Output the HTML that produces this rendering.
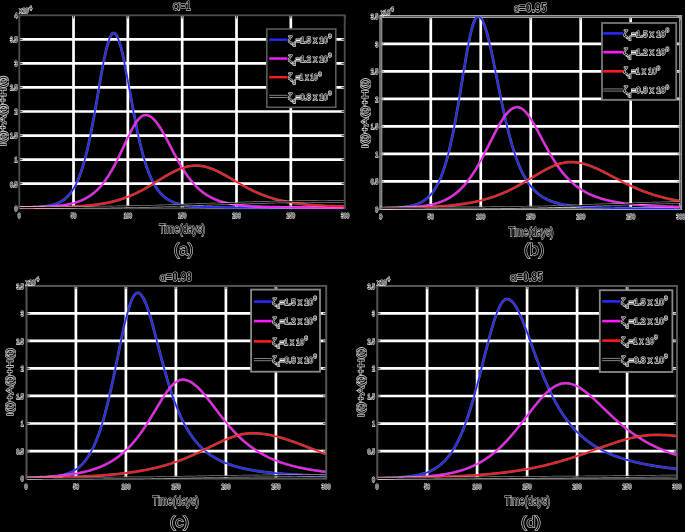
<!DOCTYPE html><html><head><meta charset="utf-8"><style>html,body{margin:0;padding:0;background:#000;overflow:hidden}svg{display:block;will-change:transform}.t{font-family:"Liberation Sans",sans-serif;fill:#000;stroke:#cfcfcf;stroke-width:1.25px;paint-order:stroke fill;}.b{font-weight:bold}.s{stroke:#f2f2f2;stroke-width:1.25px;}</style></head><body>
<svg width="685" height="532" viewBox="0 0 685 532">
<rect width="685" height="532" fill="#000"/>
<clipPath id="clipa"><rect x="19.900000000000002" y="15.3" width="324.2" height="194.3"/></clipPath>
<path d="M73.53,15.30V208.30M127.85,15.30V208.30M182.17,15.30V208.30M236.50,15.30V208.30M290.82,15.30V208.30M19.30,183.65H344.70M19.30,159.60H344.70M19.30,135.55H344.70M19.30,111.50H344.70M19.30,87.45H344.70M19.30,63.40H344.70M19.30,39.35H344.70" stroke="#fff" stroke-width="2.7" fill="none"/>
<rect x="19.3" y="15.3" width="325.4" height="193.0" fill="none" stroke="#4d4d4d" stroke-width="1.8"/>
<path d="M19.20,208.30v-3.2M19.20,15.30v3.2M73.53,208.30v-3.2M73.53,15.30v3.2M127.85,208.30v-3.2M127.85,15.30v3.2M182.17,208.30v-3.2M182.17,15.30v3.2M236.50,208.30v-3.2M236.50,15.30v3.2M290.82,208.30v-3.2M290.82,15.30v3.2M345.15,208.30v-3.2M345.15,15.30v3.2M19.30,207.70h3.2M344.70,207.70h-3.2M19.30,183.65h3.2M344.70,183.65h-3.2M19.30,159.60h3.2M344.70,159.60h-3.2M19.30,135.55h3.2M344.70,135.55h-3.2M19.30,111.50h3.2M344.70,111.50h-3.2M19.30,87.45h3.2M344.70,87.45h-3.2M19.30,63.40h3.2M344.70,63.40h-3.2M19.30,39.35h3.2M344.70,39.35h-3.2M19.30,15.30h3.2M344.70,15.30h-3.2" stroke="#4d4d4d" stroke-width="1.2" fill="none"/>
<g clip-path="url(#clipa)" fill="none" stroke-linejoin="round">
<path d="M19.3,207.6 L20.2,207.5 L21.2,207.5 L22.1,207.5 L23.0,207.5 L24.0,207.5 L24.9,207.5 L25.8,207.4 L26.8,207.4 L27.7,207.4 L28.6,207.4 L29.5,207.4 L30.5,207.3 L31.4,207.3 L32.3,207.3 L33.3,207.2 L34.2,207.2 L35.1,207.1 L36.1,207.1 L37.0,207.0 L37.9,207.0 L38.9,206.9 L39.8,206.8 L40.7,206.8 L41.6,206.7 L42.6,206.6 L43.5,206.5 L44.4,206.4 L45.4,206.3 L46.3,206.1 L47.2,206.0 L48.2,205.8 L49.1,205.7 L50.0,205.5 L51.0,205.3 L51.9,205.1 L52.8,204.8 L53.8,204.5 L54.7,204.3 L55.6,203.9 L56.5,203.6 L57.5,203.2 L58.4,202.8 L59.3,202.4 L60.3,201.9 L61.2,201.4 L62.1,200.8 L63.1,200.2 L64.0,199.6 L64.9,198.9 L65.8,198.1 L66.8,197.2 L67.7,196.3 L68.7,195.3 L69.6,194.3 L70.5,193.1 L71.4,191.9 L72.4,190.5 L73.3,189.1 L74.2,187.5 L75.2,185.8 L76.1,184.0 L77.0,182.0 L78.0,179.9 L78.9,177.7 L79.8,175.3 L80.8,172.7 L81.7,170.0 L82.6,167.1 L83.5,164.0 L84.5,160.7 L85.4,157.3 L86.3,153.6 L87.3,149.8 L88.2,145.7 L89.1,141.5 L90.1,137.1 L91.0,132.5 L91.9,127.7 L92.8,122.8 L93.8,117.7 L94.7,112.5 L95.7,107.2 L96.6,101.8 L97.5,96.4 L98.4,90.9 L99.4,85.5 L100.3,80.1 L101.2,74.8 L102.2,69.6 L103.1,64.6 L104.0,59.9 L105.0,55.3 L105.9,51.1 L106.8,47.3 L107.8,43.8 L108.7,40.8 L109.6,38.2 L110.5,36.1 L111.5,34.5 L112.4,33.5 L113.3,33.0 L114.3,33.0 L115.2,33.6 L116.1,34.7 L117.1,36.2 L118.0,38.2 L118.9,40.7 L119.8,43.6 L120.8,46.8 L121.7,50.5 L122.7,54.4 L123.6,58.6 L124.5,63.1 L125.4,67.8 L126.4,72.7 L127.3,77.7 L128.2,82.8 L129.2,87.9 L130.1,93.0 L131.0,98.2 L132.0,103.3 L132.9,108.4 L133.8,113.4 L134.8,118.2 L135.7,123.0 L136.6,127.6 L137.5,132.1 L138.5,136.4 L139.4,140.5 L140.3,144.5 L141.3,148.3 L142.2,151.9 L143.1,155.4 L144.1,158.7 L145.0,161.8 L145.9,164.7 L146.8,167.5 L147.8,170.1 L148.7,172.6 L149.7,174.9 L150.6,177.1 L151.5,179.2 L152.4,181.1 L153.4,182.9 L154.3,184.6 L155.2,186.1 L156.2,187.6 L157.1,188.9 L158.0,190.2 L159.0,191.4 L159.9,192.5 L160.8,193.6 L161.8,194.5 L162.7,195.4 L163.6,196.3 L164.5,197.0 L165.5,197.8 L166.4,198.4 L167.3,199.1 L168.3,199.6 L169.2,200.2 L170.1,200.7 L171.1,201.1 L172.0,201.6 L172.9,202.0 L173.8,202.3 L174.8,202.7 L175.7,203.0 L176.7,203.3 L177.6,203.6 L178.5,203.9 L179.4,204.1 L180.4,204.3 L181.3,204.6 L182.2,204.8 L183.2,204.9 L184.1,205.1 L185.0,205.3 L186.0,205.4 L186.9,205.6 L187.8,205.7 L188.8,205.8 L189.7,205.9 L190.6,206.0 L191.5,206.1 L192.5,206.2 L193.4,206.3 L194.3,206.4 L195.3,206.5 L196.2,206.5 L197.1,206.6 L198.1,206.7 L199.0,206.7 L199.9,206.8 L200.8,206.8 L201.8,206.9 L202.7,206.9 L203.7,207.0 L204.6,207.0 L205.5,207.0 L206.4,207.1 L207.4,207.1 L208.3,207.1 L209.2,207.2 L210.2,207.2 L211.1,207.2 L212.0,207.2 L213.0,207.3 L213.9,207.3 L214.8,207.3 L215.8,207.3 L216.7,207.3 L217.6,207.4 L218.5,207.4 L219.5,207.4 L220.4,207.4 L221.3,207.4 L222.3,207.4 L223.2,207.4 L224.1,207.5 L225.1,207.5 L226.0,207.5 L226.9,207.5 L227.8,207.5 L228.8,207.5 L229.7,207.5 L230.7,207.5 L231.6,207.5 L232.5,207.5 L233.4,207.6 L234.4,207.6 L235.3,207.6 L236.2,207.6 L237.2,207.6 L238.1,207.6 L239.0,207.6 L240.0,207.6 L240.9,207.6 L241.8,207.6 L242.8,207.6 L243.7,207.6 L244.6,207.6 L245.5,207.6 L246.5,207.6 L247.4,207.6 L248.3,207.6 L249.3,207.6 L250.2,207.6 L251.1,207.6 L252.1,207.6 L253.0,207.6 L253.9,207.6 L254.8,207.6 L255.8,207.6 L256.7,207.6 L257.6,207.6 L258.6,207.6 L259.5,207.6 L260.4,207.6 L261.4,207.7 L262.3,207.7 L263.2,207.7 L264.2,207.7 L265.1,207.7 L266.0,207.7 L267.0,207.7 L267.9,207.7 L268.8,207.7 L269.8,207.7 L270.7,207.7 L271.6,207.7 L272.5,207.7 L273.5,207.7 L274.4,207.7 L275.3,207.7 L276.3,207.7 L277.2,207.7 L278.1,207.7 L279.1,207.7 L280.0,207.7 L280.9,207.7 L281.9,207.7 L282.8,207.7 L283.7,207.7 L284.6,207.7 L285.6,207.7 L286.5,207.7 L287.4,207.7 L288.4,207.7 L289.3,207.7 L290.2,207.7 L291.2,207.7 L292.1,207.7 L293.0,207.7 L294.0,207.7 L294.9,207.7 L295.8,207.7 L296.8,207.7 L297.7,207.7 L298.6,207.7 L299.5,207.7 L300.5,207.7 L301.4,207.7 L302.3,207.7 L303.3,207.7 L304.2,207.7 L305.1,207.7 L306.1,207.7 L307.0,207.7 L307.9,207.7 L308.9,207.7 L309.8,207.7 L310.7,207.7 L311.6,207.7 L312.6,207.7 L313.5,207.7 L314.4,207.7 L315.4,207.7 L316.3,207.7 L317.2,207.7 L318.2,207.7 L319.1,207.7 L320.0,207.7 L321.0,207.7 L321.9,207.7 L322.8,207.7 L323.8,207.7 L324.7,207.7 L325.6,207.7 L326.5,207.7 L327.5,207.7 L328.4,207.7 L329.3,207.7 L330.3,207.7 L331.2,207.7 L332.1,207.7 L333.1,207.7 L334.0,207.7 L334.9,207.7 L335.9,207.7 L336.8,207.7 L337.7,207.7 L338.6,207.7 L339.6,207.7 L340.5,207.7 L341.4,207.7 L342.4,207.7 L343.3,207.7 L344.2,207.7" stroke="rgba(255,255,255,0.4)" stroke-width="2.7"/>
<path d="M19.3,207.6 L20.2,207.5 L21.2,207.5 L22.1,207.5 L23.0,207.5 L24.0,207.5 L24.9,207.5 L25.8,207.4 L26.8,207.4 L27.7,207.4 L28.6,207.4 L29.5,207.4 L30.5,207.3 L31.4,207.3 L32.3,207.3 L33.3,207.2 L34.2,207.2 L35.1,207.1 L36.1,207.1 L37.0,207.0 L37.9,207.0 L38.9,206.9 L39.8,206.8 L40.7,206.8 L41.6,206.7 L42.6,206.6 L43.5,206.5 L44.4,206.4 L45.4,206.3 L46.3,206.1 L47.2,206.0 L48.2,205.8 L49.1,205.7 L50.0,205.5 L51.0,205.3 L51.9,205.1 L52.8,204.8 L53.8,204.5 L54.7,204.3 L55.6,203.9 L56.5,203.6 L57.5,203.2 L58.4,202.8 L59.3,202.4 L60.3,201.9 L61.2,201.4 L62.1,200.8 L63.1,200.2 L64.0,199.6 L64.9,198.9 L65.8,198.1 L66.8,197.2 L67.7,196.3 L68.7,195.3 L69.6,194.3 L70.5,193.1 L71.4,191.9 L72.4,190.5 L73.3,189.1 L74.2,187.5 L75.2,185.8 L76.1,184.0 L77.0,182.0 L78.0,179.9 L78.9,177.7 L79.8,175.3 L80.8,172.7 L81.7,170.0 L82.6,167.1 L83.5,164.0 L84.5,160.7 L85.4,157.3 L86.3,153.6 L87.3,149.8 L88.2,145.7 L89.1,141.5 L90.1,137.1 L91.0,132.5 L91.9,127.7 L92.8,122.8 L93.8,117.7 L94.7,112.5 L95.7,107.2 L96.6,101.8 L97.5,96.4 L98.4,90.9 L99.4,85.5 L100.3,80.1 L101.2,74.8 L102.2,69.6 L103.1,64.6 L104.0,59.9 L105.0,55.3 L105.9,51.1 L106.8,47.3 L107.8,43.8 L108.7,40.8 L109.6,38.2 L110.5,36.1 L111.5,34.5 L112.4,33.5 L113.3,33.0 L114.3,33.0 L115.2,33.6 L116.1,34.7 L117.1,36.2 L118.0,38.2 L118.9,40.7 L119.8,43.6 L120.8,46.8 L121.7,50.5 L122.7,54.4 L123.6,58.6 L124.5,63.1 L125.4,67.8 L126.4,72.7 L127.3,77.7 L128.2,82.8 L129.2,87.9 L130.1,93.0 L131.0,98.2 L132.0,103.3 L132.9,108.4 L133.8,113.4 L134.8,118.2 L135.7,123.0 L136.6,127.6 L137.5,132.1 L138.5,136.4 L139.4,140.5 L140.3,144.5 L141.3,148.3 L142.2,151.9 L143.1,155.4 L144.1,158.7 L145.0,161.8 L145.9,164.7 L146.8,167.5 L147.8,170.1 L148.7,172.6 L149.7,174.9 L150.6,177.1 L151.5,179.2 L152.4,181.1 L153.4,182.9 L154.3,184.6 L155.2,186.1 L156.2,187.6 L157.1,188.9 L158.0,190.2 L159.0,191.4 L159.9,192.5 L160.8,193.6 L161.8,194.5 L162.7,195.4 L163.6,196.3 L164.5,197.0 L165.5,197.8 L166.4,198.4 L167.3,199.1 L168.3,199.6 L169.2,200.2 L170.1,200.7 L171.1,201.1 L172.0,201.6 L172.9,202.0 L173.8,202.3 L174.8,202.7 L175.7,203.0 L176.7,203.3 L177.6,203.6 L178.5,203.9 L179.4,204.1 L180.4,204.3 L181.3,204.6 L182.2,204.8 L183.2,204.9 L184.1,205.1 L185.0,205.3 L186.0,205.4 L186.9,205.6 L187.8,205.7 L188.8,205.8 L189.7,205.9 L190.6,206.0 L191.5,206.1 L192.5,206.2 L193.4,206.3 L194.3,206.4 L195.3,206.5 L196.2,206.5 L197.1,206.6 L198.1,206.7 L199.0,206.7 L199.9,206.8 L200.8,206.8 L201.8,206.9 L202.7,206.9 L203.7,207.0 L204.6,207.0 L205.5,207.0 L206.4,207.1 L207.4,207.1 L208.3,207.1 L209.2,207.2 L210.2,207.2 L211.1,207.2 L212.0,207.2 L213.0,207.3 L213.9,207.3 L214.8,207.3 L215.8,207.3 L216.7,207.3 L217.6,207.4 L218.5,207.4 L219.5,207.4 L220.4,207.4 L221.3,207.4 L222.3,207.4 L223.2,207.4 L224.1,207.5 L225.1,207.5 L226.0,207.5 L226.9,207.5 L227.8,207.5 L228.8,207.5 L229.7,207.5 L230.7,207.5 L231.6,207.5 L232.5,207.5 L233.4,207.6 L234.4,207.6 L235.3,207.6 L236.2,207.6 L237.2,207.6 L238.1,207.6 L239.0,207.6 L240.0,207.6 L240.9,207.6 L241.8,207.6 L242.8,207.6 L243.7,207.6 L244.6,207.6 L245.5,207.6 L246.5,207.6 L247.4,207.6 L248.3,207.6 L249.3,207.6 L250.2,207.6 L251.1,207.6 L252.1,207.6 L253.0,207.6 L253.9,207.6 L254.8,207.6 L255.8,207.6 L256.7,207.6 L257.6,207.6 L258.6,207.6 L259.5,207.6 L260.4,207.6 L261.4,207.7 L262.3,207.7 L263.2,207.7 L264.2,207.7 L265.1,207.7 L266.0,207.7 L267.0,207.7 L267.9,207.7 L268.8,207.7 L269.8,207.7 L270.7,207.7 L271.6,207.7 L272.5,207.7 L273.5,207.7 L274.4,207.7 L275.3,207.7 L276.3,207.7 L277.2,207.7 L278.1,207.7 L279.1,207.7 L280.0,207.7 L280.9,207.7 L281.9,207.7 L282.8,207.7 L283.7,207.7 L284.6,207.7 L285.6,207.7 L286.5,207.7 L287.4,207.7 L288.4,207.7 L289.3,207.7 L290.2,207.7 L291.2,207.7 L292.1,207.7 L293.0,207.7 L294.0,207.7 L294.9,207.7 L295.8,207.7 L296.8,207.7 L297.7,207.7 L298.6,207.7 L299.5,207.7 L300.5,207.7 L301.4,207.7 L302.3,207.7 L303.3,207.7 L304.2,207.7 L305.1,207.7 L306.1,207.7 L307.0,207.7 L307.9,207.7 L308.9,207.7 L309.8,207.7 L310.7,207.7 L311.6,207.7 L312.6,207.7 L313.5,207.7 L314.4,207.7 L315.4,207.7 L316.3,207.7 L317.2,207.7 L318.2,207.7 L319.1,207.7 L320.0,207.7 L321.0,207.7 L321.9,207.7 L322.8,207.7 L323.8,207.7 L324.7,207.7 L325.6,207.7 L326.5,207.7 L327.5,207.7 L328.4,207.7 L329.3,207.7 L330.3,207.7 L331.2,207.7 L332.1,207.7 L333.1,207.7 L334.0,207.7 L334.9,207.7 L335.9,207.7 L336.8,207.7 L337.7,207.7 L338.6,207.7 L339.6,207.7 L340.5,207.7 L341.4,207.7 L342.4,207.7 L343.3,207.7 L344.2,207.7" stroke="#2828ff" stroke-width="1.8"/>
<path d="M19.3,207.5 L20.2,207.5 L21.2,207.4 L22.1,207.4 L23.0,207.4 L24.0,207.4 L24.9,207.4 L25.8,207.4 L26.8,207.4 L27.7,207.4 L28.6,207.3 L29.5,207.3 L30.5,207.3 L31.4,207.3 L32.3,207.3 L33.3,207.2 L34.2,207.2 L35.1,207.2 L36.1,207.2 L37.0,207.2 L37.9,207.1 L38.9,207.1 L39.8,207.1 L40.7,207.0 L41.6,207.0 L42.6,206.9 L43.5,206.9 L44.4,206.9 L45.4,206.8 L46.3,206.8 L47.2,206.7 L48.2,206.7 L49.1,206.6 L50.0,206.5 L51.0,206.5 L51.9,206.4 L52.8,206.3 L53.8,206.3 L54.7,206.2 L55.6,206.1 L56.5,206.0 L57.5,205.9 L58.4,205.8 L59.3,205.7 L60.3,205.6 L61.2,205.5 L62.1,205.3 L63.1,205.2 L64.0,205.1 L64.9,204.9 L65.8,204.8 L66.8,204.6 L67.7,204.4 L68.7,204.2 L69.6,204.0 L70.5,203.8 L71.4,203.6 L72.4,203.4 L73.3,203.1 L74.2,202.9 L75.2,202.6 L76.1,202.3 L77.0,202.0 L78.0,201.7 L78.9,201.4 L79.8,201.0 L80.8,200.7 L81.7,200.3 L82.6,199.9 L83.5,199.4 L84.5,199.0 L85.4,198.5 L86.3,198.0 L87.3,197.5 L88.2,196.9 L89.1,196.3 L90.1,195.7 L91.0,195.1 L91.9,194.4 L92.8,193.7 L93.8,192.9 L94.7,192.2 L95.7,191.3 L96.6,190.5 L97.5,189.6 L98.4,188.7 L99.4,187.7 L100.3,186.7 L101.2,185.6 L102.2,184.5 L103.1,183.4 L104.0,182.2 L105.0,180.9 L105.9,179.6 L106.8,178.3 L107.8,176.9 L108.7,175.4 L109.6,173.9 L110.5,172.4 L111.5,170.8 L112.4,169.2 L113.3,167.5 L114.3,165.8 L115.2,164.0 L116.1,162.2 L117.1,160.4 L118.0,158.5 L118.9,156.6 L119.8,154.6 L120.8,152.7 L121.7,150.7 L122.7,148.7 L123.6,146.7 L124.5,144.7 L125.4,142.6 L126.4,140.6 L127.3,138.7 L128.2,136.7 L129.2,134.8 L130.1,132.9 L131.0,131.1 L132.0,129.3 L132.9,127.6 L133.8,126.0 L134.8,124.5 L135.7,123.0 L136.6,121.7 L137.5,120.4 L138.5,119.3 L139.4,118.3 L140.3,117.4 L141.3,116.7 L142.2,116.0 L143.1,115.6 L144.1,115.2 L145.0,115.1 L145.9,115.0 L146.8,115.1 L147.8,115.3 L148.7,115.7 L149.7,116.1 L150.6,116.6 L151.5,117.3 L152.4,118.0 L153.4,118.9 L154.3,119.8 L155.2,120.9 L156.2,122.0 L157.1,123.2 L158.0,124.5 L159.0,125.9 L159.9,127.3 L160.8,128.8 L161.8,130.3 L162.7,131.9 L163.6,133.6 L164.5,135.2 L165.5,136.9 L166.4,138.7 L167.3,140.4 L168.3,142.2 L169.2,144.0 L170.1,145.8 L171.1,147.6 L172.0,149.4 L172.9,151.2 L173.8,153.0 L174.8,154.7 L175.7,156.5 L176.7,158.2 L177.6,159.9 L178.5,161.5 L179.4,163.2 L180.4,164.8 L181.3,166.4 L182.2,167.9 L183.2,169.4 L184.1,170.9 L185.0,172.3 L186.0,173.7 L186.9,175.1 L187.8,176.4 L188.8,177.6 L189.7,178.9 L190.6,180.1 L191.5,181.2 L192.5,182.3 L193.4,183.4 L194.3,184.4 L195.3,185.4 L196.2,186.4 L197.1,187.3 L198.1,188.2 L199.0,189.1 L199.9,189.9 L200.8,190.7 L201.8,191.4 L202.7,192.2 L203.7,192.9 L204.6,193.5 L205.5,194.2 L206.4,194.8 L207.4,195.4 L208.3,195.9 L209.2,196.4 L210.2,197.0 L211.1,197.4 L212.0,197.9 L213.0,198.4 L213.9,198.8 L214.8,199.2 L215.8,199.6 L216.7,199.9 L217.6,200.3 L218.5,200.6 L219.5,201.0 L220.4,201.3 L221.3,201.6 L222.3,201.8 L223.2,202.1 L224.1,202.3 L225.1,202.6 L226.0,202.8 L226.9,203.0 L227.8,203.2 L228.8,203.4 L229.7,203.6 L230.7,203.8 L231.6,204.0 L232.5,204.2 L233.4,204.3 L234.4,204.5 L235.3,204.6 L236.2,204.7 L237.2,204.9 L238.1,205.0 L239.0,205.1 L240.0,205.2 L240.9,205.3 L241.8,205.4 L242.8,205.5 L243.7,205.6 L244.6,205.7 L245.5,205.8 L246.5,205.9 L247.4,205.9 L248.3,206.0 L249.3,206.1 L250.2,206.2 L251.1,206.2 L252.1,206.3 L253.0,206.3 L253.9,206.4 L254.8,206.4 L255.8,206.5 L256.7,206.6 L257.6,206.6 L258.6,206.6 L259.5,206.7 L260.4,206.7 L261.4,206.8 L262.3,206.8 L263.2,206.8 L264.2,206.9 L265.1,206.9 L266.0,206.9 L267.0,206.9 L267.9,207.0 L268.8,207.0 L269.8,207.0 L270.7,207.1 L271.6,207.1 L272.5,207.1 L273.5,207.1 L274.4,207.2 L275.3,207.2 L276.3,207.2 L277.2,207.2 L278.1,207.2 L279.1,207.2 L280.0,207.2 L280.9,207.3 L281.9,207.3 L282.8,207.3 L283.7,207.3 L284.6,207.3 L285.6,207.3 L286.5,207.3 L287.4,207.4 L288.4,207.4 L289.3,207.4 L290.2,207.4 L291.2,207.4 L292.1,207.4 L293.0,207.4 L294.0,207.4 L294.9,207.4 L295.8,207.4 L296.8,207.5 L297.7,207.5 L298.6,207.5 L299.5,207.5 L300.5,207.5 L301.4,207.5 L302.3,207.5 L303.3,207.5 L304.2,207.5 L305.1,207.5 L306.1,207.5 L307.0,207.5 L307.9,207.5 L308.9,207.5 L309.8,207.6 L310.7,207.6 L311.6,207.6 L312.6,207.6 L313.5,207.6 L314.4,207.6 L315.4,207.6 L316.3,207.6 L317.2,207.6 L318.2,207.6 L319.1,207.6 L320.0,207.6 L321.0,207.6 L321.9,207.6 L322.8,207.6 L323.8,207.6 L324.7,207.6 L325.6,207.6 L326.5,207.6 L327.5,207.6 L328.4,207.6 L329.3,207.6 L330.3,207.6 L331.2,207.6 L332.1,207.6 L333.1,207.6 L334.0,207.6 L334.9,207.7 L335.9,207.7 L336.8,207.7 L337.7,207.7 L338.6,207.7 L339.6,207.7 L340.5,207.7 L341.4,207.7 L342.4,207.7 L343.3,207.7 L344.2,207.7" stroke="rgba(255,255,255,0.4)" stroke-width="2.7"/>
<path d="M19.3,207.5 L20.2,207.5 L21.2,207.4 L22.1,207.4 L23.0,207.4 L24.0,207.4 L24.9,207.4 L25.8,207.4 L26.8,207.4 L27.7,207.4 L28.6,207.3 L29.5,207.3 L30.5,207.3 L31.4,207.3 L32.3,207.3 L33.3,207.2 L34.2,207.2 L35.1,207.2 L36.1,207.2 L37.0,207.2 L37.9,207.1 L38.9,207.1 L39.8,207.1 L40.7,207.0 L41.6,207.0 L42.6,206.9 L43.5,206.9 L44.4,206.9 L45.4,206.8 L46.3,206.8 L47.2,206.7 L48.2,206.7 L49.1,206.6 L50.0,206.5 L51.0,206.5 L51.9,206.4 L52.8,206.3 L53.8,206.3 L54.7,206.2 L55.6,206.1 L56.5,206.0 L57.5,205.9 L58.4,205.8 L59.3,205.7 L60.3,205.6 L61.2,205.5 L62.1,205.3 L63.1,205.2 L64.0,205.1 L64.9,204.9 L65.8,204.8 L66.8,204.6 L67.7,204.4 L68.7,204.2 L69.6,204.0 L70.5,203.8 L71.4,203.6 L72.4,203.4 L73.3,203.1 L74.2,202.9 L75.2,202.6 L76.1,202.3 L77.0,202.0 L78.0,201.7 L78.9,201.4 L79.8,201.0 L80.8,200.7 L81.7,200.3 L82.6,199.9 L83.5,199.4 L84.5,199.0 L85.4,198.5 L86.3,198.0 L87.3,197.5 L88.2,196.9 L89.1,196.3 L90.1,195.7 L91.0,195.1 L91.9,194.4 L92.8,193.7 L93.8,192.9 L94.7,192.2 L95.7,191.3 L96.6,190.5 L97.5,189.6 L98.4,188.7 L99.4,187.7 L100.3,186.7 L101.2,185.6 L102.2,184.5 L103.1,183.4 L104.0,182.2 L105.0,180.9 L105.9,179.6 L106.8,178.3 L107.8,176.9 L108.7,175.4 L109.6,173.9 L110.5,172.4 L111.5,170.8 L112.4,169.2 L113.3,167.5 L114.3,165.8 L115.2,164.0 L116.1,162.2 L117.1,160.4 L118.0,158.5 L118.9,156.6 L119.8,154.6 L120.8,152.7 L121.7,150.7 L122.7,148.7 L123.6,146.7 L124.5,144.7 L125.4,142.6 L126.4,140.6 L127.3,138.7 L128.2,136.7 L129.2,134.8 L130.1,132.9 L131.0,131.1 L132.0,129.3 L132.9,127.6 L133.8,126.0 L134.8,124.5 L135.7,123.0 L136.6,121.7 L137.5,120.4 L138.5,119.3 L139.4,118.3 L140.3,117.4 L141.3,116.7 L142.2,116.0 L143.1,115.6 L144.1,115.2 L145.0,115.1 L145.9,115.0 L146.8,115.1 L147.8,115.3 L148.7,115.7 L149.7,116.1 L150.6,116.6 L151.5,117.3 L152.4,118.0 L153.4,118.9 L154.3,119.8 L155.2,120.9 L156.2,122.0 L157.1,123.2 L158.0,124.5 L159.0,125.9 L159.9,127.3 L160.8,128.8 L161.8,130.3 L162.7,131.9 L163.6,133.6 L164.5,135.2 L165.5,136.9 L166.4,138.7 L167.3,140.4 L168.3,142.2 L169.2,144.0 L170.1,145.8 L171.1,147.6 L172.0,149.4 L172.9,151.2 L173.8,153.0 L174.8,154.7 L175.7,156.5 L176.7,158.2 L177.6,159.9 L178.5,161.5 L179.4,163.2 L180.4,164.8 L181.3,166.4 L182.2,167.9 L183.2,169.4 L184.1,170.9 L185.0,172.3 L186.0,173.7 L186.9,175.1 L187.8,176.4 L188.8,177.6 L189.7,178.9 L190.6,180.1 L191.5,181.2 L192.5,182.3 L193.4,183.4 L194.3,184.4 L195.3,185.4 L196.2,186.4 L197.1,187.3 L198.1,188.2 L199.0,189.1 L199.9,189.9 L200.8,190.7 L201.8,191.4 L202.7,192.2 L203.7,192.9 L204.6,193.5 L205.5,194.2 L206.4,194.8 L207.4,195.4 L208.3,195.9 L209.2,196.4 L210.2,197.0 L211.1,197.4 L212.0,197.9 L213.0,198.4 L213.9,198.8 L214.8,199.2 L215.8,199.6 L216.7,199.9 L217.6,200.3 L218.5,200.6 L219.5,201.0 L220.4,201.3 L221.3,201.6 L222.3,201.8 L223.2,202.1 L224.1,202.3 L225.1,202.6 L226.0,202.8 L226.9,203.0 L227.8,203.2 L228.8,203.4 L229.7,203.6 L230.7,203.8 L231.6,204.0 L232.5,204.2 L233.4,204.3 L234.4,204.5 L235.3,204.6 L236.2,204.7 L237.2,204.9 L238.1,205.0 L239.0,205.1 L240.0,205.2 L240.9,205.3 L241.8,205.4 L242.8,205.5 L243.7,205.6 L244.6,205.7 L245.5,205.8 L246.5,205.9 L247.4,205.9 L248.3,206.0 L249.3,206.1 L250.2,206.2 L251.1,206.2 L252.1,206.3 L253.0,206.3 L253.9,206.4 L254.8,206.4 L255.8,206.5 L256.7,206.6 L257.6,206.6 L258.6,206.6 L259.5,206.7 L260.4,206.7 L261.4,206.8 L262.3,206.8 L263.2,206.8 L264.2,206.9 L265.1,206.9 L266.0,206.9 L267.0,206.9 L267.9,207.0 L268.8,207.0 L269.8,207.0 L270.7,207.1 L271.6,207.1 L272.5,207.1 L273.5,207.1 L274.4,207.2 L275.3,207.2 L276.3,207.2 L277.2,207.2 L278.1,207.2 L279.1,207.2 L280.0,207.2 L280.9,207.3 L281.9,207.3 L282.8,207.3 L283.7,207.3 L284.6,207.3 L285.6,207.3 L286.5,207.3 L287.4,207.4 L288.4,207.4 L289.3,207.4 L290.2,207.4 L291.2,207.4 L292.1,207.4 L293.0,207.4 L294.0,207.4 L294.9,207.4 L295.8,207.4 L296.8,207.5 L297.7,207.5 L298.6,207.5 L299.5,207.5 L300.5,207.5 L301.4,207.5 L302.3,207.5 L303.3,207.5 L304.2,207.5 L305.1,207.5 L306.1,207.5 L307.0,207.5 L307.9,207.5 L308.9,207.5 L309.8,207.6 L310.7,207.6 L311.6,207.6 L312.6,207.6 L313.5,207.6 L314.4,207.6 L315.4,207.6 L316.3,207.6 L317.2,207.6 L318.2,207.6 L319.1,207.6 L320.0,207.6 L321.0,207.6 L321.9,207.6 L322.8,207.6 L323.8,207.6 L324.7,207.6 L325.6,207.6 L326.5,207.6 L327.5,207.6 L328.4,207.6 L329.3,207.6 L330.3,207.6 L331.2,207.6 L332.1,207.6 L333.1,207.6 L334.0,207.6 L334.9,207.7 L335.9,207.7 L336.8,207.7 L337.7,207.7 L338.6,207.7 L339.6,207.7 L340.5,207.7 L341.4,207.7 L342.4,207.7 L343.3,207.7 L344.2,207.7" stroke="#ff1aff" stroke-width="1.8"/>
<path d="M19.3,207.7 L20.2,207.7 L21.2,207.7 L22.1,207.7 L23.0,207.7 L24.0,207.7 L24.9,207.7 L25.8,207.7 L26.8,207.6 L27.7,207.6 L28.6,207.6 L29.5,207.6 L30.5,207.6 L31.4,207.6 L32.3,207.6 L33.3,207.6 L34.2,207.6 L35.1,207.6 L36.1,207.6 L37.0,207.5 L37.9,207.5 L38.9,207.5 L39.8,207.5 L40.7,207.5 L41.6,207.5 L42.6,207.5 L43.5,207.5 L44.4,207.4 L45.4,207.4 L46.3,207.4 L47.2,207.4 L48.2,207.4 L49.1,207.4 L50.0,207.3 L51.0,207.3 L51.9,207.3 L52.8,207.3 L53.8,207.3 L54.7,207.3 L55.6,207.2 L56.5,207.2 L57.5,207.2 L58.4,207.2 L59.3,207.2 L60.3,207.1 L61.2,207.1 L62.1,207.1 L63.1,207.0 L64.0,207.0 L64.9,207.0 L65.8,206.9 L66.8,206.9 L67.7,206.9 L68.7,206.8 L69.6,206.8 L70.5,206.8 L71.4,206.7 L72.4,206.7 L73.3,206.6 L74.2,206.6 L75.2,206.5 L76.1,206.5 L77.0,206.4 L78.0,206.4 L78.9,206.3 L79.8,206.2 L80.8,206.2 L81.7,206.1 L82.6,206.1 L83.5,206.0 L84.5,205.9 L85.4,205.8 L86.3,205.7 L87.3,205.7 L88.2,205.6 L89.1,205.5 L90.1,205.4 L91.0,205.3 L91.9,205.2 L92.8,205.1 L93.8,205.0 L94.7,204.8 L95.7,204.7 L96.6,204.6 L97.5,204.5 L98.4,204.3 L99.4,204.2 L100.3,204.1 L101.2,203.9 L102.2,203.8 L103.1,203.6 L104.0,203.4 L105.0,203.3 L105.9,203.1 L106.8,202.9 L107.8,202.7 L108.7,202.5 L109.6,202.3 L110.5,202.1 L111.5,201.9 L112.4,201.7 L113.3,201.4 L114.3,201.2 L115.2,200.9 L116.1,200.7 L117.1,200.4 L118.0,200.2 L118.9,199.9 L119.8,199.6 L120.8,199.3 L121.7,199.0 L122.7,198.7 L123.6,198.4 L124.5,198.0 L125.4,197.7 L126.4,197.3 L127.3,197.0 L128.2,196.6 L129.2,196.2 L130.1,195.9 L131.0,195.5 L132.0,195.1 L132.9,194.7 L133.8,194.2 L134.8,193.8 L135.7,193.4 L136.6,192.9 L137.5,192.5 L138.5,192.0 L139.4,191.5 L140.3,191.1 L141.3,190.6 L142.2,190.1 L143.1,189.6 L144.1,189.1 L145.0,188.5 L145.9,188.0 L146.8,187.5 L147.8,186.9 L148.7,186.4 L149.7,185.9 L150.6,185.3 L151.5,184.8 L152.4,184.2 L153.4,183.6 L154.3,183.1 L155.2,182.5 L156.2,181.9 L157.1,181.3 L158.0,180.8 L159.0,180.2 L159.9,179.6 L160.8,179.1 L161.8,178.5 L162.7,177.9 L163.6,177.4 L164.5,176.8 L165.5,176.3 L166.4,175.7 L167.3,175.2 L168.3,174.7 L169.2,174.1 L170.1,173.6 L171.1,173.1 L172.0,172.6 L172.9,172.1 L173.8,171.7 L174.8,171.2 L175.7,170.8 L176.7,170.3 L177.6,169.9 L178.5,169.5 L179.4,169.1 L180.4,168.7 L181.3,168.4 L182.2,168.1 L183.2,167.8 L184.1,167.4 L185.0,167.2 L186.0,166.9 L186.9,166.7 L187.8,166.5 L188.8,166.3 L189.7,166.1 L190.6,166.0 L191.5,165.9 L192.5,165.8 L193.4,165.7 L194.3,165.6 L195.3,165.6 L196.2,165.6 L197.1,165.6 L198.1,165.7 L199.0,165.7 L199.9,165.8 L200.8,165.9 L201.8,166.1 L202.7,166.2 L203.7,166.4 L204.6,166.6 L205.5,166.8 L206.4,167.0 L207.4,167.3 L208.3,167.6 L209.2,167.9 L210.2,168.2 L211.1,168.5 L212.0,168.9 L213.0,169.2 L213.9,169.6 L214.8,170.0 L215.8,170.4 L216.7,170.9 L217.6,171.3 L218.5,171.8 L219.5,172.2 L220.4,172.7 L221.3,173.2 L222.3,173.7 L223.2,174.2 L224.1,174.7 L225.1,175.2 L226.0,175.7 L226.9,176.3 L227.8,176.8 L228.8,177.3 L229.7,177.9 L230.7,178.4 L231.6,179.0 L232.5,179.5 L233.4,180.0 L234.4,180.6 L235.3,181.1 L236.2,181.7 L237.2,182.2 L238.1,182.8 L239.0,183.3 L240.0,183.8 L240.9,184.3 L241.8,184.9 L242.8,185.4 L243.7,185.9 L244.6,186.4 L245.5,186.9 L246.5,187.4 L247.4,187.9 L248.3,188.4 L249.3,188.9 L250.2,189.3 L251.1,189.8 L252.1,190.3 L253.0,190.7 L253.9,191.2 L254.8,191.6 L255.8,192.0 L256.7,192.4 L257.6,192.8 L258.6,193.2 L259.5,193.6 L260.4,194.0 L261.4,194.4 L262.3,194.8 L263.2,195.1 L264.2,195.5 L265.1,195.8 L266.0,196.1 L267.0,196.5 L267.9,196.8 L268.8,197.1 L269.8,197.4 L270.7,197.7 L271.6,198.0 L272.5,198.3 L273.5,198.6 L274.4,198.8 L275.3,199.1 L276.3,199.3 L277.2,199.6 L278.1,199.8 L279.1,200.1 L280.0,200.3 L280.9,200.5 L281.9,200.7 L282.8,200.9 L283.7,201.1 L284.6,201.3 L285.6,201.5 L286.5,201.7 L287.4,201.9 L288.4,202.1 L289.3,202.2 L290.2,202.4 L291.2,202.5 L292.1,202.7 L293.0,202.8 L294.0,203.0 L294.9,203.1 L295.8,203.3 L296.8,203.4 L297.7,203.5 L298.6,203.7 L299.5,203.8 L300.5,203.9 L301.4,204.0 L302.3,204.1 L303.3,204.2 L304.2,204.3 L305.1,204.4 L306.1,204.5 L307.0,204.6 L307.9,204.7 L308.9,204.8 L309.8,204.8 L310.7,204.9 L311.6,205.0 L312.6,205.1 L313.5,205.2 L314.4,205.2 L315.4,205.3 L316.3,205.3 L317.2,205.4 L318.2,205.5 L319.1,205.5 L320.0,205.6 L321.0,205.6 L321.9,205.7 L322.8,205.7 L323.8,205.8 L324.7,205.8 L325.6,205.9 L326.5,205.9 L327.5,206.0 L328.4,206.0 L329.3,206.0 L330.3,206.1 L331.2,206.1 L332.1,206.2 L333.1,206.2 L334.0,206.2 L334.9,206.2 L335.9,206.3 L336.8,206.3 L337.7,206.3 L338.6,206.3 L339.6,206.4 L340.5,206.4 L341.4,206.4 L342.4,206.4 L343.3,206.5 L344.2,206.5" stroke="rgba(255,255,255,0.4)" stroke-width="2.7"/>
<path d="M19.3,207.7 L20.2,207.7 L21.2,207.7 L22.1,207.7 L23.0,207.7 L24.0,207.7 L24.9,207.7 L25.8,207.7 L26.8,207.6 L27.7,207.6 L28.6,207.6 L29.5,207.6 L30.5,207.6 L31.4,207.6 L32.3,207.6 L33.3,207.6 L34.2,207.6 L35.1,207.6 L36.1,207.6 L37.0,207.5 L37.9,207.5 L38.9,207.5 L39.8,207.5 L40.7,207.5 L41.6,207.5 L42.6,207.5 L43.5,207.5 L44.4,207.4 L45.4,207.4 L46.3,207.4 L47.2,207.4 L48.2,207.4 L49.1,207.4 L50.0,207.3 L51.0,207.3 L51.9,207.3 L52.8,207.3 L53.8,207.3 L54.7,207.3 L55.6,207.2 L56.5,207.2 L57.5,207.2 L58.4,207.2 L59.3,207.2 L60.3,207.1 L61.2,207.1 L62.1,207.1 L63.1,207.0 L64.0,207.0 L64.9,207.0 L65.8,206.9 L66.8,206.9 L67.7,206.9 L68.7,206.8 L69.6,206.8 L70.5,206.8 L71.4,206.7 L72.4,206.7 L73.3,206.6 L74.2,206.6 L75.2,206.5 L76.1,206.5 L77.0,206.4 L78.0,206.4 L78.9,206.3 L79.8,206.2 L80.8,206.2 L81.7,206.1 L82.6,206.1 L83.5,206.0 L84.5,205.9 L85.4,205.8 L86.3,205.7 L87.3,205.7 L88.2,205.6 L89.1,205.5 L90.1,205.4 L91.0,205.3 L91.9,205.2 L92.8,205.1 L93.8,205.0 L94.7,204.8 L95.7,204.7 L96.6,204.6 L97.5,204.5 L98.4,204.3 L99.4,204.2 L100.3,204.1 L101.2,203.9 L102.2,203.8 L103.1,203.6 L104.0,203.4 L105.0,203.3 L105.9,203.1 L106.8,202.9 L107.8,202.7 L108.7,202.5 L109.6,202.3 L110.5,202.1 L111.5,201.9 L112.4,201.7 L113.3,201.4 L114.3,201.2 L115.2,200.9 L116.1,200.7 L117.1,200.4 L118.0,200.2 L118.9,199.9 L119.8,199.6 L120.8,199.3 L121.7,199.0 L122.7,198.7 L123.6,198.4 L124.5,198.0 L125.4,197.7 L126.4,197.3 L127.3,197.0 L128.2,196.6 L129.2,196.2 L130.1,195.9 L131.0,195.5 L132.0,195.1 L132.9,194.7 L133.8,194.2 L134.8,193.8 L135.7,193.4 L136.6,192.9 L137.5,192.5 L138.5,192.0 L139.4,191.5 L140.3,191.1 L141.3,190.6 L142.2,190.1 L143.1,189.6 L144.1,189.1 L145.0,188.5 L145.9,188.0 L146.8,187.5 L147.8,186.9 L148.7,186.4 L149.7,185.9 L150.6,185.3 L151.5,184.8 L152.4,184.2 L153.4,183.6 L154.3,183.1 L155.2,182.5 L156.2,181.9 L157.1,181.3 L158.0,180.8 L159.0,180.2 L159.9,179.6 L160.8,179.1 L161.8,178.5 L162.7,177.9 L163.6,177.4 L164.5,176.8 L165.5,176.3 L166.4,175.7 L167.3,175.2 L168.3,174.7 L169.2,174.1 L170.1,173.6 L171.1,173.1 L172.0,172.6 L172.9,172.1 L173.8,171.7 L174.8,171.2 L175.7,170.8 L176.7,170.3 L177.6,169.9 L178.5,169.5 L179.4,169.1 L180.4,168.7 L181.3,168.4 L182.2,168.1 L183.2,167.8 L184.1,167.4 L185.0,167.2 L186.0,166.9 L186.9,166.7 L187.8,166.5 L188.8,166.3 L189.7,166.1 L190.6,166.0 L191.5,165.9 L192.5,165.8 L193.4,165.7 L194.3,165.6 L195.3,165.6 L196.2,165.6 L197.1,165.6 L198.1,165.7 L199.0,165.7 L199.9,165.8 L200.8,165.9 L201.8,166.1 L202.7,166.2 L203.7,166.4 L204.6,166.6 L205.5,166.8 L206.4,167.0 L207.4,167.3 L208.3,167.6 L209.2,167.9 L210.2,168.2 L211.1,168.5 L212.0,168.9 L213.0,169.2 L213.9,169.6 L214.8,170.0 L215.8,170.4 L216.7,170.9 L217.6,171.3 L218.5,171.8 L219.5,172.2 L220.4,172.7 L221.3,173.2 L222.3,173.7 L223.2,174.2 L224.1,174.7 L225.1,175.2 L226.0,175.7 L226.9,176.3 L227.8,176.8 L228.8,177.3 L229.7,177.9 L230.7,178.4 L231.6,179.0 L232.5,179.5 L233.4,180.0 L234.4,180.6 L235.3,181.1 L236.2,181.7 L237.2,182.2 L238.1,182.8 L239.0,183.3 L240.0,183.8 L240.9,184.3 L241.8,184.9 L242.8,185.4 L243.7,185.9 L244.6,186.4 L245.5,186.9 L246.5,187.4 L247.4,187.9 L248.3,188.4 L249.3,188.9 L250.2,189.3 L251.1,189.8 L252.1,190.3 L253.0,190.7 L253.9,191.2 L254.8,191.6 L255.8,192.0 L256.7,192.4 L257.6,192.8 L258.6,193.2 L259.5,193.6 L260.4,194.0 L261.4,194.4 L262.3,194.8 L263.2,195.1 L264.2,195.5 L265.1,195.8 L266.0,196.1 L267.0,196.5 L267.9,196.8 L268.8,197.1 L269.8,197.4 L270.7,197.7 L271.6,198.0 L272.5,198.3 L273.5,198.6 L274.4,198.8 L275.3,199.1 L276.3,199.3 L277.2,199.6 L278.1,199.8 L279.1,200.1 L280.0,200.3 L280.9,200.5 L281.9,200.7 L282.8,200.9 L283.7,201.1 L284.6,201.3 L285.6,201.5 L286.5,201.7 L287.4,201.9 L288.4,202.1 L289.3,202.2 L290.2,202.4 L291.2,202.5 L292.1,202.7 L293.0,202.8 L294.0,203.0 L294.9,203.1 L295.8,203.3 L296.8,203.4 L297.7,203.5 L298.6,203.7 L299.5,203.8 L300.5,203.9 L301.4,204.0 L302.3,204.1 L303.3,204.2 L304.2,204.3 L305.1,204.4 L306.1,204.5 L307.0,204.6 L307.9,204.7 L308.9,204.8 L309.8,204.8 L310.7,204.9 L311.6,205.0 L312.6,205.1 L313.5,205.2 L314.4,205.2 L315.4,205.3 L316.3,205.3 L317.2,205.4 L318.2,205.5 L319.1,205.5 L320.0,205.6 L321.0,205.6 L321.9,205.7 L322.8,205.7 L323.8,205.8 L324.7,205.8 L325.6,205.9 L326.5,205.9 L327.5,206.0 L328.4,206.0 L329.3,206.0 L330.3,206.1 L331.2,206.1 L332.1,206.2 L333.1,206.2 L334.0,206.2 L334.9,206.2 L335.9,206.3 L336.8,206.3 L337.7,206.3 L338.6,206.3 L339.6,206.4 L340.5,206.4 L341.4,206.4 L342.4,206.4 L343.3,206.5 L344.2,206.5" stroke="#ff1a22" stroke-width="1.8"/>
<path d="M19.30,207.60 L22.03,207.59 L24.77,207.57 L27.50,207.56 L30.24,207.55 L32.97,207.53 L35.71,207.52 L38.44,207.51 L41.18,207.49 L43.91,207.48 L46.64,207.46 L49.38,207.45 L52.11,207.44 L54.85,207.42 L57.58,207.41 L60.32,207.40 L63.05,207.38 L65.79,207.37 L68.52,207.36 L71.25,207.34 L73.99,207.33 L76.72,207.32 L79.46,207.30 L82.19,207.29 L84.93,207.27 L87.66,207.26 L90.40,207.25 L93.13,207.23 L95.86,207.22 L98.60,207.21 L101.33,207.18 L104.07,207.13 L106.80,207.08 L109.54,207.03 L112.27,206.98 L115.01,206.93 L117.74,206.88 L120.47,206.83 L123.21,206.78 L125.94,206.73 L128.68,206.68 L131.41,206.63 L134.15,206.59 L136.88,206.54 L139.62,206.49 L142.35,206.44 L145.08,206.39 L147.82,206.34 L150.55,206.28 L153.29,206.18 L156.02,206.08 L158.76,205.98 L161.49,205.89 L164.23,205.79 L166.96,205.69 L169.69,205.59 L172.43,205.49 L175.16,205.39 L177.90,205.30 L180.63,205.20 L183.37,205.10 L186.10,205.00 L188.84,204.90 L191.57,204.80 L194.31,204.71 L197.04,204.61 L199.77,204.51 L202.51,204.41 L205.24,204.32 L207.98,204.22 L210.71,204.12 L213.45,204.03 L216.18,203.93 L218.92,203.84 L221.65,203.74 L224.38,203.64 L227.12,203.55 L229.85,203.45 L232.59,203.36 L235.32,203.26 L238.06,203.17 L240.79,203.09 L243.53,203.00 L246.26,202.92 L248.99,202.84 L251.73,202.75 L254.46,202.67 L257.20,202.59 L259.93,202.51 L262.67,202.42 L265.40,202.34 L268.14,202.26 L270.87,202.18 L273.60,202.13 L276.34,202.07 L279.07,202.02 L281.81,201.96 L284.54,201.91 L287.28,201.85 L290.01,201.80 L292.75,201.75 L295.48,201.69 L298.21,201.64 L300.95,201.59 L303.68,201.58 L306.42,201.56 L309.15,201.54 L311.89,201.52 L314.62,201.50 L317.36,201.48 L320.09,201.47 L322.82,201.45 L325.56,201.43 L328.29,201.41 L331.03,201.39 L333.76,201.37 L336.50,201.36 L339.23,201.34 L341.97,201.32 L344.70,201.30" stroke="rgba(255,255,255,0.5)" stroke-width="2.6"/>
<path d="M19.30,207.60 L22.03,207.59 L24.77,207.57 L27.50,207.56 L30.24,207.55 L32.97,207.53 L35.71,207.52 L38.44,207.51 L41.18,207.49 L43.91,207.48 L46.64,207.46 L49.38,207.45 L52.11,207.44 L54.85,207.42 L57.58,207.41 L60.32,207.40 L63.05,207.38 L65.79,207.37 L68.52,207.36 L71.25,207.34 L73.99,207.33 L76.72,207.32 L79.46,207.30 L82.19,207.29 L84.93,207.27 L87.66,207.26 L90.40,207.25 L93.13,207.23 L95.86,207.22 L98.60,207.21 L101.33,207.18 L104.07,207.13 L106.80,207.08 L109.54,207.03 L112.27,206.98 L115.01,206.93 L117.74,206.88 L120.47,206.83 L123.21,206.78 L125.94,206.73 L128.68,206.68 L131.41,206.63 L134.15,206.59 L136.88,206.54 L139.62,206.49 L142.35,206.44 L145.08,206.39 L147.82,206.34 L150.55,206.28 L153.29,206.18 L156.02,206.08 L158.76,205.98 L161.49,205.89 L164.23,205.79 L166.96,205.69 L169.69,205.59 L172.43,205.49 L175.16,205.39 L177.90,205.30 L180.63,205.20 L183.37,205.10 L186.10,205.00 L188.84,204.90 L191.57,204.80 L194.31,204.71 L197.04,204.61 L199.77,204.51 L202.51,204.41 L205.24,204.32 L207.98,204.22 L210.71,204.12 L213.45,204.03 L216.18,203.93 L218.92,203.84 L221.65,203.74 L224.38,203.64 L227.12,203.55 L229.85,203.45 L232.59,203.36 L235.32,203.26 L238.06,203.17 L240.79,203.09 L243.53,203.00 L246.26,202.92 L248.99,202.84 L251.73,202.75 L254.46,202.67 L257.20,202.59 L259.93,202.51 L262.67,202.42 L265.40,202.34 L268.14,202.26 L270.87,202.18 L273.60,202.13 L276.34,202.07 L279.07,202.02 L281.81,201.96 L284.54,201.91 L287.28,201.85 L290.01,201.80 L292.75,201.75 L295.48,201.69 L298.21,201.64 L300.95,201.59 L303.68,201.58 L306.42,201.56 L309.15,201.54 L311.89,201.52 L314.62,201.50 L317.36,201.48 L320.09,201.47 L322.82,201.45 L325.56,201.43 L328.29,201.41 L331.03,201.39 L333.76,201.37 L336.50,201.36 L339.23,201.34 L341.97,201.32 L344.70,201.30" stroke="#000" stroke-width="1.2"/>
</g>
<rect x="266.8" y="29" width="69.0" height="78.3" fill="#000" stroke="#5a5a5a" stroke-width="1.6"/>
<path d="M269.2,39.7H287.5" stroke="#2828ff" stroke-width="2.4"/>
<text class="t s" x="288.00" y="42.85" font-size="9.9" text-anchor="start">ζ</text>
<text class="t s" x="292.50" y="46.45" font-size="5.3999999999999995" text-anchor="start">d</text>
<text class="t s" x="295.65" y="42.85" font-size="9" text-anchor="start" textLength="32.20" lengthAdjust="spacingAndGlyphs">=1.5 x 10</text>
<text class="t s" x="328.25" y="38.35" font-size="5.8500000000000005" text-anchor="start">8</text>
<path d="M269.2,58.5H287.5" stroke="#ff1aff" stroke-width="2.4"/>
<text class="t s" x="288.00" y="61.65" font-size="9.9" text-anchor="start">ζ</text>
<text class="t s" x="292.50" y="65.25" font-size="5.3999999999999995" text-anchor="start">d</text>
<text class="t s" x="295.65" y="61.65" font-size="9" text-anchor="start" textLength="32.20" lengthAdjust="spacingAndGlyphs">=1.2 x 10</text>
<text class="t s" x="328.25" y="57.15" font-size="5.8500000000000005" text-anchor="start">8</text>
<path d="M269.2,77.2H287.5" stroke="#ff1a22" stroke-width="2.4"/>
<text class="t s" x="288.00" y="80.35" font-size="9.9" text-anchor="start">ζ</text>
<text class="t s" x="292.50" y="83.95" font-size="5.3999999999999995" text-anchor="start">d</text>
<text class="t s" x="295.65" y="80.35" font-size="9" text-anchor="start" textLength="22.20" lengthAdjust="spacingAndGlyphs">=1 x 10</text>
<text class="t s" x="318.25" y="75.85" font-size="5.8500000000000005" text-anchor="start">8</text>
<path d="M269.2,96.4H287.5" stroke="rgba(255,255,255,0.5)" stroke-width="3.2"/>
<path d="M269.2,96.4H287.5" stroke="#000" stroke-width="1.2"/>
<text class="t s" x="288.00" y="99.55" font-size="9.9" text-anchor="start">ζ</text>
<text class="t s" x="292.50" y="103.15" font-size="5.3999999999999995" text-anchor="start">d</text>
<text class="t s" x="295.65" y="99.55" font-size="9" text-anchor="start" textLength="32.20" lengthAdjust="spacingAndGlyphs">=0.8 x 10</text>
<text class="t s" x="328.25" y="95.05" font-size="5.8500000000000005" text-anchor="start">8</text>
<text class="t s" x="19.20" y="218.00" font-size="8" text-anchor="middle" textLength="2.80" lengthAdjust="spacingAndGlyphs">0</text>
<text class="t s" x="73.53" y="218.00" font-size="8" text-anchor="middle" textLength="5.60" lengthAdjust="spacingAndGlyphs">50</text>
<text class="t s" x="127.85" y="218.00" font-size="8" text-anchor="middle" textLength="8.40" lengthAdjust="spacingAndGlyphs">100</text>
<text class="t s" x="182.17" y="218.00" font-size="8" text-anchor="middle" textLength="8.40" lengthAdjust="spacingAndGlyphs">150</text>
<text class="t s" x="236.50" y="218.00" font-size="8" text-anchor="middle" textLength="8.40" lengthAdjust="spacingAndGlyphs">200</text>
<text class="t s" x="290.82" y="218.00" font-size="8" text-anchor="middle" textLength="8.40" lengthAdjust="spacingAndGlyphs">250</text>
<text class="t s" x="345.15" y="218.00" font-size="8" text-anchor="middle" textLength="8.40" lengthAdjust="spacingAndGlyphs">300</text>
<text class="t s" x="14.60" y="210.58" font-size="8" text-anchor="start" textLength="3.00" lengthAdjust="spacingAndGlyphs">0</text>
<text class="t s" x="10.10" y="186.53" font-size="8" text-anchor="start" textLength="7.50" lengthAdjust="spacingAndGlyphs">0.5</text>
<text class="t s" x="14.60" y="162.48" font-size="8" text-anchor="start" textLength="3.00" lengthAdjust="spacingAndGlyphs">1</text>
<text class="t s" x="10.10" y="138.43" font-size="8" text-anchor="start" textLength="7.50" lengthAdjust="spacingAndGlyphs">1.5</text>
<text class="t s" x="14.60" y="114.38" font-size="8" text-anchor="start" textLength="3.00" lengthAdjust="spacingAndGlyphs">2</text>
<text class="t s" x="10.10" y="90.33" font-size="8" text-anchor="start" textLength="7.50" lengthAdjust="spacingAndGlyphs">2.5</text>
<text class="t s" x="14.60" y="66.28" font-size="8" text-anchor="start" textLength="3.00" lengthAdjust="spacingAndGlyphs">3</text>
<text class="t s" x="10.10" y="42.23" font-size="8" text-anchor="start" textLength="7.50" lengthAdjust="spacingAndGlyphs">3.5</text>
<text class="t s" x="14.60" y="18.18" font-size="8" text-anchor="start" textLength="3.00" lengthAdjust="spacingAndGlyphs">4</text>
<text class="t s" x="19.30" y="13.20" font-size="8" text-anchor="start" textLength="9.20" lengthAdjust="spacingAndGlyphs">x10</text>
<text class="t s" x="28.80" y="9.60" font-size="6.0" text-anchor="start">4</text>
<text class="t" x="172.80" y="10.20" font-size="12.5" text-anchor="start" textLength="7.20" lengthAdjust="spacingAndGlyphs">α</text>
<text class="t" x="180.30" y="10.20" font-size="13.0" text-anchor="start" textLength="10.70" lengthAdjust="spacingAndGlyphs">=1</text>
<text class="t" x="0" y="0" font-size="8.5" text-anchor="middle" textLength="70" lengthAdjust="spacingAndGlyphs" transform="translate(6.2,111) rotate(-90)">I(t)+A(t)+H(t)</text>
<text class="t" x="159.00" y="233.30" font-size="13.5" text-anchor="start" textLength="46.20" lengthAdjust="spacingAndGlyphs">Time(days)</text>
<text class="t" x="173.70" y="254.50" font-size="17" text-anchor="start" textLength="19.70" lengthAdjust="spacingAndGlyphs">(a)</text>
<clipPath id="clipb"><rect x="381.40000000000003" y="16.5" width="298.6" height="193.3"/></clipPath>
<path d="M430.78,16.50V208.50M480.75,16.50V208.50M530.73,16.50V208.50M580.70,16.50V208.50M630.67,16.50V208.50M380.80,181.28H680.60M380.80,153.80H680.60M380.80,126.32H680.60M380.80,98.85H680.60M380.80,71.38H680.60M380.80,43.90H680.60" stroke="#fff" stroke-width="2.7" fill="none"/>
<rect x="380.8" y="16.5" width="299.8" height="192.0" fill="none" stroke="#a0a0a0" stroke-width="3"/>
<rect x="380.8" y="16.5" width="299.8" height="192.0" fill="none" stroke="#555" stroke-width="1"/>
<path d="M380.80,208.50v-3.2M380.80,16.50v3.2M430.78,208.50v-3.2M430.78,16.50v3.2M480.75,208.50v-3.2M480.75,16.50v3.2M530.73,208.50v-3.2M530.73,16.50v3.2M580.70,208.50v-3.2M580.70,16.50v3.2M630.67,208.50v-3.2M630.67,16.50v3.2M680.65,208.50v-3.2M680.65,16.50v3.2M380.80,208.75h3.2M680.60,208.75h-3.2M380.80,181.28h3.2M680.60,181.28h-3.2M380.80,153.80h3.2M680.60,153.80h-3.2M380.80,126.32h3.2M680.60,126.32h-3.2M380.80,98.85h3.2M680.60,98.85h-3.2M380.80,71.38h3.2M680.60,71.38h-3.2M380.80,43.90h3.2M680.60,43.90h-3.2M380.80,16.42h3.2M680.60,16.42h-3.2" stroke="#a0a0a0" stroke-width="1.2" fill="none"/>
<g clip-path="url(#clipb)" fill="none" stroke-linejoin="round">
<path d="M380.8,208.3 L381.7,208.3 L382.5,208.3 L383.4,208.2 L384.2,208.2 L385.1,208.2 L385.9,208.2 L386.8,208.2 L387.7,208.1 L388.5,208.1 L389.4,208.1 L390.2,208.1 L391.1,208.0 L391.9,208.0 L392.8,207.9 L393.7,207.9 L394.5,207.9 L395.4,207.8 L396.2,207.8 L397.1,207.7 L398.0,207.7 L398.8,207.6 L399.7,207.5 L400.5,207.4 L401.4,207.3 L402.2,207.3 L403.1,207.2 L404.0,207.1 L404.8,207.0 L405.7,206.8 L406.5,206.7 L407.4,206.6 L408.2,206.4 L409.1,206.3 L410.0,206.1 L410.8,205.9 L411.7,205.7 L412.5,205.5 L413.4,205.3 L414.2,205.1 L415.1,204.8 L416.0,204.5 L416.8,204.2 L417.7,203.9 L418.5,203.5 L419.4,203.2 L420.3,202.8 L421.1,202.3 L422.0,201.9 L422.8,201.4 L423.7,200.8 L424.6,200.2 L425.4,199.6 L426.3,199.0 L427.1,198.3 L428.0,197.5 L428.8,196.7 L429.7,195.8 L430.6,194.9 L431.4,193.9 L432.3,192.8 L433.1,191.7 L434.0,190.4 L434.8,189.1 L435.7,187.7 L436.6,186.2 L437.4,184.7 L438.3,183.0 L439.1,181.2 L440.0,179.3 L440.9,177.2 L441.7,175.1 L442.6,172.8 L443.4,170.4 L444.3,167.8 L445.1,165.1 L446.0,162.3 L446.9,159.3 L447.7,156.1 L448.6,152.8 L449.4,149.3 L450.3,145.6 L451.1,141.8 L452.0,137.9 L452.9,133.7 L453.7,129.4 L454.6,125.0 L455.4,120.4 L456.3,115.7 L457.1,110.8 L458.0,105.8 L458.9,100.8 L459.7,95.6 L460.6,90.4 L461.4,85.2 L462.3,79.9 L463.1,74.6 L464.0,69.4 L464.9,64.2 L465.7,59.2 L466.6,54.2 L467.4,49.5 L468.3,44.9 L469.1,40.6 L470.0,36.5 L470.9,32.7 L471.7,29.2 L472.6,26.2 L473.4,23.5 L474.3,21.2 L475.2,19.3 L476.0,17.9 L476.9,17.0 L477.7,16.5 L478.6,16.5 L479.4,16.8 L480.3,17.5 L481.2,18.5 L482.0,19.8 L482.9,21.5 L483.7,23.4 L484.6,25.6 L485.4,28.2 L486.3,30.9 L487.2,33.9 L488.0,37.1 L488.9,40.6 L489.7,44.2 L490.6,47.9 L491.5,51.8 L492.3,55.8 L493.2,60.0 L494.0,64.2 L494.9,68.4 L495.7,72.7 L496.6,77.0 L497.5,81.3 L498.3,85.6 L499.2,89.9 L500.0,94.2 L500.9,98.4 L501.8,102.5 L502.6,106.6 L503.5,110.6 L504.3,114.5 L505.2,118.3 L506.0,122.0 L506.9,125.6 L507.8,129.2 L508.6,132.6 L509.5,135.8 L510.3,139.0 L511.2,142.1 L512.0,145.1 L512.9,147.9 L513.8,150.7 L514.6,153.3 L515.5,155.9 L516.3,158.3 L517.2,160.6 L518.0,162.9 L518.9,165.0 L519.8,167.0 L520.6,169.0 L521.5,170.9 L522.3,172.6 L523.2,174.3 L524.0,175.9 L524.9,177.5 L525.8,179.0 L526.6,180.4 L527.5,181.7 L528.3,183.0 L529.2,184.2 L530.1,185.3 L530.9,186.4 L531.8,187.4 L532.6,188.4 L533.5,189.4 L534.4,190.3 L535.2,191.1 L536.1,191.9 L536.9,192.7 L537.8,193.4 L538.6,194.1 L539.5,194.8 L540.4,195.4 L541.2,196.0 L542.1,196.6 L542.9,197.1 L543.8,197.6 L544.6,198.1 L545.5,198.6 L546.4,199.0 L547.2,199.5 L548.1,199.9 L548.9,200.2 L549.8,200.6 L550.6,200.9 L551.5,201.3 L552.4,201.6 L553.2,201.9 L554.1,202.2 L554.9,202.4 L555.8,202.7 L556.6,202.9 L557.5,203.2 L558.4,203.4 L559.2,203.6 L560.1,203.8 L560.9,204.0 L561.8,204.2 L562.6,204.4 L563.5,204.5 L564.4,204.7 L565.2,204.9 L566.1,205.0 L566.9,205.1 L567.8,205.3 L568.7,205.4 L569.5,205.5 L570.4,205.6 L571.2,205.8 L572.1,205.9 L573.0,206.0 L573.8,206.1 L574.7,206.2 L575.5,206.2 L576.4,206.3 L577.2,206.4 L578.1,206.5 L579.0,206.6 L579.8,206.6 L580.7,206.7 L581.5,206.8 L582.4,206.8 L583.2,206.9 L584.1,207.0 L585.0,207.0 L585.8,207.1 L586.7,207.1 L587.5,207.2 L588.4,207.2 L589.2,207.3 L590.1,207.3 L591.0,207.3 L591.8,207.4 L592.7,207.4 L593.5,207.5 L594.4,207.5 L595.2,207.5 L596.1,207.6 L597.0,207.6 L597.8,207.6 L598.7,207.7 L599.5,207.7 L600.4,207.7 L601.2,207.7 L602.1,207.8 L603.0,207.8 L603.8,207.8 L604.7,207.8 L605.5,207.9 L606.4,207.9 L607.3,207.9 L608.1,207.9 L609.0,207.9 L609.8,207.9 L610.7,208.0 L611.5,208.0 L612.4,208.0 L613.3,208.0 L614.1,208.0 L615.0,208.1 L615.8,208.1 L616.7,208.1 L617.5,208.1 L618.4,208.1 L619.3,208.1 L620.1,208.1 L621.0,208.1 L621.8,208.2 L622.7,208.2 L623.6,208.2 L624.4,208.2 L625.3,208.2 L626.1,208.2 L627.0,208.2 L627.9,208.2 L628.7,208.2 L629.6,208.2 L630.4,208.2 L631.3,208.2 L632.1,208.2 L633.0,208.3 L633.9,208.3 L634.7,208.3 L635.6,208.3 L636.4,208.3 L637.3,208.3 L638.1,208.3 L639.0,208.3 L639.9,208.3 L640.7,208.3 L641.6,208.3 L642.4,208.3 L643.3,208.3 L644.1,208.3 L645.0,208.3 L645.9,208.3 L646.7,208.3 L647.6,208.3 L648.4,208.3 L649.3,208.3 L650.1,208.4 L651.0,208.4 L651.9,208.4 L652.7,208.4 L653.6,208.4 L654.4,208.4 L655.3,208.4 L656.1,208.4 L657.0,208.4 L657.9,208.4 L658.7,208.4 L659.6,208.4 L660.4,208.4 L661.3,208.4 L662.2,208.4 L663.0,208.4 L663.9,208.4 L664.7,208.4 L665.6,208.4 L666.5,208.4 L667.3,208.4 L668.2,208.4 L669.0,208.4 L669.9,208.4 L670.7,208.4 L671.6,208.4 L672.5,208.4 L673.3,208.4 L674.2,208.4 L675.0,208.4 L675.9,208.4 L676.7,208.4 L677.6,208.4 L678.5,208.4 L679.3,208.4 L680.2,208.4" stroke="rgba(255,255,255,0.4)" stroke-width="2.7"/>
<path d="M380.8,208.3 L381.7,208.3 L382.5,208.3 L383.4,208.2 L384.2,208.2 L385.1,208.2 L385.9,208.2 L386.8,208.2 L387.7,208.1 L388.5,208.1 L389.4,208.1 L390.2,208.1 L391.1,208.0 L391.9,208.0 L392.8,207.9 L393.7,207.9 L394.5,207.9 L395.4,207.8 L396.2,207.8 L397.1,207.7 L398.0,207.7 L398.8,207.6 L399.7,207.5 L400.5,207.4 L401.4,207.3 L402.2,207.3 L403.1,207.2 L404.0,207.1 L404.8,207.0 L405.7,206.8 L406.5,206.7 L407.4,206.6 L408.2,206.4 L409.1,206.3 L410.0,206.1 L410.8,205.9 L411.7,205.7 L412.5,205.5 L413.4,205.3 L414.2,205.1 L415.1,204.8 L416.0,204.5 L416.8,204.2 L417.7,203.9 L418.5,203.5 L419.4,203.2 L420.3,202.8 L421.1,202.3 L422.0,201.9 L422.8,201.4 L423.7,200.8 L424.6,200.2 L425.4,199.6 L426.3,199.0 L427.1,198.3 L428.0,197.5 L428.8,196.7 L429.7,195.8 L430.6,194.9 L431.4,193.9 L432.3,192.8 L433.1,191.7 L434.0,190.4 L434.8,189.1 L435.7,187.7 L436.6,186.2 L437.4,184.7 L438.3,183.0 L439.1,181.2 L440.0,179.3 L440.9,177.2 L441.7,175.1 L442.6,172.8 L443.4,170.4 L444.3,167.8 L445.1,165.1 L446.0,162.3 L446.9,159.3 L447.7,156.1 L448.6,152.8 L449.4,149.3 L450.3,145.6 L451.1,141.8 L452.0,137.9 L452.9,133.7 L453.7,129.4 L454.6,125.0 L455.4,120.4 L456.3,115.7 L457.1,110.8 L458.0,105.8 L458.9,100.8 L459.7,95.6 L460.6,90.4 L461.4,85.2 L462.3,79.9 L463.1,74.6 L464.0,69.4 L464.9,64.2 L465.7,59.2 L466.6,54.2 L467.4,49.5 L468.3,44.9 L469.1,40.6 L470.0,36.5 L470.9,32.7 L471.7,29.2 L472.6,26.2 L473.4,23.5 L474.3,21.2 L475.2,19.3 L476.0,17.9 L476.9,17.0 L477.7,16.5 L478.6,16.5 L479.4,16.8 L480.3,17.5 L481.2,18.5 L482.0,19.8 L482.9,21.5 L483.7,23.4 L484.6,25.6 L485.4,28.2 L486.3,30.9 L487.2,33.9 L488.0,37.1 L488.9,40.6 L489.7,44.2 L490.6,47.9 L491.5,51.8 L492.3,55.8 L493.2,60.0 L494.0,64.2 L494.9,68.4 L495.7,72.7 L496.6,77.0 L497.5,81.3 L498.3,85.6 L499.2,89.9 L500.0,94.2 L500.9,98.4 L501.8,102.5 L502.6,106.6 L503.5,110.6 L504.3,114.5 L505.2,118.3 L506.0,122.0 L506.9,125.6 L507.8,129.2 L508.6,132.6 L509.5,135.8 L510.3,139.0 L511.2,142.1 L512.0,145.1 L512.9,147.9 L513.8,150.7 L514.6,153.3 L515.5,155.9 L516.3,158.3 L517.2,160.6 L518.0,162.9 L518.9,165.0 L519.8,167.0 L520.6,169.0 L521.5,170.9 L522.3,172.6 L523.2,174.3 L524.0,175.9 L524.9,177.5 L525.8,179.0 L526.6,180.4 L527.5,181.7 L528.3,183.0 L529.2,184.2 L530.1,185.3 L530.9,186.4 L531.8,187.4 L532.6,188.4 L533.5,189.4 L534.4,190.3 L535.2,191.1 L536.1,191.9 L536.9,192.7 L537.8,193.4 L538.6,194.1 L539.5,194.8 L540.4,195.4 L541.2,196.0 L542.1,196.6 L542.9,197.1 L543.8,197.6 L544.6,198.1 L545.5,198.6 L546.4,199.0 L547.2,199.5 L548.1,199.9 L548.9,200.2 L549.8,200.6 L550.6,200.9 L551.5,201.3 L552.4,201.6 L553.2,201.9 L554.1,202.2 L554.9,202.4 L555.8,202.7 L556.6,202.9 L557.5,203.2 L558.4,203.4 L559.2,203.6 L560.1,203.8 L560.9,204.0 L561.8,204.2 L562.6,204.4 L563.5,204.5 L564.4,204.7 L565.2,204.9 L566.1,205.0 L566.9,205.1 L567.8,205.3 L568.7,205.4 L569.5,205.5 L570.4,205.6 L571.2,205.8 L572.1,205.9 L573.0,206.0 L573.8,206.1 L574.7,206.2 L575.5,206.2 L576.4,206.3 L577.2,206.4 L578.1,206.5 L579.0,206.6 L579.8,206.6 L580.7,206.7 L581.5,206.8 L582.4,206.8 L583.2,206.9 L584.1,207.0 L585.0,207.0 L585.8,207.1 L586.7,207.1 L587.5,207.2 L588.4,207.2 L589.2,207.3 L590.1,207.3 L591.0,207.3 L591.8,207.4 L592.7,207.4 L593.5,207.5 L594.4,207.5 L595.2,207.5 L596.1,207.6 L597.0,207.6 L597.8,207.6 L598.7,207.7 L599.5,207.7 L600.4,207.7 L601.2,207.7 L602.1,207.8 L603.0,207.8 L603.8,207.8 L604.7,207.8 L605.5,207.9 L606.4,207.9 L607.3,207.9 L608.1,207.9 L609.0,207.9 L609.8,207.9 L610.7,208.0 L611.5,208.0 L612.4,208.0 L613.3,208.0 L614.1,208.0 L615.0,208.1 L615.8,208.1 L616.7,208.1 L617.5,208.1 L618.4,208.1 L619.3,208.1 L620.1,208.1 L621.0,208.1 L621.8,208.2 L622.7,208.2 L623.6,208.2 L624.4,208.2 L625.3,208.2 L626.1,208.2 L627.0,208.2 L627.9,208.2 L628.7,208.2 L629.6,208.2 L630.4,208.2 L631.3,208.2 L632.1,208.2 L633.0,208.3 L633.9,208.3 L634.7,208.3 L635.6,208.3 L636.4,208.3 L637.3,208.3 L638.1,208.3 L639.0,208.3 L639.9,208.3 L640.7,208.3 L641.6,208.3 L642.4,208.3 L643.3,208.3 L644.1,208.3 L645.0,208.3 L645.9,208.3 L646.7,208.3 L647.6,208.3 L648.4,208.3 L649.3,208.3 L650.1,208.4 L651.0,208.4 L651.9,208.4 L652.7,208.4 L653.6,208.4 L654.4,208.4 L655.3,208.4 L656.1,208.4 L657.0,208.4 L657.9,208.4 L658.7,208.4 L659.6,208.4 L660.4,208.4 L661.3,208.4 L662.2,208.4 L663.0,208.4 L663.9,208.4 L664.7,208.4 L665.6,208.4 L666.5,208.4 L667.3,208.4 L668.2,208.4 L669.0,208.4 L669.9,208.4 L670.7,208.4 L671.6,208.4 L672.5,208.4 L673.3,208.4 L674.2,208.4 L675.0,208.4 L675.9,208.4 L676.7,208.4 L677.6,208.4 L678.5,208.4 L679.3,208.4 L680.2,208.4" stroke="#2828ff" stroke-width="1.8"/>
<path d="M380.8,208.3 L381.7,208.3 L382.5,208.3 L383.4,208.3 L384.2,208.3 L385.1,208.2 L385.9,208.2 L386.8,208.2 L387.7,208.2 L388.5,208.2 L389.4,208.2 L390.2,208.2 L391.1,208.1 L391.9,208.1 L392.8,208.1 L393.7,208.1 L394.5,208.1 L395.4,208.0 L396.2,208.0 L397.1,208.0 L398.0,208.0 L398.8,207.9 L399.7,207.9 L400.5,207.9 L401.4,207.8 L402.2,207.8 L403.1,207.8 L404.0,207.7 L404.8,207.7 L405.7,207.7 L406.5,207.6 L407.4,207.6 L408.2,207.5 L409.1,207.5 L410.0,207.4 L410.8,207.3 L411.7,207.3 L412.5,207.2 L413.4,207.2 L414.2,207.1 L415.1,207.0 L416.0,206.9 L416.8,206.8 L417.7,206.8 L418.5,206.7 L419.4,206.6 L420.3,206.5 L421.1,206.4 L422.0,206.3 L422.8,206.2 L423.7,206.0 L424.6,205.9 L425.4,205.8 L426.3,205.6 L427.1,205.5 L428.0,205.3 L428.8,205.2 L429.7,205.0 L430.6,204.8 L431.4,204.6 L432.3,204.4 L433.1,204.2 L434.0,204.0 L434.8,203.8 L435.7,203.5 L436.6,203.2 L437.4,203.0 L438.3,202.7 L439.1,202.4 L440.0,202.1 L440.9,201.8 L441.7,201.5 L442.6,201.1 L443.4,200.8 L444.3,200.4 L445.1,200.0 L446.0,199.6 L446.9,199.1 L447.7,198.7 L448.6,198.2 L449.4,197.7 L450.3,197.2 L451.1,196.7 L452.0,196.1 L452.9,195.5 L453.7,194.9 L454.6,194.3 L455.4,193.6 L456.3,192.9 L457.1,192.2 L458.0,191.5 L458.9,190.8 L459.7,190.0 L460.6,189.1 L461.4,188.3 L462.3,187.4 L463.1,186.5 L464.0,185.6 L464.9,184.6 L465.7,183.6 L466.6,182.5 L467.4,181.4 L468.3,180.3 L469.1,179.2 L470.0,178.0 L470.9,176.8 L471.7,175.6 L472.6,174.3 L473.4,173.0 L474.3,171.7 L475.2,170.3 L476.0,168.9 L476.9,167.5 L477.7,166.0 L478.6,164.5 L479.4,163.0 L480.3,161.4 L481.2,159.9 L482.0,158.3 L482.9,156.7 L483.7,155.0 L484.6,153.4 L485.4,151.7 L486.3,150.0 L487.2,148.3 L488.0,146.6 L488.9,144.9 L489.7,143.2 L490.6,141.5 L491.5,139.8 L492.3,138.1 L493.2,136.3 L494.0,134.7 L494.9,133.0 L495.7,131.3 L496.6,129.7 L497.5,128.1 L498.3,126.6 L499.2,125.0 L500.0,123.5 L500.9,122.1 L501.8,120.7 L502.6,119.3 L503.5,118.0 L504.3,116.8 L505.2,115.6 L506.0,114.5 L506.9,113.5 L507.8,112.5 L508.6,111.6 L509.5,110.8 L510.3,110.0 L511.2,109.4 L512.0,108.8 L512.9,108.3 L513.8,107.9 L514.6,107.6 L515.5,107.4 L516.3,107.2 L517.2,107.2 L518.0,107.2 L518.9,107.4 L519.8,107.6 L520.6,108.0 L521.5,108.4 L522.3,109.0 L523.2,109.6 L524.0,110.4 L524.9,111.2 L525.8,112.1 L526.6,113.1 L527.5,114.1 L528.3,115.3 L529.2,116.5 L530.1,117.7 L530.9,119.0 L531.8,120.4 L532.6,121.8 L533.5,123.3 L534.4,124.8 L535.2,126.3 L536.1,127.8 L536.9,129.4 L537.8,131.0 L538.6,132.6 L539.5,134.3 L540.4,135.9 L541.2,137.5 L542.1,139.2 L542.9,140.8 L543.8,142.4 L544.6,144.0 L545.5,145.6 L546.4,147.2 L547.2,148.8 L548.1,150.3 L548.9,151.8 L549.8,153.3 L550.6,154.8 L551.5,156.3 L552.4,157.7 L553.2,159.1 L554.1,160.5 L554.9,161.8 L555.8,163.1 L556.6,164.4 L557.5,165.7 L558.4,166.9 L559.2,168.1 L560.1,169.3 L560.9,170.4 L561.8,171.5 L562.6,172.6 L563.5,173.6 L564.4,174.7 L565.2,175.6 L566.1,176.6 L566.9,177.5 L567.8,178.4 L568.7,179.3 L569.5,180.2 L570.4,181.0 L571.2,181.8 L572.1,182.6 L573.0,183.3 L573.8,184.1 L574.7,184.8 L575.5,185.5 L576.4,186.1 L577.2,186.8 L578.1,187.4 L579.0,188.0 L579.8,188.6 L580.7,189.2 L581.5,189.7 L582.4,190.3 L583.2,190.8 L584.1,191.3 L585.0,191.8 L585.8,192.2 L586.7,192.7 L587.5,193.1 L588.4,193.6 L589.2,194.0 L590.1,194.4 L591.0,194.8 L591.8,195.1 L592.7,195.5 L593.5,195.8 L594.4,196.2 L595.2,196.5 L596.1,196.8 L597.0,197.1 L597.8,197.4 L598.7,197.7 L599.5,198.0 L600.4,198.3 L601.2,198.6 L602.1,198.8 L603.0,199.1 L603.8,199.3 L604.7,199.5 L605.5,199.8 L606.4,200.0 L607.3,200.2 L608.1,200.4 L609.0,200.6 L609.8,200.8 L610.7,201.0 L611.5,201.2 L612.4,201.3 L613.3,201.5 L614.1,201.7 L615.0,201.8 L615.8,202.0 L616.7,202.2 L617.5,202.3 L618.4,202.4 L619.3,202.6 L620.1,202.7 L621.0,202.9 L621.8,203.0 L622.7,203.1 L623.6,203.2 L624.4,203.3 L625.3,203.5 L626.1,203.6 L627.0,203.7 L627.9,203.8 L628.7,203.9 L629.6,204.0 L630.4,204.1 L631.3,204.2 L632.1,204.3 L633.0,204.4 L633.9,204.4 L634.7,204.5 L635.6,204.6 L636.4,204.7 L637.3,204.8 L638.1,204.8 L639.0,204.9 L639.9,205.0 L640.7,205.1 L641.6,205.1 L642.4,205.2 L643.3,205.3 L644.1,205.3 L645.0,205.4 L645.9,205.4 L646.7,205.5 L647.6,205.6 L648.4,205.6 L649.3,205.7 L650.1,205.7 L651.0,205.8 L651.9,205.8 L652.7,205.9 L653.6,205.9 L654.4,206.0 L655.3,206.0 L656.1,206.1 L657.0,206.1 L657.9,206.1 L658.7,206.2 L659.6,206.2 L660.4,206.3 L661.3,206.3 L662.2,206.3 L663.0,206.4 L663.9,206.4 L664.7,206.4 L665.6,206.5 L666.5,206.5 L667.3,206.5 L668.2,206.6 L669.0,206.6 L669.9,206.6 L670.7,206.7 L671.6,206.7 L672.5,206.7 L673.3,206.7 L674.2,206.8 L675.0,206.8 L675.9,206.8 L676.7,206.8 L677.6,206.8 L678.5,206.9 L679.3,206.9 L680.2,206.9" stroke="rgba(255,255,255,0.4)" stroke-width="2.7"/>
<path d="M380.8,208.3 L381.7,208.3 L382.5,208.3 L383.4,208.3 L384.2,208.3 L385.1,208.2 L385.9,208.2 L386.8,208.2 L387.7,208.2 L388.5,208.2 L389.4,208.2 L390.2,208.2 L391.1,208.1 L391.9,208.1 L392.8,208.1 L393.7,208.1 L394.5,208.1 L395.4,208.0 L396.2,208.0 L397.1,208.0 L398.0,208.0 L398.8,207.9 L399.7,207.9 L400.5,207.9 L401.4,207.8 L402.2,207.8 L403.1,207.8 L404.0,207.7 L404.8,207.7 L405.7,207.7 L406.5,207.6 L407.4,207.6 L408.2,207.5 L409.1,207.5 L410.0,207.4 L410.8,207.3 L411.7,207.3 L412.5,207.2 L413.4,207.2 L414.2,207.1 L415.1,207.0 L416.0,206.9 L416.8,206.8 L417.7,206.8 L418.5,206.7 L419.4,206.6 L420.3,206.5 L421.1,206.4 L422.0,206.3 L422.8,206.2 L423.7,206.0 L424.6,205.9 L425.4,205.8 L426.3,205.6 L427.1,205.5 L428.0,205.3 L428.8,205.2 L429.7,205.0 L430.6,204.8 L431.4,204.6 L432.3,204.4 L433.1,204.2 L434.0,204.0 L434.8,203.8 L435.7,203.5 L436.6,203.2 L437.4,203.0 L438.3,202.7 L439.1,202.4 L440.0,202.1 L440.9,201.8 L441.7,201.5 L442.6,201.1 L443.4,200.8 L444.3,200.4 L445.1,200.0 L446.0,199.6 L446.9,199.1 L447.7,198.7 L448.6,198.2 L449.4,197.7 L450.3,197.2 L451.1,196.7 L452.0,196.1 L452.9,195.5 L453.7,194.9 L454.6,194.3 L455.4,193.6 L456.3,192.9 L457.1,192.2 L458.0,191.5 L458.9,190.8 L459.7,190.0 L460.6,189.1 L461.4,188.3 L462.3,187.4 L463.1,186.5 L464.0,185.6 L464.9,184.6 L465.7,183.6 L466.6,182.5 L467.4,181.4 L468.3,180.3 L469.1,179.2 L470.0,178.0 L470.9,176.8 L471.7,175.6 L472.6,174.3 L473.4,173.0 L474.3,171.7 L475.2,170.3 L476.0,168.9 L476.9,167.5 L477.7,166.0 L478.6,164.5 L479.4,163.0 L480.3,161.4 L481.2,159.9 L482.0,158.3 L482.9,156.7 L483.7,155.0 L484.6,153.4 L485.4,151.7 L486.3,150.0 L487.2,148.3 L488.0,146.6 L488.9,144.9 L489.7,143.2 L490.6,141.5 L491.5,139.8 L492.3,138.1 L493.2,136.3 L494.0,134.7 L494.9,133.0 L495.7,131.3 L496.6,129.7 L497.5,128.1 L498.3,126.6 L499.2,125.0 L500.0,123.5 L500.9,122.1 L501.8,120.7 L502.6,119.3 L503.5,118.0 L504.3,116.8 L505.2,115.6 L506.0,114.5 L506.9,113.5 L507.8,112.5 L508.6,111.6 L509.5,110.8 L510.3,110.0 L511.2,109.4 L512.0,108.8 L512.9,108.3 L513.8,107.9 L514.6,107.6 L515.5,107.4 L516.3,107.2 L517.2,107.2 L518.0,107.2 L518.9,107.4 L519.8,107.6 L520.6,108.0 L521.5,108.4 L522.3,109.0 L523.2,109.6 L524.0,110.4 L524.9,111.2 L525.8,112.1 L526.6,113.1 L527.5,114.1 L528.3,115.3 L529.2,116.5 L530.1,117.7 L530.9,119.0 L531.8,120.4 L532.6,121.8 L533.5,123.3 L534.4,124.8 L535.2,126.3 L536.1,127.8 L536.9,129.4 L537.8,131.0 L538.6,132.6 L539.5,134.3 L540.4,135.9 L541.2,137.5 L542.1,139.2 L542.9,140.8 L543.8,142.4 L544.6,144.0 L545.5,145.6 L546.4,147.2 L547.2,148.8 L548.1,150.3 L548.9,151.8 L549.8,153.3 L550.6,154.8 L551.5,156.3 L552.4,157.7 L553.2,159.1 L554.1,160.5 L554.9,161.8 L555.8,163.1 L556.6,164.4 L557.5,165.7 L558.4,166.9 L559.2,168.1 L560.1,169.3 L560.9,170.4 L561.8,171.5 L562.6,172.6 L563.5,173.6 L564.4,174.7 L565.2,175.6 L566.1,176.6 L566.9,177.5 L567.8,178.4 L568.7,179.3 L569.5,180.2 L570.4,181.0 L571.2,181.8 L572.1,182.6 L573.0,183.3 L573.8,184.1 L574.7,184.8 L575.5,185.5 L576.4,186.1 L577.2,186.8 L578.1,187.4 L579.0,188.0 L579.8,188.6 L580.7,189.2 L581.5,189.7 L582.4,190.3 L583.2,190.8 L584.1,191.3 L585.0,191.8 L585.8,192.2 L586.7,192.7 L587.5,193.1 L588.4,193.6 L589.2,194.0 L590.1,194.4 L591.0,194.8 L591.8,195.1 L592.7,195.5 L593.5,195.8 L594.4,196.2 L595.2,196.5 L596.1,196.8 L597.0,197.1 L597.8,197.4 L598.7,197.7 L599.5,198.0 L600.4,198.3 L601.2,198.6 L602.1,198.8 L603.0,199.1 L603.8,199.3 L604.7,199.5 L605.5,199.8 L606.4,200.0 L607.3,200.2 L608.1,200.4 L609.0,200.6 L609.8,200.8 L610.7,201.0 L611.5,201.2 L612.4,201.3 L613.3,201.5 L614.1,201.7 L615.0,201.8 L615.8,202.0 L616.7,202.2 L617.5,202.3 L618.4,202.4 L619.3,202.6 L620.1,202.7 L621.0,202.9 L621.8,203.0 L622.7,203.1 L623.6,203.2 L624.4,203.3 L625.3,203.5 L626.1,203.6 L627.0,203.7 L627.9,203.8 L628.7,203.9 L629.6,204.0 L630.4,204.1 L631.3,204.2 L632.1,204.3 L633.0,204.4 L633.9,204.4 L634.7,204.5 L635.6,204.6 L636.4,204.7 L637.3,204.8 L638.1,204.8 L639.0,204.9 L639.9,205.0 L640.7,205.1 L641.6,205.1 L642.4,205.2 L643.3,205.3 L644.1,205.3 L645.0,205.4 L645.9,205.4 L646.7,205.5 L647.6,205.6 L648.4,205.6 L649.3,205.7 L650.1,205.7 L651.0,205.8 L651.9,205.8 L652.7,205.9 L653.6,205.9 L654.4,206.0 L655.3,206.0 L656.1,206.1 L657.0,206.1 L657.9,206.1 L658.7,206.2 L659.6,206.2 L660.4,206.3 L661.3,206.3 L662.2,206.3 L663.0,206.4 L663.9,206.4 L664.7,206.4 L665.6,206.5 L666.5,206.5 L667.3,206.5 L668.2,206.6 L669.0,206.6 L669.9,206.6 L670.7,206.7 L671.6,206.7 L672.5,206.7 L673.3,206.7 L674.2,206.8 L675.0,206.8 L675.9,206.8 L676.7,206.8 L677.6,206.8 L678.5,206.9 L679.3,206.9 L680.2,206.9" stroke="#ff1aff" stroke-width="1.8"/>
<path d="M380.8,208.2 L381.7,208.2 L382.5,208.2 L383.4,208.2 L384.2,208.2 L385.1,208.2 L385.9,208.2 L386.8,208.1 L387.7,208.1 L388.5,208.1 L389.4,208.1 L390.2,208.1 L391.1,208.1 L391.9,208.1 L392.8,208.1 L393.7,208.1 L394.5,208.0 L395.4,208.0 L396.2,208.0 L397.1,208.0 L398.0,208.0 L398.8,208.0 L399.7,207.9 L400.5,207.9 L401.4,207.9 L402.2,207.9 L403.1,207.9 L404.0,207.9 L404.8,207.8 L405.7,207.8 L406.5,207.8 L407.4,207.8 L408.2,207.8 L409.1,207.8 L410.0,207.7 L410.8,207.7 L411.7,207.7 L412.5,207.7 L413.4,207.6 L414.2,207.6 L415.1,207.6 L416.0,207.6 L416.8,207.5 L417.7,207.5 L418.5,207.5 L419.4,207.4 L420.3,207.4 L421.1,207.4 L422.0,207.3 L422.8,207.3 L423.7,207.3 L424.6,207.2 L425.4,207.2 L426.3,207.2 L427.1,207.1 L428.0,207.1 L428.8,207.0 L429.7,207.0 L430.6,206.9 L431.4,206.9 L432.3,206.9 L433.1,206.8 L434.0,206.8 L434.8,206.7 L435.7,206.7 L436.6,206.6 L437.4,206.6 L438.3,206.5 L439.1,206.4 L440.0,206.4 L440.9,206.3 L441.7,206.2 L442.6,206.2 L443.4,206.1 L444.3,206.0 L445.1,206.0 L446.0,205.9 L446.9,205.8 L447.7,205.8 L448.6,205.7 L449.4,205.6 L450.3,205.5 L451.1,205.4 L452.0,205.3 L452.9,205.2 L453.7,205.1 L454.6,205.1 L455.4,204.9 L456.3,204.8 L457.1,204.7 L458.0,204.6 L458.9,204.5 L459.7,204.4 L460.6,204.3 L461.4,204.2 L462.3,204.1 L463.1,203.9 L464.0,203.8 L464.9,203.7 L465.7,203.5 L466.6,203.4 L467.4,203.2 L468.3,203.1 L469.1,203.0 L470.0,202.8 L470.9,202.7 L471.7,202.5 L472.6,202.3 L473.4,202.2 L474.3,202.0 L475.2,201.8 L476.0,201.6 L476.9,201.4 L477.7,201.2 L478.6,201.0 L479.4,200.8 L480.3,200.6 L481.2,200.4 L482.0,200.2 L482.9,200.0 L483.7,199.7 L484.6,199.5 L485.4,199.3 L486.3,199.0 L487.2,198.8 L488.0,198.5 L488.9,198.3 L489.7,198.0 L490.6,197.7 L491.5,197.4 L492.3,197.2 L493.2,196.9 L494.0,196.6 L494.9,196.3 L495.7,196.0 L496.6,195.7 L497.5,195.3 L498.3,195.0 L499.2,194.7 L500.0,194.3 L500.9,194.0 L501.8,193.6 L502.6,193.3 L503.5,192.9 L504.3,192.5 L505.2,192.1 L506.0,191.8 L506.9,191.4 L507.8,191.0 L508.6,190.6 L509.5,190.1 L510.3,189.7 L511.2,189.3 L512.0,188.9 L512.9,188.4 L513.8,188.0 L514.6,187.6 L515.5,187.1 L516.3,186.6 L517.2,186.2 L518.0,185.7 L518.9,185.2 L519.8,184.7 L520.6,184.3 L521.5,183.8 L522.3,183.3 L523.2,182.8 L524.0,182.3 L524.9,181.8 L525.8,181.3 L526.6,180.8 L527.5,180.2 L528.3,179.7 L529.2,179.2 L530.1,178.7 L530.9,178.2 L531.8,177.7 L532.6,177.2 L533.5,176.6 L534.4,176.1 L535.2,175.6 L536.1,175.1 L536.9,174.6 L537.8,174.1 L538.6,173.6 L539.5,173.1 L540.4,172.6 L541.2,172.1 L542.1,171.6 L542.9,171.1 L543.8,170.6 L544.6,170.2 L545.5,169.7 L546.4,169.3 L547.2,168.8 L548.1,168.4 L548.9,168.0 L549.8,167.6 L550.6,167.2 L551.5,166.8 L552.4,166.4 L553.2,166.0 L554.1,165.7 L554.9,165.3 L555.8,165.0 L556.6,164.7 L557.5,164.4 L558.4,164.1 L559.2,163.9 L560.1,163.6 L560.9,163.4 L561.8,163.2 L562.6,163.0 L563.5,162.8 L564.4,162.7 L565.2,162.5 L566.1,162.4 L566.9,162.3 L567.8,162.2 L568.7,162.2 L569.5,162.1 L570.4,162.1 L571.2,162.1 L572.1,162.1 L573.0,162.1 L573.8,162.2 L574.7,162.2 L575.5,162.3 L576.4,162.4 L577.2,162.5 L578.1,162.6 L579.0,162.8 L579.8,162.9 L580.7,163.1 L581.5,163.3 L582.4,163.5 L583.2,163.7 L584.1,163.9 L585.0,164.1 L585.8,164.4 L586.7,164.7 L587.5,164.9 L588.4,165.2 L589.2,165.5 L590.1,165.8 L591.0,166.2 L591.8,166.5 L592.7,166.8 L593.5,167.2 L594.4,167.6 L595.2,167.9 L596.1,168.3 L597.0,168.7 L597.8,169.1 L598.7,169.5 L599.5,169.9 L600.4,170.3 L601.2,170.7 L602.1,171.2 L603.0,171.6 L603.8,172.0 L604.7,172.4 L605.5,172.9 L606.4,173.3 L607.3,173.8 L608.1,174.2 L609.0,174.7 L609.8,175.1 L610.7,175.6 L611.5,176.0 L612.4,176.5 L613.3,177.0 L614.1,177.4 L615.0,177.9 L615.8,178.3 L616.7,178.8 L617.5,179.2 L618.4,179.7 L619.3,180.1 L620.1,180.6 L621.0,181.0 L621.8,181.4 L622.7,181.9 L623.6,182.3 L624.4,182.8 L625.3,183.2 L626.1,183.6 L627.0,184.0 L627.9,184.4 L628.7,184.9 L629.6,185.3 L630.4,185.7 L631.3,186.1 L632.1,186.5 L633.0,186.9 L633.9,187.2 L634.7,187.6 L635.6,188.0 L636.4,188.4 L637.3,188.7 L638.1,189.1 L639.0,189.5 L639.9,189.8 L640.7,190.2 L641.6,190.5 L642.4,190.8 L643.3,191.2 L644.1,191.5 L645.0,191.8 L645.9,192.1 L646.7,192.4 L647.6,192.8 L648.4,193.1 L649.3,193.3 L650.1,193.6 L651.0,193.9 L651.9,194.2 L652.7,194.5 L653.6,194.8 L654.4,195.0 L655.3,195.3 L656.1,195.5 L657.0,195.8 L657.9,196.1 L658.7,196.3 L659.6,196.5 L660.4,196.8 L661.3,197.0 L662.2,197.2 L663.0,197.4 L663.9,197.7 L664.7,197.9 L665.6,198.1 L666.5,198.3 L667.3,198.5 L668.2,198.7 L669.0,198.9 L669.9,199.1 L670.7,199.3 L671.6,199.4 L672.5,199.6 L673.3,199.8 L674.2,200.0 L675.0,200.1 L675.9,200.3 L676.7,200.5 L677.6,200.6 L678.5,200.8 L679.3,200.9 L680.2,201.1" stroke="rgba(255,255,255,0.4)" stroke-width="2.7"/>
<path d="M380.8,208.2 L381.7,208.2 L382.5,208.2 L383.4,208.2 L384.2,208.2 L385.1,208.2 L385.9,208.2 L386.8,208.1 L387.7,208.1 L388.5,208.1 L389.4,208.1 L390.2,208.1 L391.1,208.1 L391.9,208.1 L392.8,208.1 L393.7,208.1 L394.5,208.0 L395.4,208.0 L396.2,208.0 L397.1,208.0 L398.0,208.0 L398.8,208.0 L399.7,207.9 L400.5,207.9 L401.4,207.9 L402.2,207.9 L403.1,207.9 L404.0,207.9 L404.8,207.8 L405.7,207.8 L406.5,207.8 L407.4,207.8 L408.2,207.8 L409.1,207.8 L410.0,207.7 L410.8,207.7 L411.7,207.7 L412.5,207.7 L413.4,207.6 L414.2,207.6 L415.1,207.6 L416.0,207.6 L416.8,207.5 L417.7,207.5 L418.5,207.5 L419.4,207.4 L420.3,207.4 L421.1,207.4 L422.0,207.3 L422.8,207.3 L423.7,207.3 L424.6,207.2 L425.4,207.2 L426.3,207.2 L427.1,207.1 L428.0,207.1 L428.8,207.0 L429.7,207.0 L430.6,206.9 L431.4,206.9 L432.3,206.9 L433.1,206.8 L434.0,206.8 L434.8,206.7 L435.7,206.7 L436.6,206.6 L437.4,206.6 L438.3,206.5 L439.1,206.4 L440.0,206.4 L440.9,206.3 L441.7,206.2 L442.6,206.2 L443.4,206.1 L444.3,206.0 L445.1,206.0 L446.0,205.9 L446.9,205.8 L447.7,205.8 L448.6,205.7 L449.4,205.6 L450.3,205.5 L451.1,205.4 L452.0,205.3 L452.9,205.2 L453.7,205.1 L454.6,205.1 L455.4,204.9 L456.3,204.8 L457.1,204.7 L458.0,204.6 L458.9,204.5 L459.7,204.4 L460.6,204.3 L461.4,204.2 L462.3,204.1 L463.1,203.9 L464.0,203.8 L464.9,203.7 L465.7,203.5 L466.6,203.4 L467.4,203.2 L468.3,203.1 L469.1,203.0 L470.0,202.8 L470.9,202.7 L471.7,202.5 L472.6,202.3 L473.4,202.2 L474.3,202.0 L475.2,201.8 L476.0,201.6 L476.9,201.4 L477.7,201.2 L478.6,201.0 L479.4,200.8 L480.3,200.6 L481.2,200.4 L482.0,200.2 L482.9,200.0 L483.7,199.7 L484.6,199.5 L485.4,199.3 L486.3,199.0 L487.2,198.8 L488.0,198.5 L488.9,198.3 L489.7,198.0 L490.6,197.7 L491.5,197.4 L492.3,197.2 L493.2,196.9 L494.0,196.6 L494.9,196.3 L495.7,196.0 L496.6,195.7 L497.5,195.3 L498.3,195.0 L499.2,194.7 L500.0,194.3 L500.9,194.0 L501.8,193.6 L502.6,193.3 L503.5,192.9 L504.3,192.5 L505.2,192.1 L506.0,191.8 L506.9,191.4 L507.8,191.0 L508.6,190.6 L509.5,190.1 L510.3,189.7 L511.2,189.3 L512.0,188.9 L512.9,188.4 L513.8,188.0 L514.6,187.6 L515.5,187.1 L516.3,186.6 L517.2,186.2 L518.0,185.7 L518.9,185.2 L519.8,184.7 L520.6,184.3 L521.5,183.8 L522.3,183.3 L523.2,182.8 L524.0,182.3 L524.9,181.8 L525.8,181.3 L526.6,180.8 L527.5,180.2 L528.3,179.7 L529.2,179.2 L530.1,178.7 L530.9,178.2 L531.8,177.7 L532.6,177.2 L533.5,176.6 L534.4,176.1 L535.2,175.6 L536.1,175.1 L536.9,174.6 L537.8,174.1 L538.6,173.6 L539.5,173.1 L540.4,172.6 L541.2,172.1 L542.1,171.6 L542.9,171.1 L543.8,170.6 L544.6,170.2 L545.5,169.7 L546.4,169.3 L547.2,168.8 L548.1,168.4 L548.9,168.0 L549.8,167.6 L550.6,167.2 L551.5,166.8 L552.4,166.4 L553.2,166.0 L554.1,165.7 L554.9,165.3 L555.8,165.0 L556.6,164.7 L557.5,164.4 L558.4,164.1 L559.2,163.9 L560.1,163.6 L560.9,163.4 L561.8,163.2 L562.6,163.0 L563.5,162.8 L564.4,162.7 L565.2,162.5 L566.1,162.4 L566.9,162.3 L567.8,162.2 L568.7,162.2 L569.5,162.1 L570.4,162.1 L571.2,162.1 L572.1,162.1 L573.0,162.1 L573.8,162.2 L574.7,162.2 L575.5,162.3 L576.4,162.4 L577.2,162.5 L578.1,162.6 L579.0,162.8 L579.8,162.9 L580.7,163.1 L581.5,163.3 L582.4,163.5 L583.2,163.7 L584.1,163.9 L585.0,164.1 L585.8,164.4 L586.7,164.7 L587.5,164.9 L588.4,165.2 L589.2,165.5 L590.1,165.8 L591.0,166.2 L591.8,166.5 L592.7,166.8 L593.5,167.2 L594.4,167.6 L595.2,167.9 L596.1,168.3 L597.0,168.7 L597.8,169.1 L598.7,169.5 L599.5,169.9 L600.4,170.3 L601.2,170.7 L602.1,171.2 L603.0,171.6 L603.8,172.0 L604.7,172.4 L605.5,172.9 L606.4,173.3 L607.3,173.8 L608.1,174.2 L609.0,174.7 L609.8,175.1 L610.7,175.6 L611.5,176.0 L612.4,176.5 L613.3,177.0 L614.1,177.4 L615.0,177.9 L615.8,178.3 L616.7,178.8 L617.5,179.2 L618.4,179.7 L619.3,180.1 L620.1,180.6 L621.0,181.0 L621.8,181.4 L622.7,181.9 L623.6,182.3 L624.4,182.8 L625.3,183.2 L626.1,183.6 L627.0,184.0 L627.9,184.4 L628.7,184.9 L629.6,185.3 L630.4,185.7 L631.3,186.1 L632.1,186.5 L633.0,186.9 L633.9,187.2 L634.7,187.6 L635.6,188.0 L636.4,188.4 L637.3,188.7 L638.1,189.1 L639.0,189.5 L639.9,189.8 L640.7,190.2 L641.6,190.5 L642.4,190.8 L643.3,191.2 L644.1,191.5 L645.0,191.8 L645.9,192.1 L646.7,192.4 L647.6,192.8 L648.4,193.1 L649.3,193.3 L650.1,193.6 L651.0,193.9 L651.9,194.2 L652.7,194.5 L653.6,194.8 L654.4,195.0 L655.3,195.3 L656.1,195.5 L657.0,195.8 L657.9,196.1 L658.7,196.3 L659.6,196.5 L660.4,196.8 L661.3,197.0 L662.2,197.2 L663.0,197.4 L663.9,197.7 L664.7,197.9 L665.6,198.1 L666.5,198.3 L667.3,198.5 L668.2,198.7 L669.0,198.9 L669.9,199.1 L670.7,199.3 L671.6,199.4 L672.5,199.6 L673.3,199.8 L674.2,200.0 L675.0,200.1 L675.9,200.3 L676.7,200.5 L677.6,200.6 L678.5,200.8 L679.3,200.9 L680.2,201.1" stroke="#ff1a22" stroke-width="1.8"/>
<path d="M380.80,208.20 L383.32,208.19 L385.84,208.18 L388.36,208.17 L390.88,208.16 L393.40,208.15 L395.92,208.14 L398.44,208.13 L400.95,208.12 L403.47,208.11 L405.99,208.10 L408.51,208.09 L411.03,208.08 L413.55,208.07 L416.07,208.06 L418.59,208.05 L421.11,208.04 L423.63,208.03 L426.15,208.02 L428.67,208.01 L431.19,208.00 L433.71,207.99 L436.23,207.98 L438.74,207.97 L441.26,207.96 L443.78,207.95 L446.30,207.94 L448.82,207.93 L451.34,207.92 L453.86,207.91 L456.38,207.90 L458.90,207.89 L461.42,207.87 L463.94,207.86 L466.46,207.85 L468.98,207.84 L471.50,207.83 L474.02,207.82 L476.53,207.81 L479.05,207.80 L481.57,207.78 L484.09,207.75 L486.61,207.71 L489.13,207.68 L491.65,207.64 L494.17,207.61 L496.69,207.58 L499.21,207.54 L501.73,207.51 L504.25,207.48 L506.77,207.44 L509.29,207.41 L511.81,207.38 L514.32,207.34 L516.84,207.31 L519.36,207.28 L521.88,207.24 L524.40,207.21 L526.92,207.17 L529.44,207.14 L531.96,207.11 L534.48,207.07 L537.00,207.04 L539.52,207.01 L542.04,206.94 L544.56,206.86 L547.08,206.78 L549.59,206.70 L552.11,206.62 L554.63,206.54 L557.15,206.46 L559.67,206.38 L562.19,206.30 L564.71,206.22 L567.23,206.14 L569.75,206.06 L572.27,205.98 L574.79,205.90 L577.31,205.82 L579.83,205.73 L582.35,205.62 L584.87,205.52 L587.38,205.42 L589.90,205.31 L592.42,205.21 L594.94,205.11 L597.46,205.00 L599.98,204.90 L602.50,204.83 L605.02,204.76 L607.54,204.69 L610.06,204.62 L612.58,204.55 L615.10,204.48 L617.62,204.41 L620.14,204.34 L622.66,204.27 L625.17,204.19 L627.69,204.07 L630.21,203.96 L632.73,203.84 L635.25,203.72 L637.77,203.60 L640.29,203.49 L642.81,203.42 L645.33,203.36 L647.85,203.29 L650.37,203.22 L652.89,203.15 L655.41,203.08 L657.93,203.01 L660.45,202.95 L662.96,202.88 L665.48,202.81 L668.00,202.74 L670.52,202.67 L673.04,202.60 L675.56,202.54 L678.08,202.47 L680.60,202.40" stroke="rgba(255,255,255,0.5)" stroke-width="2.6"/>
<path d="M380.80,208.20 L383.32,208.19 L385.84,208.18 L388.36,208.17 L390.88,208.16 L393.40,208.15 L395.92,208.14 L398.44,208.13 L400.95,208.12 L403.47,208.11 L405.99,208.10 L408.51,208.09 L411.03,208.08 L413.55,208.07 L416.07,208.06 L418.59,208.05 L421.11,208.04 L423.63,208.03 L426.15,208.02 L428.67,208.01 L431.19,208.00 L433.71,207.99 L436.23,207.98 L438.74,207.97 L441.26,207.96 L443.78,207.95 L446.30,207.94 L448.82,207.93 L451.34,207.92 L453.86,207.91 L456.38,207.90 L458.90,207.89 L461.42,207.87 L463.94,207.86 L466.46,207.85 L468.98,207.84 L471.50,207.83 L474.02,207.82 L476.53,207.81 L479.05,207.80 L481.57,207.78 L484.09,207.75 L486.61,207.71 L489.13,207.68 L491.65,207.64 L494.17,207.61 L496.69,207.58 L499.21,207.54 L501.73,207.51 L504.25,207.48 L506.77,207.44 L509.29,207.41 L511.81,207.38 L514.32,207.34 L516.84,207.31 L519.36,207.28 L521.88,207.24 L524.40,207.21 L526.92,207.17 L529.44,207.14 L531.96,207.11 L534.48,207.07 L537.00,207.04 L539.52,207.01 L542.04,206.94 L544.56,206.86 L547.08,206.78 L549.59,206.70 L552.11,206.62 L554.63,206.54 L557.15,206.46 L559.67,206.38 L562.19,206.30 L564.71,206.22 L567.23,206.14 L569.75,206.06 L572.27,205.98 L574.79,205.90 L577.31,205.82 L579.83,205.73 L582.35,205.62 L584.87,205.52 L587.38,205.42 L589.90,205.31 L592.42,205.21 L594.94,205.11 L597.46,205.00 L599.98,204.90 L602.50,204.83 L605.02,204.76 L607.54,204.69 L610.06,204.62 L612.58,204.55 L615.10,204.48 L617.62,204.41 L620.14,204.34 L622.66,204.27 L625.17,204.19 L627.69,204.07 L630.21,203.96 L632.73,203.84 L635.25,203.72 L637.77,203.60 L640.29,203.49 L642.81,203.42 L645.33,203.36 L647.85,203.29 L650.37,203.22 L652.89,203.15 L655.41,203.08 L657.93,203.01 L660.45,202.95 L662.96,202.88 L665.48,202.81 L668.00,202.74 L670.52,202.67 L673.04,202.60 L675.56,202.54 L678.08,202.47 L680.60,202.40" stroke="#000" stroke-width="1.2"/>
</g>
<rect x="602" y="23" width="74.20000000000005" height="76.8" fill="#000" stroke="#777" stroke-width="1.8"/>
<path d="M603.3,33.4H623.1" stroke="#2828ff" stroke-width="2.6"/>
<text class="t s" x="623.60" y="36.55" font-size="9.9" text-anchor="start">ζ</text>
<text class="t s" x="628.10" y="40.15" font-size="5.3999999999999995" text-anchor="start">d</text>
<text class="t s" x="631.25" y="36.55" font-size="9" text-anchor="start" textLength="34.20" lengthAdjust="spacingAndGlyphs">=1.5 x 10</text>
<text class="t s" x="665.85" y="32.05" font-size="5.8500000000000005" text-anchor="start">8</text>
<path d="M603.3,52.2H623.1" stroke="#ff1aff" stroke-width="2.6"/>
<text class="t s" x="623.60" y="55.35" font-size="9.9" text-anchor="start">ζ</text>
<text class="t s" x="628.10" y="58.95" font-size="5.3999999999999995" text-anchor="start">d</text>
<text class="t s" x="631.25" y="55.35" font-size="9" text-anchor="start" textLength="34.20" lengthAdjust="spacingAndGlyphs">=1.2 x 10</text>
<text class="t s" x="665.85" y="50.85" font-size="5.8500000000000005" text-anchor="start">8</text>
<path d="M603.3,71.3H623.1" stroke="#ff1a22" stroke-width="2.6"/>
<text class="t s" x="623.60" y="74.45" font-size="9.9" text-anchor="start">ζ</text>
<text class="t s" x="628.10" y="78.05" font-size="5.3999999999999995" text-anchor="start">d</text>
<text class="t s" x="631.25" y="74.45" font-size="9" text-anchor="start" textLength="25.20" lengthAdjust="spacingAndGlyphs">=1 x 10</text>
<text class="t s" x="656.85" y="69.95" font-size="5.8500000000000005" text-anchor="start">8</text>
<path d="M603.3,90H623.1" stroke="rgba(255,255,255,0.5)" stroke-width="3.2"/>
<path d="M603.3,90H623.1" stroke="#000" stroke-width="1.2"/>
<text class="t s" x="623.60" y="93.15" font-size="9.9" text-anchor="start">ζ</text>
<text class="t s" x="628.10" y="96.75" font-size="5.3999999999999995" text-anchor="start">d</text>
<text class="t s" x="631.25" y="93.15" font-size="9" text-anchor="start" textLength="34.20" lengthAdjust="spacingAndGlyphs">=0.8 x 10</text>
<text class="t s" x="665.85" y="88.65" font-size="5.8500000000000005" text-anchor="start">8</text>
<text class="t s" x="380.80" y="219.00" font-size="8" text-anchor="middle" textLength="3.00" lengthAdjust="spacingAndGlyphs">0</text>
<text class="t s" x="430.78" y="219.00" font-size="8" text-anchor="middle" textLength="6.00" lengthAdjust="spacingAndGlyphs">50</text>
<text class="t s" x="480.75" y="219.00" font-size="8" text-anchor="middle" textLength="9.00" lengthAdjust="spacingAndGlyphs">100</text>
<text class="t s" x="530.73" y="219.00" font-size="8" text-anchor="middle" textLength="9.00" lengthAdjust="spacingAndGlyphs">150</text>
<text class="t s" x="580.70" y="219.00" font-size="8" text-anchor="middle" textLength="9.00" lengthAdjust="spacingAndGlyphs">200</text>
<text class="t s" x="630.67" y="219.00" font-size="8" text-anchor="middle" textLength="9.00" lengthAdjust="spacingAndGlyphs">250</text>
<text class="t s" x="680.65" y="219.00" font-size="8" text-anchor="middle" textLength="9.00" lengthAdjust="spacingAndGlyphs">300</text>
<text class="t s" x="375.30" y="211.63" font-size="8" text-anchor="start" textLength="3.00" lengthAdjust="spacingAndGlyphs">0</text>
<text class="t s" x="370.80" y="184.16" font-size="8" text-anchor="start" textLength="7.50" lengthAdjust="spacingAndGlyphs">0.5</text>
<text class="t s" x="375.30" y="156.68" font-size="8" text-anchor="start" textLength="3.00" lengthAdjust="spacingAndGlyphs">1</text>
<text class="t s" x="370.80" y="129.20" font-size="8" text-anchor="start" textLength="7.50" lengthAdjust="spacingAndGlyphs">1.5</text>
<text class="t s" x="375.30" y="101.73" font-size="8" text-anchor="start" textLength="3.00" lengthAdjust="spacingAndGlyphs">2</text>
<text class="t s" x="370.80" y="74.25" font-size="8" text-anchor="start" textLength="7.50" lengthAdjust="spacingAndGlyphs">2.5</text>
<text class="t s" x="375.30" y="46.78" font-size="8" text-anchor="start" textLength="3.00" lengthAdjust="spacingAndGlyphs">3</text>
<text class="t s" x="370.80" y="19.30" font-size="8" text-anchor="start" textLength="7.50" lengthAdjust="spacingAndGlyphs">3.5</text>
<text class="t s" x="381.00" y="15.00" font-size="8" text-anchor="start" textLength="9.00" lengthAdjust="spacingAndGlyphs">x10</text>
<text class="t s" x="390.30" y="11.40" font-size="6.0" text-anchor="start">4</text>
<text class="t" x="514.10" y="11.50" font-size="10.5" text-anchor="start" textLength="4.90" lengthAdjust="spacingAndGlyphs">α</text>
<text class="t b" x="519.30" y="11.50" font-size="13.5" text-anchor="start" textLength="27.50" lengthAdjust="spacingAndGlyphs">=0.95</text>
<text class="t" x="0" y="0" font-size="9" text-anchor="middle" textLength="70" lengthAdjust="spacingAndGlyphs" transform="translate(367.8,113.2) rotate(-90)">I(t)+A(t)+H(t)</text>
<text class="t" x="508.60" y="235.60" font-size="12.5" text-anchor="start" textLength="45.00" lengthAdjust="spacingAndGlyphs">Time(days)</text>
<text class="t" x="524.10" y="255.00" font-size="17" text-anchor="start" textLength="20.20" lengthAdjust="spacingAndGlyphs">(b)</text>
<clipPath id="clipc"><rect x="27.1" y="285.9" width="298.5" height="194.00000000000006"/></clipPath>
<path d="M75.90,285.90V478.60M125.90,285.90V478.60M175.90,285.90V478.60M225.90,285.90V478.60M275.90,285.90V478.60M26.50,451.05H326.20M26.50,423.50H326.20M26.50,395.95H326.20M26.50,368.40H326.20M26.50,340.85H326.20M26.50,313.30H326.20" stroke="#fff" stroke-width="2.7" fill="none"/>
<rect x="26.5" y="285.9" width="299.7" height="192.70000000000005" fill="none" stroke="#555" stroke-width="2"/>
<path d="M25.90,478.60v-3.2M25.90,285.90v3.2M75.90,478.60v-3.2M75.90,285.90v3.2M125.90,478.60v-3.2M125.90,285.90v3.2M175.90,478.60v-3.2M175.90,285.90v3.2M225.90,478.60v-3.2M225.90,285.90v3.2M275.90,478.60v-3.2M275.90,285.90v3.2M325.90,478.60v-3.2M325.90,285.90v3.2M26.50,478.60h3.2M326.20,478.60h-3.2M26.50,451.05h3.2M326.20,451.05h-3.2M26.50,423.50h3.2M326.20,423.50h-3.2M26.50,395.95h3.2M326.20,395.95h-3.2M26.50,368.40h3.2M326.20,368.40h-3.2M26.50,340.85h3.2M326.20,340.85h-3.2M26.50,313.30h3.2M326.20,313.30h-3.2M26.50,285.75h3.2M326.20,285.75h-3.2" stroke="#555" stroke-width="1.2" fill="none"/>
<g clip-path="url(#clipc)" fill="none" stroke-linejoin="round">
<path d="M25.9,478.3 L26.8,478.3 L27.6,478.3 L28.5,478.2 L29.3,478.2 L30.2,478.2 L31.1,478.2 L31.9,478.2 L32.8,478.2 L33.6,478.1 L34.5,478.1 L35.3,478.1 L36.2,478.1 L37.1,478.0 L37.9,478.0 L38.8,478.0 L39.6,477.9 L40.5,477.9 L41.4,477.9 L42.2,477.8 L43.1,477.8 L43.9,477.7 L44.8,477.6 L45.6,477.6 L46.5,477.5 L47.4,477.5 L48.2,477.4 L49.1,477.3 L49.9,477.2 L50.8,477.2 L51.6,477.1 L52.5,477.0 L53.4,476.9 L54.2,476.8 L55.1,476.6 L55.9,476.5 L56.8,476.4 L57.7,476.2 L58.5,476.1 L59.4,475.9 L60.2,475.7 L61.1,475.5 L62.0,475.3 L62.8,475.1 L63.7,474.9 L64.5,474.7 L65.4,474.4 L66.2,474.1 L67.1,473.8 L68.0,473.5 L68.8,473.2 L69.7,472.8 L70.5,472.4 L71.4,472.0 L72.2,471.6 L73.1,471.1 L74.0,470.7 L74.8,470.1 L75.7,469.6 L76.5,469.0 L77.4,468.4 L78.3,467.7 L79.1,467.0 L80.0,466.3 L80.8,465.5 L81.7,464.7 L82.5,463.8 L83.4,462.8 L84.3,461.9 L85.1,460.8 L86.0,459.7 L86.8,458.5 L87.7,457.3 L88.6,456.0 L89.4,454.6 L90.3,453.1 L91.1,451.6 L92.0,450.0 L92.8,448.3 L93.7,446.5 L94.6,444.6 L95.4,442.6 L96.3,440.5 L97.1,438.4 L98.0,436.1 L98.9,433.7 L99.7,431.3 L100.6,428.7 L101.4,426.0 L102.3,423.2 L103.2,420.3 L104.0,417.3 L104.9,414.1 L105.7,410.9 L106.6,407.6 L107.5,404.1 L108.3,400.6 L109.2,396.9 L110.0,393.2 L110.9,389.4 L111.7,385.5 L112.6,381.5 L113.5,377.5 L114.3,373.4 L115.2,369.2 L116.0,365.1 L116.9,360.9 L117.8,356.7 L118.6,352.4 L119.5,348.3 L120.3,344.1 L121.2,340.0 L122.0,335.9 L122.9,332.0 L123.8,328.1 L124.6,324.4 L125.5,320.7 L126.3,317.3 L127.2,314.0 L128.1,310.9 L128.9,307.9 L129.8,305.2 L130.6,302.8 L131.5,300.6 L132.3,298.6 L133.2,296.9 L134.1,295.5 L134.9,294.4 L135.8,293.6 L136.6,293.1 L137.5,292.9 L138.3,292.9 L139.2,293.2 L140.1,293.8 L140.9,294.6 L141.8,295.7 L142.6,296.9 L143.5,298.4 L144.3,300.1 L145.2,302.1 L146.1,304.2 L146.9,306.4 L147.8,308.9 L148.7,311.4 L149.5,314.2 L150.4,317.0 L151.2,320.0 L152.1,323.0 L152.9,326.1 L153.8,329.3 L154.7,332.5 L155.5,335.8 L156.4,339.1 L157.2,342.4 L158.1,345.7 L158.9,349.0 L159.8,352.3 L160.7,355.6 L161.5,358.8 L162.4,362.1 L163.2,365.2 L164.1,368.4 L165.0,371.4 L165.8,374.5 L166.7,377.4 L167.5,380.3 L168.4,383.2 L169.2,385.9 L170.1,388.6 L171.0,391.3 L171.8,393.9 L172.7,396.4 L173.5,398.8 L174.4,401.2 L175.3,403.5 L176.1,405.7 L177.0,407.9 L177.8,410.0 L178.7,412.0 L179.6,414.0 L180.4,415.9 L181.3,417.8 L182.1,419.6 L183.0,421.3 L183.8,423.0 L184.7,424.6 L185.6,426.2 L186.4,427.7 L187.3,429.2 L188.1,430.6 L189.0,432.0 L189.8,433.3 L190.7,434.6 L191.6,435.8 L192.4,437.0 L193.3,438.2 L194.1,439.3 L195.0,440.4 L195.9,441.5 L196.7,442.5 L197.6,443.5 L198.4,444.4 L199.3,445.3 L200.2,446.2 L201.0,447.1 L201.9,447.9 L202.7,448.7 L203.6,449.5 L204.4,450.3 L205.3,451.0 L206.2,451.7 L207.0,452.4 L207.9,453.1 L208.7,453.7 L209.6,454.3 L210.4,454.9 L211.3,455.5 L212.2,456.1 L213.0,456.6 L213.9,457.1 L214.7,457.6 L215.6,458.1 L216.5,458.6 L217.3,459.1 L218.2,459.6 L219.0,460.0 L219.9,460.4 L220.8,460.9 L221.6,461.2 L222.5,461.6 L223.3,462.0 L224.2,462.4 L225.0,462.8 L225.9,463.1 L226.8,463.4 L227.6,463.8 L228.5,464.1 L229.3,464.4 L230.2,464.7 L231.1,465.0 L231.9,465.3 L232.8,465.6 L233.6,465.8 L234.5,466.1 L235.3,466.3 L236.2,466.6 L237.1,466.8 L237.9,467.1 L238.8,467.3 L239.6,467.5 L240.5,467.7 L241.3,467.9 L242.2,468.1 L243.1,468.4 L243.9,468.6 L244.8,468.7 L245.6,468.9 L246.5,469.1 L247.4,469.3 L248.2,469.5 L249.1,469.6 L249.9,469.8 L250.8,469.9 L251.7,470.1 L252.5,470.2 L253.4,470.4 L254.2,470.5 L255.1,470.7 L255.9,470.8 L256.8,471.0 L257.7,471.1 L258.5,471.2 L259.4,471.3 L260.2,471.5 L261.1,471.6 L261.9,471.7 L262.8,471.8 L263.7,471.9 L264.5,472.0 L265.4,472.1 L266.2,472.2 L267.1,472.3 L268.0,472.4 L268.8,472.5 L269.7,472.6 L270.5,472.7 L271.4,472.8 L272.2,472.9 L273.1,473.0 L274.0,473.1 L274.8,473.1 L275.7,473.2 L276.5,473.3 L277.4,473.4 L278.3,473.4 L279.1,473.5 L280.0,473.6 L280.8,473.7 L281.7,473.7 L282.6,473.8 L283.4,473.9 L284.3,473.9 L285.1,474.0 L286.0,474.1 L286.8,474.1 L287.7,474.2 L288.6,474.2 L289.4,474.3 L290.3,474.3 L291.1,474.4 L292.0,474.4 L292.9,474.5 L293.7,474.5 L294.6,474.6 L295.4,474.6 L296.3,474.7 L297.1,474.7 L298.0,474.8 L298.9,474.8 L299.7,474.9 L300.6,474.9 L301.4,474.9 L302.3,475.0 L303.1,475.0 L304.0,475.1 L304.9,475.1 L305.7,475.1 L306.6,475.2 L307.4,475.2 L308.3,475.2 L309.2,475.3 L310.0,475.3 L310.9,475.3 L311.7,475.4 L312.6,475.4 L313.4,475.4 L314.3,475.5 L315.2,475.5 L316.0,475.5 L316.9,475.5 L317.8,475.6 L318.6,475.6 L319.5,475.6 L320.3,475.6 L321.2,475.7 L322.0,475.7 L322.9,475.7 L323.8,475.7 L324.6,475.8 L325.5,475.8" stroke="rgba(255,255,255,0.4)" stroke-width="2.7"/>
<path d="M25.9,478.3 L26.8,478.3 L27.6,478.3 L28.5,478.2 L29.3,478.2 L30.2,478.2 L31.1,478.2 L31.9,478.2 L32.8,478.2 L33.6,478.1 L34.5,478.1 L35.3,478.1 L36.2,478.1 L37.1,478.0 L37.9,478.0 L38.8,478.0 L39.6,477.9 L40.5,477.9 L41.4,477.9 L42.2,477.8 L43.1,477.8 L43.9,477.7 L44.8,477.6 L45.6,477.6 L46.5,477.5 L47.4,477.5 L48.2,477.4 L49.1,477.3 L49.9,477.2 L50.8,477.2 L51.6,477.1 L52.5,477.0 L53.4,476.9 L54.2,476.8 L55.1,476.6 L55.9,476.5 L56.8,476.4 L57.7,476.2 L58.5,476.1 L59.4,475.9 L60.2,475.7 L61.1,475.5 L62.0,475.3 L62.8,475.1 L63.7,474.9 L64.5,474.7 L65.4,474.4 L66.2,474.1 L67.1,473.8 L68.0,473.5 L68.8,473.2 L69.7,472.8 L70.5,472.4 L71.4,472.0 L72.2,471.6 L73.1,471.1 L74.0,470.7 L74.8,470.1 L75.7,469.6 L76.5,469.0 L77.4,468.4 L78.3,467.7 L79.1,467.0 L80.0,466.3 L80.8,465.5 L81.7,464.7 L82.5,463.8 L83.4,462.8 L84.3,461.9 L85.1,460.8 L86.0,459.7 L86.8,458.5 L87.7,457.3 L88.6,456.0 L89.4,454.6 L90.3,453.1 L91.1,451.6 L92.0,450.0 L92.8,448.3 L93.7,446.5 L94.6,444.6 L95.4,442.6 L96.3,440.5 L97.1,438.4 L98.0,436.1 L98.9,433.7 L99.7,431.3 L100.6,428.7 L101.4,426.0 L102.3,423.2 L103.2,420.3 L104.0,417.3 L104.9,414.1 L105.7,410.9 L106.6,407.6 L107.5,404.1 L108.3,400.6 L109.2,396.9 L110.0,393.2 L110.9,389.4 L111.7,385.5 L112.6,381.5 L113.5,377.5 L114.3,373.4 L115.2,369.2 L116.0,365.1 L116.9,360.9 L117.8,356.7 L118.6,352.4 L119.5,348.3 L120.3,344.1 L121.2,340.0 L122.0,335.9 L122.9,332.0 L123.8,328.1 L124.6,324.4 L125.5,320.7 L126.3,317.3 L127.2,314.0 L128.1,310.9 L128.9,307.9 L129.8,305.2 L130.6,302.8 L131.5,300.6 L132.3,298.6 L133.2,296.9 L134.1,295.5 L134.9,294.4 L135.8,293.6 L136.6,293.1 L137.5,292.9 L138.3,292.9 L139.2,293.2 L140.1,293.8 L140.9,294.6 L141.8,295.7 L142.6,296.9 L143.5,298.4 L144.3,300.1 L145.2,302.1 L146.1,304.2 L146.9,306.4 L147.8,308.9 L148.7,311.4 L149.5,314.2 L150.4,317.0 L151.2,320.0 L152.1,323.0 L152.9,326.1 L153.8,329.3 L154.7,332.5 L155.5,335.8 L156.4,339.1 L157.2,342.4 L158.1,345.7 L158.9,349.0 L159.8,352.3 L160.7,355.6 L161.5,358.8 L162.4,362.1 L163.2,365.2 L164.1,368.4 L165.0,371.4 L165.8,374.5 L166.7,377.4 L167.5,380.3 L168.4,383.2 L169.2,385.9 L170.1,388.6 L171.0,391.3 L171.8,393.9 L172.7,396.4 L173.5,398.8 L174.4,401.2 L175.3,403.5 L176.1,405.7 L177.0,407.9 L177.8,410.0 L178.7,412.0 L179.6,414.0 L180.4,415.9 L181.3,417.8 L182.1,419.6 L183.0,421.3 L183.8,423.0 L184.7,424.6 L185.6,426.2 L186.4,427.7 L187.3,429.2 L188.1,430.6 L189.0,432.0 L189.8,433.3 L190.7,434.6 L191.6,435.8 L192.4,437.0 L193.3,438.2 L194.1,439.3 L195.0,440.4 L195.9,441.5 L196.7,442.5 L197.6,443.5 L198.4,444.4 L199.3,445.3 L200.2,446.2 L201.0,447.1 L201.9,447.9 L202.7,448.7 L203.6,449.5 L204.4,450.3 L205.3,451.0 L206.2,451.7 L207.0,452.4 L207.9,453.1 L208.7,453.7 L209.6,454.3 L210.4,454.9 L211.3,455.5 L212.2,456.1 L213.0,456.6 L213.9,457.1 L214.7,457.6 L215.6,458.1 L216.5,458.6 L217.3,459.1 L218.2,459.6 L219.0,460.0 L219.9,460.4 L220.8,460.9 L221.6,461.2 L222.5,461.6 L223.3,462.0 L224.2,462.4 L225.0,462.8 L225.9,463.1 L226.8,463.4 L227.6,463.8 L228.5,464.1 L229.3,464.4 L230.2,464.7 L231.1,465.0 L231.9,465.3 L232.8,465.6 L233.6,465.8 L234.5,466.1 L235.3,466.3 L236.2,466.6 L237.1,466.8 L237.9,467.1 L238.8,467.3 L239.6,467.5 L240.5,467.7 L241.3,467.9 L242.2,468.1 L243.1,468.4 L243.9,468.6 L244.8,468.7 L245.6,468.9 L246.5,469.1 L247.4,469.3 L248.2,469.5 L249.1,469.6 L249.9,469.8 L250.8,469.9 L251.7,470.1 L252.5,470.2 L253.4,470.4 L254.2,470.5 L255.1,470.7 L255.9,470.8 L256.8,471.0 L257.7,471.1 L258.5,471.2 L259.4,471.3 L260.2,471.5 L261.1,471.6 L261.9,471.7 L262.8,471.8 L263.7,471.9 L264.5,472.0 L265.4,472.1 L266.2,472.2 L267.1,472.3 L268.0,472.4 L268.8,472.5 L269.7,472.6 L270.5,472.7 L271.4,472.8 L272.2,472.9 L273.1,473.0 L274.0,473.1 L274.8,473.1 L275.7,473.2 L276.5,473.3 L277.4,473.4 L278.3,473.4 L279.1,473.5 L280.0,473.6 L280.8,473.7 L281.7,473.7 L282.6,473.8 L283.4,473.9 L284.3,473.9 L285.1,474.0 L286.0,474.1 L286.8,474.1 L287.7,474.2 L288.6,474.2 L289.4,474.3 L290.3,474.3 L291.1,474.4 L292.0,474.4 L292.9,474.5 L293.7,474.5 L294.6,474.6 L295.4,474.6 L296.3,474.7 L297.1,474.7 L298.0,474.8 L298.9,474.8 L299.7,474.9 L300.6,474.9 L301.4,474.9 L302.3,475.0 L303.1,475.0 L304.0,475.1 L304.9,475.1 L305.7,475.1 L306.6,475.2 L307.4,475.2 L308.3,475.2 L309.2,475.3 L310.0,475.3 L310.9,475.3 L311.7,475.4 L312.6,475.4 L313.4,475.4 L314.3,475.5 L315.2,475.5 L316.0,475.5 L316.9,475.5 L317.8,475.6 L318.6,475.6 L319.5,475.6 L320.3,475.6 L321.2,475.7 L322.0,475.7 L322.9,475.7 L323.8,475.7 L324.6,475.8 L325.5,475.8" stroke="#2828ff" stroke-width="1.8"/>
<path d="M25.9,477.8 L26.8,477.8 L27.6,477.7 L28.5,477.7 L29.3,477.7 L30.2,477.6 L31.1,477.6 L31.9,477.6 L32.8,477.6 L33.6,477.5 L34.5,477.5 L35.3,477.4 L36.2,477.4 L37.1,477.4 L37.9,477.3 L38.8,477.3 L39.6,477.2 L40.5,477.2 L41.4,477.1 L42.2,477.1 L43.1,477.1 L43.9,477.0 L44.8,477.0 L45.6,476.9 L46.5,476.9 L47.4,476.8 L48.2,476.7 L49.1,476.7 L49.9,476.6 L50.8,476.6 L51.6,476.5 L52.5,476.4 L53.4,476.4 L54.2,476.3 L55.1,476.2 L55.9,476.1 L56.8,476.1 L57.7,476.0 L58.5,475.9 L59.4,475.8 L60.2,475.7 L61.1,475.6 L62.0,475.6 L62.8,475.5 L63.7,475.4 L64.5,475.3 L65.4,475.2 L66.2,475.1 L67.1,474.9 L68.0,474.8 L68.8,474.7 L69.7,474.6 L70.5,474.5 L71.4,474.3 L72.2,474.2 L73.1,474.1 L74.0,473.9 L74.8,473.8 L75.7,473.6 L76.5,473.5 L77.4,473.3 L78.3,473.2 L79.1,473.0 L80.0,472.8 L80.8,472.6 L81.7,472.5 L82.5,472.3 L83.4,472.1 L84.3,471.9 L85.1,471.7 L86.0,471.5 L86.8,471.2 L87.7,471.0 L88.6,470.8 L89.4,470.6 L90.3,470.3 L91.1,470.1 L92.0,469.8 L92.8,469.5 L93.7,469.2 L94.6,469.0 L95.4,468.7 L96.3,468.4 L97.1,468.1 L98.0,467.7 L98.9,467.4 L99.7,467.1 L100.6,466.7 L101.4,466.4 L102.3,466.0 L103.2,465.6 L104.0,465.2 L104.9,464.8 L105.7,464.4 L106.6,463.9 L107.5,463.5 L108.3,463.1 L109.2,462.6 L110.0,462.1 L110.9,461.6 L111.7,461.1 L112.6,460.6 L113.5,460.0 L114.3,459.5 L115.2,458.9 L116.0,458.3 L116.9,457.7 L117.8,457.1 L118.6,456.5 L119.5,455.8 L120.3,455.1 L121.2,454.4 L122.0,453.7 L122.9,453.0 L123.8,452.2 L124.6,451.5 L125.5,450.7 L126.3,449.9 L127.2,449.1 L128.1,448.2 L128.9,447.3 L129.8,446.4 L130.6,445.5 L131.5,444.6 L132.3,443.6 L133.2,442.6 L134.1,441.6 L134.9,440.6 L135.8,439.6 L136.6,438.5 L137.5,437.4 L138.3,436.3 L139.2,435.1 L140.1,434.0 L140.9,432.8 L141.8,431.6 L142.6,430.4 L143.5,429.1 L144.3,427.8 L145.2,426.5 L146.1,425.2 L146.9,423.9 L147.8,422.6 L148.7,421.2 L149.5,419.8 L150.4,418.4 L151.2,417.0 L152.1,415.6 L152.9,414.2 L153.8,412.8 L154.7,411.3 L155.5,409.9 L156.4,408.5 L157.2,407.0 L158.1,405.6 L158.9,404.2 L159.8,402.8 L160.7,401.3 L161.5,399.9 L162.4,398.6 L163.2,397.2 L164.1,395.9 L165.0,394.6 L165.8,393.4 L166.7,392.1 L167.5,390.9 L168.4,389.8 L169.2,388.7 L170.1,387.6 L171.0,386.6 L171.8,385.7 L172.7,384.8 L173.5,384.0 L174.4,383.2 L175.3,382.5 L176.1,381.9 L177.0,381.4 L177.8,380.9 L178.7,380.5 L179.6,380.1 L180.4,379.9 L181.3,379.8 L182.1,379.7 L183.0,379.7 L183.8,379.7 L184.7,379.8 L185.6,380.0 L186.4,380.2 L187.3,380.5 L188.1,380.8 L189.0,381.1 L189.8,381.6 L190.7,382.0 L191.6,382.5 L192.4,383.1 L193.3,383.7 L194.1,384.3 L195.0,385.0 L195.9,385.7 L196.7,386.5 L197.6,387.2 L198.4,388.1 L199.3,388.9 L200.2,389.8 L201.0,390.8 L201.9,391.7 L202.7,392.7 L203.6,393.7 L204.4,394.7 L205.3,395.7 L206.2,396.8 L207.0,397.8 L207.9,398.9 L208.7,400.0 L209.6,401.1 L210.4,402.2 L211.3,403.4 L212.2,404.5 L213.0,405.6 L213.9,406.7 L214.7,407.9 L215.6,409.0 L216.5,410.1 L217.3,411.3 L218.2,412.4 L219.0,413.5 L219.9,414.6 L220.8,415.8 L221.6,416.9 L222.5,417.9 L223.3,419.0 L224.2,420.1 L225.0,421.2 L225.9,422.2 L226.8,423.3 L227.6,424.3 L228.5,425.3 L229.3,426.3 L230.2,427.3 L231.1,428.3 L231.9,429.2 L232.8,430.2 L233.6,431.1 L234.5,432.0 L235.3,432.9 L236.2,433.8 L237.1,434.7 L237.9,435.6 L238.8,436.4 L239.6,437.2 L240.5,438.1 L241.3,438.9 L242.2,439.6 L243.1,440.4 L243.9,441.2 L244.8,441.9 L245.6,442.6 L246.5,443.3 L247.4,444.0 L248.2,444.7 L249.1,445.4 L249.9,446.1 L250.8,446.7 L251.7,447.3 L252.5,447.9 L253.4,448.6 L254.2,449.1 L255.1,449.7 L255.9,450.3 L256.8,450.9 L257.7,451.4 L258.5,451.9 L259.4,452.4 L260.2,452.9 L261.1,453.4 L261.9,453.9 L262.8,454.4 L263.7,454.9 L264.5,455.3 L265.4,455.8 L266.2,456.2 L267.1,456.6 L268.0,457.1 L268.8,457.5 L269.7,457.9 L270.5,458.3 L271.4,458.7 L272.2,459.0 L273.1,459.4 L274.0,459.8 L274.8,460.1 L275.7,460.4 L276.5,460.8 L277.4,461.1 L278.3,461.4 L279.1,461.8 L280.0,462.1 L280.8,462.4 L281.7,462.7 L282.6,462.9 L283.4,463.2 L284.3,463.5 L285.1,463.8 L286.0,464.0 L286.8,464.3 L287.7,464.6 L288.6,464.8 L289.4,465.0 L290.3,465.3 L291.1,465.5 L292.0,465.7 L292.9,466.0 L293.7,466.2 L294.6,466.4 L295.4,466.6 L296.3,466.8 L297.1,467.0 L298.0,467.2 L298.9,467.4 L299.7,467.6 L300.6,467.8 L301.4,467.9 L302.3,468.1 L303.1,468.3 L304.0,468.5 L304.9,468.6 L305.7,468.8 L306.6,468.9 L307.4,469.1 L308.3,469.3 L309.2,469.4 L310.0,469.6 L310.9,469.7 L311.7,469.9 L312.6,470.0 L313.4,470.1 L314.3,470.3 L315.2,470.4 L316.0,470.5 L316.9,470.6 L317.8,470.8 L318.6,470.9 L319.5,471.0 L320.3,471.1 L321.2,471.2 L322.0,471.4 L322.9,471.5 L323.8,471.6 L324.6,471.7 L325.5,471.8" stroke="rgba(255,255,255,0.4)" stroke-width="2.7"/>
<path d="M25.9,477.8 L26.8,477.8 L27.6,477.7 L28.5,477.7 L29.3,477.7 L30.2,477.6 L31.1,477.6 L31.9,477.6 L32.8,477.6 L33.6,477.5 L34.5,477.5 L35.3,477.4 L36.2,477.4 L37.1,477.4 L37.9,477.3 L38.8,477.3 L39.6,477.2 L40.5,477.2 L41.4,477.1 L42.2,477.1 L43.1,477.1 L43.9,477.0 L44.8,477.0 L45.6,476.9 L46.5,476.9 L47.4,476.8 L48.2,476.7 L49.1,476.7 L49.9,476.6 L50.8,476.6 L51.6,476.5 L52.5,476.4 L53.4,476.4 L54.2,476.3 L55.1,476.2 L55.9,476.1 L56.8,476.1 L57.7,476.0 L58.5,475.9 L59.4,475.8 L60.2,475.7 L61.1,475.6 L62.0,475.6 L62.8,475.5 L63.7,475.4 L64.5,475.3 L65.4,475.2 L66.2,475.1 L67.1,474.9 L68.0,474.8 L68.8,474.7 L69.7,474.6 L70.5,474.5 L71.4,474.3 L72.2,474.2 L73.1,474.1 L74.0,473.9 L74.8,473.8 L75.7,473.6 L76.5,473.5 L77.4,473.3 L78.3,473.2 L79.1,473.0 L80.0,472.8 L80.8,472.6 L81.7,472.5 L82.5,472.3 L83.4,472.1 L84.3,471.9 L85.1,471.7 L86.0,471.5 L86.8,471.2 L87.7,471.0 L88.6,470.8 L89.4,470.6 L90.3,470.3 L91.1,470.1 L92.0,469.8 L92.8,469.5 L93.7,469.2 L94.6,469.0 L95.4,468.7 L96.3,468.4 L97.1,468.1 L98.0,467.7 L98.9,467.4 L99.7,467.1 L100.6,466.7 L101.4,466.4 L102.3,466.0 L103.2,465.6 L104.0,465.2 L104.9,464.8 L105.7,464.4 L106.6,463.9 L107.5,463.5 L108.3,463.1 L109.2,462.6 L110.0,462.1 L110.9,461.6 L111.7,461.1 L112.6,460.6 L113.5,460.0 L114.3,459.5 L115.2,458.9 L116.0,458.3 L116.9,457.7 L117.8,457.1 L118.6,456.5 L119.5,455.8 L120.3,455.1 L121.2,454.4 L122.0,453.7 L122.9,453.0 L123.8,452.2 L124.6,451.5 L125.5,450.7 L126.3,449.9 L127.2,449.1 L128.1,448.2 L128.9,447.3 L129.8,446.4 L130.6,445.5 L131.5,444.6 L132.3,443.6 L133.2,442.6 L134.1,441.6 L134.9,440.6 L135.8,439.6 L136.6,438.5 L137.5,437.4 L138.3,436.3 L139.2,435.1 L140.1,434.0 L140.9,432.8 L141.8,431.6 L142.6,430.4 L143.5,429.1 L144.3,427.8 L145.2,426.5 L146.1,425.2 L146.9,423.9 L147.8,422.6 L148.7,421.2 L149.5,419.8 L150.4,418.4 L151.2,417.0 L152.1,415.6 L152.9,414.2 L153.8,412.8 L154.7,411.3 L155.5,409.9 L156.4,408.5 L157.2,407.0 L158.1,405.6 L158.9,404.2 L159.8,402.8 L160.7,401.3 L161.5,399.9 L162.4,398.6 L163.2,397.2 L164.1,395.9 L165.0,394.6 L165.8,393.4 L166.7,392.1 L167.5,390.9 L168.4,389.8 L169.2,388.7 L170.1,387.6 L171.0,386.6 L171.8,385.7 L172.7,384.8 L173.5,384.0 L174.4,383.2 L175.3,382.5 L176.1,381.9 L177.0,381.4 L177.8,380.9 L178.7,380.5 L179.6,380.1 L180.4,379.9 L181.3,379.8 L182.1,379.7 L183.0,379.7 L183.8,379.7 L184.7,379.8 L185.6,380.0 L186.4,380.2 L187.3,380.5 L188.1,380.8 L189.0,381.1 L189.8,381.6 L190.7,382.0 L191.6,382.5 L192.4,383.1 L193.3,383.7 L194.1,384.3 L195.0,385.0 L195.9,385.7 L196.7,386.5 L197.6,387.2 L198.4,388.1 L199.3,388.9 L200.2,389.8 L201.0,390.8 L201.9,391.7 L202.7,392.7 L203.6,393.7 L204.4,394.7 L205.3,395.7 L206.2,396.8 L207.0,397.8 L207.9,398.9 L208.7,400.0 L209.6,401.1 L210.4,402.2 L211.3,403.4 L212.2,404.5 L213.0,405.6 L213.9,406.7 L214.7,407.9 L215.6,409.0 L216.5,410.1 L217.3,411.3 L218.2,412.4 L219.0,413.5 L219.9,414.6 L220.8,415.8 L221.6,416.9 L222.5,417.9 L223.3,419.0 L224.2,420.1 L225.0,421.2 L225.9,422.2 L226.8,423.3 L227.6,424.3 L228.5,425.3 L229.3,426.3 L230.2,427.3 L231.1,428.3 L231.9,429.2 L232.8,430.2 L233.6,431.1 L234.5,432.0 L235.3,432.9 L236.2,433.8 L237.1,434.7 L237.9,435.6 L238.8,436.4 L239.6,437.2 L240.5,438.1 L241.3,438.9 L242.2,439.6 L243.1,440.4 L243.9,441.2 L244.8,441.9 L245.6,442.6 L246.5,443.3 L247.4,444.0 L248.2,444.7 L249.1,445.4 L249.9,446.1 L250.8,446.7 L251.7,447.3 L252.5,447.9 L253.4,448.6 L254.2,449.1 L255.1,449.7 L255.9,450.3 L256.8,450.9 L257.7,451.4 L258.5,451.9 L259.4,452.4 L260.2,452.9 L261.1,453.4 L261.9,453.9 L262.8,454.4 L263.7,454.9 L264.5,455.3 L265.4,455.8 L266.2,456.2 L267.1,456.6 L268.0,457.1 L268.8,457.5 L269.7,457.9 L270.5,458.3 L271.4,458.7 L272.2,459.0 L273.1,459.4 L274.0,459.8 L274.8,460.1 L275.7,460.4 L276.5,460.8 L277.4,461.1 L278.3,461.4 L279.1,461.8 L280.0,462.1 L280.8,462.4 L281.7,462.7 L282.6,462.9 L283.4,463.2 L284.3,463.5 L285.1,463.8 L286.0,464.0 L286.8,464.3 L287.7,464.6 L288.6,464.8 L289.4,465.0 L290.3,465.3 L291.1,465.5 L292.0,465.7 L292.9,466.0 L293.7,466.2 L294.6,466.4 L295.4,466.6 L296.3,466.8 L297.1,467.0 L298.0,467.2 L298.9,467.4 L299.7,467.6 L300.6,467.8 L301.4,467.9 L302.3,468.1 L303.1,468.3 L304.0,468.5 L304.9,468.6 L305.7,468.8 L306.6,468.9 L307.4,469.1 L308.3,469.3 L309.2,469.4 L310.0,469.6 L310.9,469.7 L311.7,469.9 L312.6,470.0 L313.4,470.1 L314.3,470.3 L315.2,470.4 L316.0,470.5 L316.9,470.6 L317.8,470.8 L318.6,470.9 L319.5,471.0 L320.3,471.1 L321.2,471.2 L322.0,471.4 L322.9,471.5 L323.8,471.6 L324.6,471.7 L325.5,471.8" stroke="#ff1aff" stroke-width="1.8"/>
<path d="M25.9,478.0 L26.8,478.0 L27.6,478.0 L28.5,478.0 L29.3,478.0 L30.2,477.9 L31.1,477.9 L31.9,477.9 L32.8,477.9 L33.6,477.9 L34.5,477.9 L35.3,477.9 L36.2,477.9 L37.1,477.9 L37.9,477.8 L38.8,477.8 L39.6,477.8 L40.5,477.8 L41.4,477.8 L42.2,477.8 L43.1,477.7 L43.9,477.7 L44.8,477.7 L45.6,477.7 L46.5,477.7 L47.4,477.7 L48.2,477.6 L49.1,477.6 L49.9,477.6 L50.8,477.6 L51.6,477.6 L52.5,477.6 L53.4,477.5 L54.2,477.5 L55.1,477.5 L55.9,477.5 L56.8,477.4 L57.7,477.4 L58.5,477.4 L59.4,477.4 L60.2,477.4 L61.1,477.3 L62.0,477.3 L62.8,477.3 L63.7,477.2 L64.5,477.2 L65.4,477.2 L66.2,477.2 L67.1,477.1 L68.0,477.1 L68.8,477.1 L69.7,477.1 L70.5,477.0 L71.4,477.0 L72.2,477.0 L73.1,476.9 L74.0,476.9 L74.8,476.9 L75.7,476.8 L76.5,476.8 L77.4,476.8 L78.3,476.7 L79.1,476.7 L80.0,476.6 L80.8,476.6 L81.7,476.6 L82.5,476.5 L83.4,476.5 L84.3,476.4 L85.1,476.4 L86.0,476.4 L86.8,476.3 L87.7,476.3 L88.6,476.2 L89.4,476.2 L90.3,476.1 L91.1,476.1 L92.0,476.0 L92.8,476.0 L93.7,475.9 L94.6,475.9 L95.4,475.8 L96.3,475.8 L97.1,475.7 L98.0,475.7 L98.9,475.6 L99.7,475.6 L100.6,475.5 L101.4,475.4 L102.3,475.4 L103.2,475.3 L104.0,475.2 L104.9,475.2 L105.7,475.1 L106.6,475.0 L107.5,475.0 L108.3,474.9 L109.2,474.8 L110.0,474.7 L110.9,474.7 L111.7,474.6 L112.6,474.5 L113.5,474.4 L114.3,474.3 L115.2,474.3 L116.0,474.2 L116.9,474.1 L117.8,474.0 L118.6,473.9 L119.5,473.8 L120.3,473.7 L121.2,473.6 L122.0,473.5 L122.9,473.4 L123.8,473.3 L124.6,473.2 L125.5,473.1 L126.3,473.0 L127.2,472.9 L128.1,472.8 L128.9,472.7 L129.8,472.5 L130.6,472.4 L131.5,472.3 L132.3,472.2 L133.2,472.1 L134.1,471.9 L134.9,471.8 L135.8,471.7 L136.6,471.5 L137.5,471.4 L138.3,471.2 L139.2,471.1 L140.1,470.9 L140.9,470.8 L141.8,470.6 L142.6,470.5 L143.5,470.3 L144.3,470.2 L145.2,470.0 L146.1,469.9 L146.9,469.7 L147.8,469.5 L148.7,469.3 L149.5,469.1 L150.4,469.0 L151.2,468.8 L152.1,468.6 L152.9,468.4 L153.8,468.2 L154.7,468.0 L155.5,467.8 L156.4,467.6 L157.2,467.4 L158.1,467.2 L158.9,466.9 L159.8,466.7 L160.7,466.5 L161.5,466.3 L162.4,466.0 L163.2,465.8 L164.1,465.6 L165.0,465.3 L165.8,465.1 L166.7,464.8 L167.5,464.6 L168.4,464.3 L169.2,464.0 L170.1,463.8 L171.0,463.5 L171.8,463.2 L172.7,462.9 L173.5,462.6 L174.4,462.4 L175.3,462.1 L176.1,461.8 L177.0,461.5 L177.8,461.1 L178.7,460.8 L179.6,460.5 L180.4,460.2 L181.3,459.9 L182.1,459.6 L183.0,459.2 L183.8,458.9 L184.7,458.5 L185.6,458.2 L186.4,457.8 L187.3,457.5 L188.1,457.1 L189.0,456.8 L189.8,456.4 L190.7,456.0 L191.6,455.6 L192.4,455.3 L193.3,454.9 L194.1,454.5 L195.0,454.1 L195.9,453.7 L196.7,453.3 L197.6,452.9 L198.4,452.5 L199.3,452.1 L200.2,451.7 L201.0,451.3 L201.9,450.9 L202.7,450.5 L203.6,450.1 L204.4,449.7 L205.3,449.2 L206.2,448.8 L207.0,448.4 L207.9,448.0 L208.7,447.6 L209.6,447.1 L210.4,446.7 L211.3,446.3 L212.2,445.9 L213.0,445.5 L213.9,445.0 L214.7,444.6 L215.6,444.2 L216.5,443.8 L217.3,443.4 L218.2,443.0 L219.0,442.6 L219.9,442.2 L220.8,441.8 L221.6,441.4 L222.5,441.0 L223.3,440.6 L224.2,440.2 L225.0,439.9 L225.9,439.5 L226.8,439.1 L227.6,438.8 L228.5,438.4 L229.3,438.1 L230.2,437.8 L231.1,437.4 L231.9,437.1 L232.8,436.8 L233.6,436.6 L234.5,436.3 L235.3,436.0 L236.2,435.7 L237.1,435.5 L237.9,435.2 L238.8,435.0 L239.6,434.8 L240.5,434.6 L241.3,434.4 L242.2,434.2 L243.1,434.1 L243.9,433.9 L244.8,433.8 L245.6,433.7 L246.5,433.6 L247.4,433.5 L248.2,433.4 L249.1,433.4 L249.9,433.3 L250.8,433.3 L251.7,433.3 L252.5,433.2 L253.4,433.3 L254.2,433.3 L255.1,433.3 L255.9,433.3 L256.8,433.4 L257.7,433.4 L258.5,433.5 L259.4,433.6 L260.2,433.6 L261.1,433.7 L261.9,433.8 L262.8,433.9 L263.7,434.0 L264.5,434.1 L265.4,434.2 L266.2,434.4 L267.1,434.5 L268.0,434.6 L268.8,434.8 L269.7,435.0 L270.5,435.1 L271.4,435.3 L272.2,435.5 L273.1,435.7 L274.0,435.9 L274.8,436.1 L275.7,436.3 L276.5,436.5 L277.4,436.7 L278.3,437.0 L279.1,437.2 L280.0,437.4 L280.8,437.7 L281.7,437.9 L282.6,438.2 L283.4,438.4 L284.3,438.7 L285.1,439.0 L286.0,439.2 L286.8,439.5 L287.7,439.8 L288.6,440.1 L289.4,440.4 L290.3,440.7 L291.1,441.0 L292.0,441.3 L292.9,441.6 L293.7,441.9 L294.6,442.2 L295.4,442.5 L296.3,442.8 L297.1,443.1 L298.0,443.5 L298.9,443.8 L299.7,444.1 L300.6,444.4 L301.4,444.8 L302.3,445.1 L303.1,445.4 L304.0,445.7 L304.9,446.1 L305.7,446.4 L306.6,446.7 L307.4,447.1 L308.3,447.4 L309.2,447.7 L310.0,448.1 L310.9,448.4 L311.7,448.7 L312.6,449.1 L313.4,449.4 L314.3,449.7 L315.2,450.1 L316.0,450.4 L316.9,450.7 L317.8,451.0 L318.6,451.4 L319.5,451.7 L320.3,452.0 L321.2,452.3 L322.0,452.6 L322.9,453.0 L323.8,453.3 L324.6,453.6 L325.5,453.9" stroke="rgba(255,255,255,0.4)" stroke-width="2.7"/>
<path d="M25.9,478.0 L26.8,478.0 L27.6,478.0 L28.5,478.0 L29.3,478.0 L30.2,477.9 L31.1,477.9 L31.9,477.9 L32.8,477.9 L33.6,477.9 L34.5,477.9 L35.3,477.9 L36.2,477.9 L37.1,477.9 L37.9,477.8 L38.8,477.8 L39.6,477.8 L40.5,477.8 L41.4,477.8 L42.2,477.8 L43.1,477.7 L43.9,477.7 L44.8,477.7 L45.6,477.7 L46.5,477.7 L47.4,477.7 L48.2,477.6 L49.1,477.6 L49.9,477.6 L50.8,477.6 L51.6,477.6 L52.5,477.6 L53.4,477.5 L54.2,477.5 L55.1,477.5 L55.9,477.5 L56.8,477.4 L57.7,477.4 L58.5,477.4 L59.4,477.4 L60.2,477.4 L61.1,477.3 L62.0,477.3 L62.8,477.3 L63.7,477.2 L64.5,477.2 L65.4,477.2 L66.2,477.2 L67.1,477.1 L68.0,477.1 L68.8,477.1 L69.7,477.1 L70.5,477.0 L71.4,477.0 L72.2,477.0 L73.1,476.9 L74.0,476.9 L74.8,476.9 L75.7,476.8 L76.5,476.8 L77.4,476.8 L78.3,476.7 L79.1,476.7 L80.0,476.6 L80.8,476.6 L81.7,476.6 L82.5,476.5 L83.4,476.5 L84.3,476.4 L85.1,476.4 L86.0,476.4 L86.8,476.3 L87.7,476.3 L88.6,476.2 L89.4,476.2 L90.3,476.1 L91.1,476.1 L92.0,476.0 L92.8,476.0 L93.7,475.9 L94.6,475.9 L95.4,475.8 L96.3,475.8 L97.1,475.7 L98.0,475.7 L98.9,475.6 L99.7,475.6 L100.6,475.5 L101.4,475.4 L102.3,475.4 L103.2,475.3 L104.0,475.2 L104.9,475.2 L105.7,475.1 L106.6,475.0 L107.5,475.0 L108.3,474.9 L109.2,474.8 L110.0,474.7 L110.9,474.7 L111.7,474.6 L112.6,474.5 L113.5,474.4 L114.3,474.3 L115.2,474.3 L116.0,474.2 L116.9,474.1 L117.8,474.0 L118.6,473.9 L119.5,473.8 L120.3,473.7 L121.2,473.6 L122.0,473.5 L122.9,473.4 L123.8,473.3 L124.6,473.2 L125.5,473.1 L126.3,473.0 L127.2,472.9 L128.1,472.8 L128.9,472.7 L129.8,472.5 L130.6,472.4 L131.5,472.3 L132.3,472.2 L133.2,472.1 L134.1,471.9 L134.9,471.8 L135.8,471.7 L136.6,471.5 L137.5,471.4 L138.3,471.2 L139.2,471.1 L140.1,470.9 L140.9,470.8 L141.8,470.6 L142.6,470.5 L143.5,470.3 L144.3,470.2 L145.2,470.0 L146.1,469.9 L146.9,469.7 L147.8,469.5 L148.7,469.3 L149.5,469.1 L150.4,469.0 L151.2,468.8 L152.1,468.6 L152.9,468.4 L153.8,468.2 L154.7,468.0 L155.5,467.8 L156.4,467.6 L157.2,467.4 L158.1,467.2 L158.9,466.9 L159.8,466.7 L160.7,466.5 L161.5,466.3 L162.4,466.0 L163.2,465.8 L164.1,465.6 L165.0,465.3 L165.8,465.1 L166.7,464.8 L167.5,464.6 L168.4,464.3 L169.2,464.0 L170.1,463.8 L171.0,463.5 L171.8,463.2 L172.7,462.9 L173.5,462.6 L174.4,462.4 L175.3,462.1 L176.1,461.8 L177.0,461.5 L177.8,461.1 L178.7,460.8 L179.6,460.5 L180.4,460.2 L181.3,459.9 L182.1,459.6 L183.0,459.2 L183.8,458.9 L184.7,458.5 L185.6,458.2 L186.4,457.8 L187.3,457.5 L188.1,457.1 L189.0,456.8 L189.8,456.4 L190.7,456.0 L191.6,455.6 L192.4,455.3 L193.3,454.9 L194.1,454.5 L195.0,454.1 L195.9,453.7 L196.7,453.3 L197.6,452.9 L198.4,452.5 L199.3,452.1 L200.2,451.7 L201.0,451.3 L201.9,450.9 L202.7,450.5 L203.6,450.1 L204.4,449.7 L205.3,449.2 L206.2,448.8 L207.0,448.4 L207.9,448.0 L208.7,447.6 L209.6,447.1 L210.4,446.7 L211.3,446.3 L212.2,445.9 L213.0,445.5 L213.9,445.0 L214.7,444.6 L215.6,444.2 L216.5,443.8 L217.3,443.4 L218.2,443.0 L219.0,442.6 L219.9,442.2 L220.8,441.8 L221.6,441.4 L222.5,441.0 L223.3,440.6 L224.2,440.2 L225.0,439.9 L225.9,439.5 L226.8,439.1 L227.6,438.8 L228.5,438.4 L229.3,438.1 L230.2,437.8 L231.1,437.4 L231.9,437.1 L232.8,436.8 L233.6,436.6 L234.5,436.3 L235.3,436.0 L236.2,435.7 L237.1,435.5 L237.9,435.2 L238.8,435.0 L239.6,434.8 L240.5,434.6 L241.3,434.4 L242.2,434.2 L243.1,434.1 L243.9,433.9 L244.8,433.8 L245.6,433.7 L246.5,433.6 L247.4,433.5 L248.2,433.4 L249.1,433.4 L249.9,433.3 L250.8,433.3 L251.7,433.3 L252.5,433.2 L253.4,433.3 L254.2,433.3 L255.1,433.3 L255.9,433.3 L256.8,433.4 L257.7,433.4 L258.5,433.5 L259.4,433.6 L260.2,433.6 L261.1,433.7 L261.9,433.8 L262.8,433.9 L263.7,434.0 L264.5,434.1 L265.4,434.2 L266.2,434.4 L267.1,434.5 L268.0,434.6 L268.8,434.8 L269.7,435.0 L270.5,435.1 L271.4,435.3 L272.2,435.5 L273.1,435.7 L274.0,435.9 L274.8,436.1 L275.7,436.3 L276.5,436.5 L277.4,436.7 L278.3,437.0 L279.1,437.2 L280.0,437.4 L280.8,437.7 L281.7,437.9 L282.6,438.2 L283.4,438.4 L284.3,438.7 L285.1,439.0 L286.0,439.2 L286.8,439.5 L287.7,439.8 L288.6,440.1 L289.4,440.4 L290.3,440.7 L291.1,441.0 L292.0,441.3 L292.9,441.6 L293.7,441.9 L294.6,442.2 L295.4,442.5 L296.3,442.8 L297.1,443.1 L298.0,443.5 L298.9,443.8 L299.7,444.1 L300.6,444.4 L301.4,444.8 L302.3,445.1 L303.1,445.4 L304.0,445.7 L304.9,446.1 L305.7,446.4 L306.6,446.7 L307.4,447.1 L308.3,447.4 L309.2,447.7 L310.0,448.1 L310.9,448.4 L311.7,448.7 L312.6,449.1 L313.4,449.4 L314.3,449.7 L315.2,450.1 L316.0,450.4 L316.9,450.7 L317.8,451.0 L318.6,451.4 L319.5,451.7 L320.3,452.0 L321.2,452.3 L322.0,452.6 L322.9,453.0 L323.8,453.3 L324.6,453.6 L325.5,453.9" stroke="#ff1a22" stroke-width="1.8"/>
<path d="M26.50,478.40 L29.02,478.39 L31.54,478.38 L34.06,478.36 L36.57,478.35 L39.09,478.34 L41.61,478.33 L44.13,478.31 L46.65,478.30 L49.17,478.29 L51.68,478.28 L54.20,478.27 L56.72,478.25 L59.24,478.24 L61.76,478.23 L64.28,478.22 L66.80,478.20 L69.31,478.19 L71.83,478.18 L74.35,478.17 L76.87,478.16 L79.39,478.14 L81.91,478.13 L84.43,478.12 L86.94,478.11 L89.46,478.09 L91.98,478.08 L94.50,478.07 L97.02,478.06 L99.54,478.05 L102.05,478.03 L104.57,478.02 L107.09,478.01 L109.61,478.00 L112.13,477.98 L114.65,477.97 L117.17,477.96 L119.68,477.95 L122.20,477.94 L124.72,477.92 L127.24,477.91 L129.76,477.90 L132.28,477.89 L134.79,477.87 L137.31,477.86 L139.83,477.85 L142.35,477.84 L144.87,477.82 L147.39,477.81 L149.91,477.80 L152.42,477.75 L154.94,477.71 L157.46,477.66 L159.98,477.61 L162.50,477.57 L165.02,477.52 L167.54,477.47 L170.05,477.42 L172.57,477.38 L175.09,477.33 L177.61,477.28 L180.13,477.24 L182.65,477.19 L185.16,477.14 L187.68,477.09 L190.20,477.05 L192.72,477.00 L195.24,476.95 L197.76,476.90 L200.28,476.86 L202.79,476.81 L205.31,476.76 L207.83,476.72 L210.35,476.67 L212.87,476.62 L215.39,476.57 L217.91,476.53 L220.42,476.48 L222.94,476.43 L225.46,476.39 L227.98,476.34 L230.50,476.29 L233.02,476.27 L235.53,476.24 L238.05,476.21 L240.57,476.18 L243.09,476.15 L245.61,476.12 L248.13,476.09 L250.65,476.06 L253.16,476.03 L255.68,476.01 L258.20,475.98 L260.72,475.95 L263.24,475.92 L265.76,475.89 L268.27,475.86 L270.79,475.83 L273.31,475.80 L275.83,475.77 L278.35,475.75 L280.87,475.72 L283.39,475.69 L285.90,475.66 L288.42,475.63 L290.94,475.60 L293.46,475.57 L295.98,475.54 L298.50,475.52 L301.02,475.49 L303.53,475.46 L306.05,475.43 L308.57,475.40 L311.09,475.37 L313.61,475.34 L316.13,475.31 L318.64,475.28 L321.16,475.26 L323.68,475.23 L326.20,475.20" stroke="rgba(255,255,255,0.5)" stroke-width="2.6"/>
<path d="M26.50,478.40 L29.02,478.39 L31.54,478.38 L34.06,478.36 L36.57,478.35 L39.09,478.34 L41.61,478.33 L44.13,478.31 L46.65,478.30 L49.17,478.29 L51.68,478.28 L54.20,478.27 L56.72,478.25 L59.24,478.24 L61.76,478.23 L64.28,478.22 L66.80,478.20 L69.31,478.19 L71.83,478.18 L74.35,478.17 L76.87,478.16 L79.39,478.14 L81.91,478.13 L84.43,478.12 L86.94,478.11 L89.46,478.09 L91.98,478.08 L94.50,478.07 L97.02,478.06 L99.54,478.05 L102.05,478.03 L104.57,478.02 L107.09,478.01 L109.61,478.00 L112.13,477.98 L114.65,477.97 L117.17,477.96 L119.68,477.95 L122.20,477.94 L124.72,477.92 L127.24,477.91 L129.76,477.90 L132.28,477.89 L134.79,477.87 L137.31,477.86 L139.83,477.85 L142.35,477.84 L144.87,477.82 L147.39,477.81 L149.91,477.80 L152.42,477.75 L154.94,477.71 L157.46,477.66 L159.98,477.61 L162.50,477.57 L165.02,477.52 L167.54,477.47 L170.05,477.42 L172.57,477.38 L175.09,477.33 L177.61,477.28 L180.13,477.24 L182.65,477.19 L185.16,477.14 L187.68,477.09 L190.20,477.05 L192.72,477.00 L195.24,476.95 L197.76,476.90 L200.28,476.86 L202.79,476.81 L205.31,476.76 L207.83,476.72 L210.35,476.67 L212.87,476.62 L215.39,476.57 L217.91,476.53 L220.42,476.48 L222.94,476.43 L225.46,476.39 L227.98,476.34 L230.50,476.29 L233.02,476.27 L235.53,476.24 L238.05,476.21 L240.57,476.18 L243.09,476.15 L245.61,476.12 L248.13,476.09 L250.65,476.06 L253.16,476.03 L255.68,476.01 L258.20,475.98 L260.72,475.95 L263.24,475.92 L265.76,475.89 L268.27,475.86 L270.79,475.83 L273.31,475.80 L275.83,475.77 L278.35,475.75 L280.87,475.72 L283.39,475.69 L285.90,475.66 L288.42,475.63 L290.94,475.60 L293.46,475.57 L295.98,475.54 L298.50,475.52 L301.02,475.49 L303.53,475.46 L306.05,475.43 L308.57,475.40 L311.09,475.37 L313.61,475.34 L316.13,475.31 L318.64,475.28 L321.16,475.26 L323.68,475.23 L326.20,475.20" stroke="#000" stroke-width="1.2"/>
</g>
<rect x="251.1" y="289.6" width="68.9" height="82.09999999999997" fill="#000" stroke="#8a8a8a" stroke-width="1.8"/>
<path d="M253.9,301.6H271.7" stroke="#2828ff" stroke-width="2.6"/>
<text class="t s" x="272.20" y="304.75" font-size="9.9" text-anchor="start">ζ</text>
<text class="t s" x="276.70" y="308.35" font-size="5.3999999999999995" text-anchor="start">d</text>
<text class="t s" x="279.85" y="304.75" font-size="9" text-anchor="start" textLength="33.20" lengthAdjust="spacingAndGlyphs">=1.5 x 10</text>
<text class="t s" x="313.45" y="300.25" font-size="5.8500000000000005" text-anchor="start">8</text>
<path d="M253.9,321.1H271.7" stroke="#ff1aff" stroke-width="2.6"/>
<text class="t s" x="272.20" y="324.25" font-size="9.9" text-anchor="start">ζ</text>
<text class="t s" x="276.70" y="327.85" font-size="5.3999999999999995" text-anchor="start">d</text>
<text class="t s" x="279.85" y="324.25" font-size="9" text-anchor="start" textLength="33.20" lengthAdjust="spacingAndGlyphs">=1.2 x 10</text>
<text class="t s" x="313.45" y="319.75" font-size="5.8500000000000005" text-anchor="start">8</text>
<path d="M253.9,341.4H271.7" stroke="#ff1a22" stroke-width="2.6"/>
<text class="t s" x="272.20" y="344.55" font-size="9.9" text-anchor="start">ζ</text>
<text class="t s" x="276.70" y="348.15" font-size="5.3999999999999995" text-anchor="start">d</text>
<text class="t s" x="279.85" y="344.55" font-size="9" text-anchor="start" textLength="24.20" lengthAdjust="spacingAndGlyphs">=1 x 10</text>
<text class="t s" x="304.45" y="340.05" font-size="5.8500000000000005" text-anchor="start">8</text>
<path d="M253.9,359.6H271.7" stroke="rgba(255,255,255,0.5)" stroke-width="3.2"/>
<path d="M253.9,359.6H271.7" stroke="#000" stroke-width="1.2"/>
<text class="t s" x="272.20" y="362.75" font-size="9.9" text-anchor="start">ζ</text>
<text class="t s" x="276.70" y="366.35" font-size="5.3999999999999995" text-anchor="start">d</text>
<text class="t s" x="279.85" y="362.75" font-size="9" text-anchor="start" textLength="33.20" lengthAdjust="spacingAndGlyphs">=0.8 x 10</text>
<text class="t s" x="313.45" y="358.25" font-size="5.8500000000000005" text-anchor="start">8</text>
<text class="t s" x="25.90" y="489.00" font-size="8" text-anchor="middle" textLength="3.00" lengthAdjust="spacingAndGlyphs">0</text>
<text class="t s" x="75.90" y="489.00" font-size="8" text-anchor="middle" textLength="6.00" lengthAdjust="spacingAndGlyphs">50</text>
<text class="t s" x="125.90" y="489.00" font-size="8" text-anchor="middle" textLength="9.00" lengthAdjust="spacingAndGlyphs">100</text>
<text class="t s" x="175.90" y="489.00" font-size="8" text-anchor="middle" textLength="9.00" lengthAdjust="spacingAndGlyphs">150</text>
<text class="t s" x="225.90" y="489.00" font-size="8" text-anchor="middle" textLength="9.00" lengthAdjust="spacingAndGlyphs">200</text>
<text class="t s" x="275.90" y="489.00" font-size="8" text-anchor="middle" textLength="9.00" lengthAdjust="spacingAndGlyphs">250</text>
<text class="t s" x="325.90" y="489.00" font-size="8" text-anchor="middle" textLength="9.00" lengthAdjust="spacingAndGlyphs">300</text>
<text class="t s" x="20.70" y="481.48" font-size="8" text-anchor="start" textLength="3.00" lengthAdjust="spacingAndGlyphs">0</text>
<text class="t s" x="16.20" y="453.93" font-size="8" text-anchor="start" textLength="7.50" lengthAdjust="spacingAndGlyphs">0.5</text>
<text class="t s" x="20.70" y="426.38" font-size="8" text-anchor="start" textLength="3.00" lengthAdjust="spacingAndGlyphs">1</text>
<text class="t s" x="16.20" y="398.83" font-size="8" text-anchor="start" textLength="7.50" lengthAdjust="spacingAndGlyphs">1.5</text>
<text class="t s" x="20.70" y="371.28" font-size="8" text-anchor="start" textLength="3.00" lengthAdjust="spacingAndGlyphs">2</text>
<text class="t s" x="16.20" y="343.73" font-size="8" text-anchor="start" textLength="7.50" lengthAdjust="spacingAndGlyphs">2.5</text>
<text class="t s" x="20.70" y="316.18" font-size="8" text-anchor="start" textLength="3.00" lengthAdjust="spacingAndGlyphs">3</text>
<text class="t s" x="16.20" y="288.63" font-size="8" text-anchor="start" textLength="7.50" lengthAdjust="spacingAndGlyphs">3.5</text>
<text class="t s" x="25.70" y="285.00" font-size="8" text-anchor="start" textLength="9.80" lengthAdjust="spacingAndGlyphs">x10</text>
<text class="t s" x="35.80" y="281.40" font-size="6.0" text-anchor="start">4</text>
<text class="t" x="159.70" y="281.00" font-size="11.0" text-anchor="start" textLength="6.30" lengthAdjust="spacingAndGlyphs">α</text>
<text class="t b" x="166.30" y="281.00" font-size="13.5" text-anchor="start" textLength="25.70" lengthAdjust="spacingAndGlyphs">=0.98</text>
<text class="t" x="0" y="0" font-size="9.2" text-anchor="middle" textLength="68" lengthAdjust="spacingAndGlyphs" transform="translate(13.4,382) rotate(-90)">I(t)+A(t)+H(t)</text>
<text class="t" x="152.30" y="504.50" font-size="13" text-anchor="start" textLength="46.70" lengthAdjust="spacingAndGlyphs">Time(days)</text>
<text class="t" x="169.80" y="527.30" font-size="14.8" text-anchor="start" textLength="19.20" lengthAdjust="spacingAndGlyphs">(c)</text>
<clipPath id="clipd"><rect x="377.90000000000003" y="286.0" width="298.5" height="194.10000000000002"/></clipPath>
<path d="M427.10,286.00V478.80M477.10,286.00V478.80M527.10,286.00V478.80M577.10,286.00V478.80M627.10,286.00V478.80M377.30,451.10H677.00M377.30,423.55H677.00M377.30,396.00H677.00M377.30,368.45H677.00M377.30,340.90H677.00M377.30,313.35H677.00" stroke="#fff" stroke-width="2.7" fill="none"/>
<rect x="377.3" y="286.0" width="299.7" height="192.8" fill="none" stroke="#555" stroke-width="2"/>
<path d="M377.10,478.80v-3.2M377.10,286.00v3.2M427.10,478.80v-3.2M427.10,286.00v3.2M477.10,478.80v-3.2M477.10,286.00v3.2M527.10,478.80v-3.2M527.10,286.00v3.2M577.10,478.80v-3.2M577.10,286.00v3.2M627.10,478.80v-3.2M627.10,286.00v3.2M677.10,478.80v-3.2M677.10,286.00v3.2M377.30,478.65h3.2M677.00,478.65h-3.2M377.30,451.10h3.2M677.00,451.10h-3.2M377.30,423.55h3.2M677.00,423.55h-3.2M377.30,396.00h3.2M677.00,396.00h-3.2M377.30,368.45h3.2M677.00,368.45h-3.2M377.30,340.90h3.2M677.00,340.90h-3.2M377.30,313.35h3.2M677.00,313.35h-3.2M377.30,285.80h3.2M677.00,285.80h-3.2" stroke="#555" stroke-width="1.2" fill="none"/>
<g clip-path="url(#clipd)" fill="none" stroke-linejoin="round">
<path d="M377.1,478.1 L378.0,478.1 L378.8,478.1 L379.7,478.1 L380.5,478.1 L381.4,478.1 L382.2,478.1 L383.1,478.0 L384.0,478.0 L384.8,478.0 L385.7,478.0 L386.5,477.9 L387.4,477.9 L388.3,477.9 L389.1,477.9 L390.0,477.8 L390.8,477.8 L391.7,477.8 L392.6,477.8 L393.4,477.7 L394.3,477.7 L395.1,477.6 L396.0,477.6 L396.8,477.5 L397.7,477.5 L398.6,477.4 L399.4,477.4 L400.3,477.3 L401.1,477.3 L402.0,477.2 L402.9,477.1 L403.7,477.1 L404.6,477.0 L405.4,476.9 L406.3,476.8 L407.1,476.7 L408.0,476.6 L408.9,476.5 L409.7,476.4 L410.6,476.3 L411.4,476.2 L412.3,476.1 L413.1,475.9 L414.0,475.8 L414.9,475.6 L415.7,475.5 L416.6,475.3 L417.4,475.1 L418.3,475.0 L419.2,474.8 L420.0,474.6 L420.9,474.3 L421.7,474.1 L422.6,473.9 L423.4,473.6 L424.3,473.4 L425.2,473.1 L426.0,472.8 L426.9,472.5 L427.7,472.1 L428.6,471.8 L429.5,471.4 L430.3,471.1 L431.2,470.6 L432.0,470.2 L432.9,469.8 L433.8,469.3 L434.6,468.8 L435.5,468.3 L436.3,467.8 L437.2,467.2 L438.0,466.6 L438.9,466.0 L439.8,465.3 L440.6,464.6 L441.5,463.9 L442.3,463.1 L443.2,462.3 L444.1,461.5 L444.9,460.6 L445.8,459.7 L446.6,458.7 L447.5,457.7 L448.3,456.7 L449.2,455.6 L450.1,454.4 L450.9,453.2 L451.8,452.0 L452.6,450.7 L453.5,449.3 L454.4,447.9 L455.2,446.4 L456.1,444.8 L456.9,443.2 L457.8,441.6 L458.6,439.8 L459.5,438.0 L460.4,436.1 L461.2,434.2 L462.1,432.2 L462.9,430.1 L463.8,427.9 L464.6,425.7 L465.5,423.4 L466.4,421.0 L467.2,418.5 L468.1,416.0 L468.9,413.4 L469.8,410.7 L470.7,408.0 L471.5,405.2 L472.4,402.3 L473.2,399.3 L474.1,396.3 L474.9,393.2 L475.8,390.1 L476.7,386.9 L477.5,383.7 L478.4,380.4 L479.2,377.1 L480.1,373.7 L481.0,370.4 L481.8,367.0 L482.7,363.6 L483.5,360.1 L484.4,356.7 L485.2,353.3 L486.1,349.9 L487.0,346.6 L487.8,343.2 L488.7,340.0 L489.6,336.7 L490.4,333.6 L491.3,330.5 L492.1,327.5 L493.0,324.6 L493.8,321.9 L494.7,319.2 L495.6,316.6 L496.4,314.2 L497.3,312.0 L498.1,309.9 L499.0,308.0 L499.9,306.2 L500.7,304.6 L501.6,303.2 L502.4,302.0 L503.3,301.0 L504.1,300.2 L505.0,299.6 L505.9,299.2 L506.7,299.1 L507.6,299.1 L508.4,299.3 L509.3,299.6 L510.1,300.1 L511.0,300.7 L511.9,301.4 L512.7,302.3 L513.6,303.3 L514.4,304.5 L515.3,305.8 L516.2,307.1 L517.0,308.6 L517.9,310.2 L518.7,311.9 L519.6,313.8 L520.5,315.6 L521.3,317.6 L522.2,319.6 L523.0,321.7 L523.9,323.9 L524.7,326.1 L525.6,328.3 L526.5,330.6 L527.3,332.9 L528.2,335.3 L529.0,337.6 L529.9,340.0 L530.8,342.4 L531.6,344.8 L532.5,347.2 L533.3,349.6 L534.2,352.0 L535.0,354.3 L535.9,356.7 L536.8,359.0 L537.6,361.3 L538.5,363.6 L539.3,365.9 L540.2,368.1 L541.0,370.3 L541.9,372.5 L542.8,374.6 L543.6,376.7 L544.5,378.8 L545.3,380.8 L546.2,382.8 L547.1,384.8 L547.9,386.7 L548.8,388.6 L549.6,390.4 L550.5,392.2 L551.4,394.0 L552.2,395.7 L553.1,397.4 L553.9,399.1 L554.8,400.7 L555.6,402.3 L556.5,403.9 L557.4,405.4 L558.2,406.9 L559.1,408.3 L559.9,409.7 L560.8,411.1 L561.6,412.5 L562.5,413.8 L563.4,415.1 L564.2,416.3 L565.1,417.6 L565.9,418.8 L566.8,419.9 L567.7,421.1 L568.5,422.2 L569.4,423.3 L570.2,424.3 L571.1,425.4 L572.0,426.4 L572.8,427.4 L573.7,428.3 L574.5,429.3 L575.4,430.2 L576.2,431.1 L577.1,431.9 L578.0,432.8 L578.8,433.6 L579.7,434.4 L580.5,435.2 L581.4,436.0 L582.2,436.8 L583.1,437.5 L584.0,438.2 L584.8,438.9 L585.7,439.6 L586.5,440.3 L587.4,441.0 L588.3,441.6 L589.1,442.2 L590.0,442.9 L590.8,443.5 L591.7,444.0 L592.5,444.6 L593.4,445.2 L594.3,445.7 L595.1,446.3 L596.0,446.8 L596.8,447.3 L597.7,447.8 L598.6,448.3 L599.4,448.8 L600.3,449.2 L601.1,449.7 L602.0,450.1 L602.9,450.6 L603.7,451.0 L604.6,451.4 L605.4,451.9 L606.3,452.2 L607.1,452.6 L608.0,453.0 L608.9,453.4 L609.7,453.8 L610.6,454.1 L611.4,454.5 L612.3,454.9 L613.1,455.2 L614.0,455.5 L614.9,455.9 L615.7,456.2 L616.6,456.5 L617.4,456.8 L618.3,457.1 L619.2,457.4 L620.0,457.7 L620.9,458.0 L621.7,458.3 L622.6,458.5 L623.5,458.8 L624.3,459.1 L625.2,459.3 L626.0,459.6 L626.9,459.8 L627.7,460.1 L628.6,460.3 L629.5,460.6 L630.3,460.8 L631.2,461.0 L632.0,461.2 L632.9,461.5 L633.8,461.7 L634.6,461.9 L635.5,462.1 L636.3,462.3 L637.2,462.5 L638.0,462.7 L638.9,462.9 L639.8,463.1 L640.6,463.3 L641.5,463.5 L642.3,463.6 L643.2,463.8 L644.0,464.0 L644.9,464.2 L645.8,464.3 L646.6,464.5 L647.5,464.7 L648.3,464.8 L649.2,465.0 L650.1,465.1 L650.9,465.3 L651.8,465.4 L652.6,465.6 L653.5,465.7 L654.4,465.9 L655.2,466.0 L656.1,466.2 L656.9,466.3 L657.8,466.4 L658.6,466.6 L659.5,466.7 L660.4,466.8 L661.2,466.9 L662.1,467.1 L662.9,467.2 L663.8,467.3 L664.6,467.4 L665.5,467.6 L666.4,467.7 L667.2,467.8 L668.1,467.9 L669.0,468.0 L669.8,468.1 L670.7,468.2 L671.5,468.3 L672.4,468.4 L673.2,468.5 L674.1,468.6 L675.0,468.7 L675.8,468.8 L676.7,468.9" stroke="rgba(255,255,255,0.4)" stroke-width="2.7"/>
<path d="M377.1,478.1 L378.0,478.1 L378.8,478.1 L379.7,478.1 L380.5,478.1 L381.4,478.1 L382.2,478.1 L383.1,478.0 L384.0,478.0 L384.8,478.0 L385.7,478.0 L386.5,477.9 L387.4,477.9 L388.3,477.9 L389.1,477.9 L390.0,477.8 L390.8,477.8 L391.7,477.8 L392.6,477.8 L393.4,477.7 L394.3,477.7 L395.1,477.6 L396.0,477.6 L396.8,477.5 L397.7,477.5 L398.6,477.4 L399.4,477.4 L400.3,477.3 L401.1,477.3 L402.0,477.2 L402.9,477.1 L403.7,477.1 L404.6,477.0 L405.4,476.9 L406.3,476.8 L407.1,476.7 L408.0,476.6 L408.9,476.5 L409.7,476.4 L410.6,476.3 L411.4,476.2 L412.3,476.1 L413.1,475.9 L414.0,475.8 L414.9,475.6 L415.7,475.5 L416.6,475.3 L417.4,475.1 L418.3,475.0 L419.2,474.8 L420.0,474.6 L420.9,474.3 L421.7,474.1 L422.6,473.9 L423.4,473.6 L424.3,473.4 L425.2,473.1 L426.0,472.8 L426.9,472.5 L427.7,472.1 L428.6,471.8 L429.5,471.4 L430.3,471.1 L431.2,470.6 L432.0,470.2 L432.9,469.8 L433.8,469.3 L434.6,468.8 L435.5,468.3 L436.3,467.8 L437.2,467.2 L438.0,466.6 L438.9,466.0 L439.8,465.3 L440.6,464.6 L441.5,463.9 L442.3,463.1 L443.2,462.3 L444.1,461.5 L444.9,460.6 L445.8,459.7 L446.6,458.7 L447.5,457.7 L448.3,456.7 L449.2,455.6 L450.1,454.4 L450.9,453.2 L451.8,452.0 L452.6,450.7 L453.5,449.3 L454.4,447.9 L455.2,446.4 L456.1,444.8 L456.9,443.2 L457.8,441.6 L458.6,439.8 L459.5,438.0 L460.4,436.1 L461.2,434.2 L462.1,432.2 L462.9,430.1 L463.8,427.9 L464.6,425.7 L465.5,423.4 L466.4,421.0 L467.2,418.5 L468.1,416.0 L468.9,413.4 L469.8,410.7 L470.7,408.0 L471.5,405.2 L472.4,402.3 L473.2,399.3 L474.1,396.3 L474.9,393.2 L475.8,390.1 L476.7,386.9 L477.5,383.7 L478.4,380.4 L479.2,377.1 L480.1,373.7 L481.0,370.4 L481.8,367.0 L482.7,363.6 L483.5,360.1 L484.4,356.7 L485.2,353.3 L486.1,349.9 L487.0,346.6 L487.8,343.2 L488.7,340.0 L489.6,336.7 L490.4,333.6 L491.3,330.5 L492.1,327.5 L493.0,324.6 L493.8,321.9 L494.7,319.2 L495.6,316.6 L496.4,314.2 L497.3,312.0 L498.1,309.9 L499.0,308.0 L499.9,306.2 L500.7,304.6 L501.6,303.2 L502.4,302.0 L503.3,301.0 L504.1,300.2 L505.0,299.6 L505.9,299.2 L506.7,299.1 L507.6,299.1 L508.4,299.3 L509.3,299.6 L510.1,300.1 L511.0,300.7 L511.9,301.4 L512.7,302.3 L513.6,303.3 L514.4,304.5 L515.3,305.8 L516.2,307.1 L517.0,308.6 L517.9,310.2 L518.7,311.9 L519.6,313.8 L520.5,315.6 L521.3,317.6 L522.2,319.6 L523.0,321.7 L523.9,323.9 L524.7,326.1 L525.6,328.3 L526.5,330.6 L527.3,332.9 L528.2,335.3 L529.0,337.6 L529.9,340.0 L530.8,342.4 L531.6,344.8 L532.5,347.2 L533.3,349.6 L534.2,352.0 L535.0,354.3 L535.9,356.7 L536.8,359.0 L537.6,361.3 L538.5,363.6 L539.3,365.9 L540.2,368.1 L541.0,370.3 L541.9,372.5 L542.8,374.6 L543.6,376.7 L544.5,378.8 L545.3,380.8 L546.2,382.8 L547.1,384.8 L547.9,386.7 L548.8,388.6 L549.6,390.4 L550.5,392.2 L551.4,394.0 L552.2,395.7 L553.1,397.4 L553.9,399.1 L554.8,400.7 L555.6,402.3 L556.5,403.9 L557.4,405.4 L558.2,406.9 L559.1,408.3 L559.9,409.7 L560.8,411.1 L561.6,412.5 L562.5,413.8 L563.4,415.1 L564.2,416.3 L565.1,417.6 L565.9,418.8 L566.8,419.9 L567.7,421.1 L568.5,422.2 L569.4,423.3 L570.2,424.3 L571.1,425.4 L572.0,426.4 L572.8,427.4 L573.7,428.3 L574.5,429.3 L575.4,430.2 L576.2,431.1 L577.1,431.9 L578.0,432.8 L578.8,433.6 L579.7,434.4 L580.5,435.2 L581.4,436.0 L582.2,436.8 L583.1,437.5 L584.0,438.2 L584.8,438.9 L585.7,439.6 L586.5,440.3 L587.4,441.0 L588.3,441.6 L589.1,442.2 L590.0,442.9 L590.8,443.5 L591.7,444.0 L592.5,444.6 L593.4,445.2 L594.3,445.7 L595.1,446.3 L596.0,446.8 L596.8,447.3 L597.7,447.8 L598.6,448.3 L599.4,448.8 L600.3,449.2 L601.1,449.7 L602.0,450.1 L602.9,450.6 L603.7,451.0 L604.6,451.4 L605.4,451.9 L606.3,452.2 L607.1,452.6 L608.0,453.0 L608.9,453.4 L609.7,453.8 L610.6,454.1 L611.4,454.5 L612.3,454.9 L613.1,455.2 L614.0,455.5 L614.9,455.9 L615.7,456.2 L616.6,456.5 L617.4,456.8 L618.3,457.1 L619.2,457.4 L620.0,457.7 L620.9,458.0 L621.7,458.3 L622.6,458.5 L623.5,458.8 L624.3,459.1 L625.2,459.3 L626.0,459.6 L626.9,459.8 L627.7,460.1 L628.6,460.3 L629.5,460.6 L630.3,460.8 L631.2,461.0 L632.0,461.2 L632.9,461.5 L633.8,461.7 L634.6,461.9 L635.5,462.1 L636.3,462.3 L637.2,462.5 L638.0,462.7 L638.9,462.9 L639.8,463.1 L640.6,463.3 L641.5,463.5 L642.3,463.6 L643.2,463.8 L644.0,464.0 L644.9,464.2 L645.8,464.3 L646.6,464.5 L647.5,464.7 L648.3,464.8 L649.2,465.0 L650.1,465.1 L650.9,465.3 L651.8,465.4 L652.6,465.6 L653.5,465.7 L654.4,465.9 L655.2,466.0 L656.1,466.2 L656.9,466.3 L657.8,466.4 L658.6,466.6 L659.5,466.7 L660.4,466.8 L661.2,466.9 L662.1,467.1 L662.9,467.2 L663.8,467.3 L664.6,467.4 L665.5,467.6 L666.4,467.7 L667.2,467.8 L668.1,467.9 L669.0,468.0 L669.8,468.1 L670.7,468.2 L671.5,468.3 L672.4,468.4 L673.2,468.5 L674.1,468.6 L675.0,468.7 L675.8,468.8 L676.7,468.9" stroke="#2828ff" stroke-width="1.8"/>
<path d="M377.1,478.4 L378.0,478.4 L378.8,478.3 L379.7,478.3 L380.5,478.3 L381.4,478.3 L382.2,478.3 L383.1,478.3 L384.0,478.3 L384.8,478.2 L385.7,478.2 L386.5,478.2 L387.4,478.2 L388.3,478.2 L389.1,478.2 L390.0,478.1 L390.8,478.1 L391.7,478.1 L392.6,478.1 L393.4,478.1 L394.3,478.1 L395.1,478.0 L396.0,478.0 L396.8,478.0 L397.7,478.0 L398.6,477.9 L399.4,477.9 L400.3,477.9 L401.1,477.9 L402.0,477.8 L402.9,477.8 L403.7,477.8 L404.6,477.7 L405.4,477.7 L406.3,477.7 L407.1,477.6 L408.0,477.6 L408.9,477.6 L409.7,477.5 L410.6,477.5 L411.4,477.4 L412.3,477.4 L413.1,477.4 L414.0,477.3 L414.9,477.3 L415.7,477.2 L416.6,477.2 L417.4,477.1 L418.3,477.1 L419.2,477.0 L420.0,477.0 L420.9,476.9 L421.7,476.8 L422.6,476.8 L423.4,476.7 L424.3,476.6 L425.2,476.6 L426.0,476.5 L426.9,476.4 L427.7,476.4 L428.6,476.3 L429.5,476.2 L430.3,476.1 L431.2,476.0 L432.0,475.9 L432.9,475.8 L433.8,475.8 L434.6,475.6 L435.5,475.6 L436.3,475.4 L437.2,475.3 L438.0,475.2 L438.9,475.1 L439.8,475.0 L440.6,474.9 L441.5,474.7 L442.3,474.6 L443.2,474.5 L444.1,474.3 L444.9,474.2 L445.8,474.0 L446.6,473.9 L447.5,473.7 L448.3,473.6 L449.2,473.4 L450.1,473.2 L450.9,473.0 L451.8,472.9 L452.6,472.7 L453.5,472.5 L454.4,472.3 L455.2,472.1 L456.1,471.8 L456.9,471.6 L457.8,471.4 L458.6,471.1 L459.5,470.9 L460.4,470.6 L461.2,470.4 L462.1,470.1 L462.9,469.9 L463.8,469.6 L464.6,469.3 L465.5,469.0 L466.4,468.7 L467.2,468.4 L468.1,468.0 L468.9,467.7 L469.8,467.4 L470.7,467.0 L471.5,466.6 L472.4,466.3 L473.2,465.9 L474.1,465.5 L474.9,465.1 L475.8,464.7 L476.7,464.2 L477.5,463.8 L478.4,463.3 L479.2,462.9 L480.1,462.4 L481.0,461.9 L481.8,461.4 L482.7,460.9 L483.5,460.4 L484.4,459.8 L485.2,459.3 L486.1,458.7 L487.0,458.1 L487.8,457.5 L488.7,456.9 L489.6,456.3 L490.4,455.7 L491.3,455.0 L492.1,454.4 L493.0,453.7 L493.8,453.0 L494.7,452.3 L495.6,451.6 L496.4,450.8 L497.3,450.1 L498.1,449.3 L499.0,448.5 L499.9,447.7 L500.7,446.9 L501.6,446.1 L502.4,445.2 L503.3,444.4 L504.1,443.5 L505.0,442.6 L505.9,441.7 L506.7,440.8 L507.6,439.9 L508.4,438.9 L509.3,438.0 L510.1,437.0 L511.0,436.0 L511.9,435.0 L512.7,434.0 L513.6,433.0 L514.4,432.0 L515.3,430.9 L516.2,429.9 L517.0,428.8 L517.9,427.7 L518.7,426.6 L519.6,425.6 L520.5,424.5 L521.3,423.4 L522.2,422.3 L523.0,421.2 L523.9,420.0 L524.7,418.9 L525.6,417.8 L526.5,416.7 L527.3,415.6 L528.2,414.4 L529.0,413.3 L529.9,412.2 L530.8,411.1 L531.6,410.0 L532.5,408.9 L533.3,407.8 L534.2,406.7 L535.0,405.6 L535.9,404.6 L536.8,403.5 L537.6,402.5 L538.5,401.5 L539.3,400.4 L540.2,399.5 L541.0,398.5 L541.9,397.5 L542.8,396.6 L543.6,395.7 L544.5,394.8 L545.3,393.9 L546.2,393.1 L547.1,392.3 L547.9,391.5 L548.8,390.8 L549.6,390.0 L550.5,389.3 L551.4,388.7 L552.2,388.1 L553.1,387.5 L553.9,386.9 L554.8,386.4 L555.6,385.9 L556.5,385.5 L557.4,385.1 L558.2,384.7 L559.1,384.4 L559.9,384.1 L560.8,383.8 L561.6,383.6 L562.5,383.5 L563.4,383.4 L564.2,383.3 L565.1,383.2 L565.9,383.2 L566.8,383.3 L567.7,383.4 L568.5,383.4 L569.4,383.6 L570.2,383.8 L571.1,384.0 L572.0,384.2 L572.8,384.5 L573.7,384.8 L574.5,385.1 L575.4,385.5 L576.2,385.9 L577.1,386.3 L578.0,386.8 L578.8,387.2 L579.7,387.7 L580.5,388.3 L581.4,388.8 L582.2,389.4 L583.1,390.0 L584.0,390.6 L584.8,391.3 L585.7,391.9 L586.5,392.6 L587.4,393.3 L588.3,394.0 L589.1,394.7 L590.0,395.5 L590.8,396.2 L591.7,397.0 L592.5,397.8 L593.4,398.5 L594.3,399.3 L595.1,400.1 L596.0,400.9 L596.8,401.8 L597.7,402.6 L598.6,403.4 L599.4,404.2 L600.3,405.1 L601.1,405.9 L602.0,406.7 L602.9,407.6 L603.7,408.4 L604.6,409.2 L605.4,410.0 L606.3,410.9 L607.1,411.7 L608.0,412.5 L608.9,413.3 L609.7,414.1 L610.6,415.0 L611.4,415.8 L612.3,416.6 L613.1,417.4 L614.0,418.1 L614.9,418.9 L615.7,419.7 L616.6,420.5 L617.4,421.2 L618.3,422.0 L619.2,422.7 L620.0,423.5 L620.9,424.2 L621.7,424.9 L622.6,425.6 L623.5,426.3 L624.3,427.0 L625.2,427.7 L626.0,428.4 L626.9,429.1 L627.7,429.7 L628.6,430.4 L629.5,431.0 L630.3,431.7 L631.2,432.3 L632.0,432.9 L632.9,433.5 L633.8,434.1 L634.6,434.7 L635.5,435.3 L636.3,435.9 L637.2,436.4 L638.0,437.0 L638.9,437.6 L639.8,438.1 L640.6,438.6 L641.5,439.2 L642.3,439.7 L643.2,440.2 L644.0,440.7 L644.9,441.2 L645.8,441.7 L646.6,442.2 L647.5,442.6 L648.3,443.1 L649.2,443.6 L650.1,444.0 L650.9,444.5 L651.8,444.9 L652.6,445.3 L653.5,445.8 L654.4,446.2 L655.2,446.6 L656.1,447.0 L656.9,447.4 L657.8,447.8 L658.6,448.2 L659.5,448.6 L660.4,448.9 L661.2,449.3 L662.1,449.7 L662.9,450.0 L663.8,450.4 L664.6,450.7 L665.5,451.1 L666.4,451.4 L667.2,451.7 L668.1,452.0 L669.0,452.4 L669.8,452.7 L670.7,453.0 L671.5,453.3 L672.4,453.6 L673.2,453.9 L674.1,454.2 L675.0,454.4 L675.8,454.7 L676.7,455.0" stroke="rgba(255,255,255,0.4)" stroke-width="2.7"/>
<path d="M377.1,478.4 L378.0,478.4 L378.8,478.3 L379.7,478.3 L380.5,478.3 L381.4,478.3 L382.2,478.3 L383.1,478.3 L384.0,478.3 L384.8,478.2 L385.7,478.2 L386.5,478.2 L387.4,478.2 L388.3,478.2 L389.1,478.2 L390.0,478.1 L390.8,478.1 L391.7,478.1 L392.6,478.1 L393.4,478.1 L394.3,478.1 L395.1,478.0 L396.0,478.0 L396.8,478.0 L397.7,478.0 L398.6,477.9 L399.4,477.9 L400.3,477.9 L401.1,477.9 L402.0,477.8 L402.9,477.8 L403.7,477.8 L404.6,477.7 L405.4,477.7 L406.3,477.7 L407.1,477.6 L408.0,477.6 L408.9,477.6 L409.7,477.5 L410.6,477.5 L411.4,477.4 L412.3,477.4 L413.1,477.4 L414.0,477.3 L414.9,477.3 L415.7,477.2 L416.6,477.2 L417.4,477.1 L418.3,477.1 L419.2,477.0 L420.0,477.0 L420.9,476.9 L421.7,476.8 L422.6,476.8 L423.4,476.7 L424.3,476.6 L425.2,476.6 L426.0,476.5 L426.9,476.4 L427.7,476.4 L428.6,476.3 L429.5,476.2 L430.3,476.1 L431.2,476.0 L432.0,475.9 L432.9,475.8 L433.8,475.8 L434.6,475.6 L435.5,475.6 L436.3,475.4 L437.2,475.3 L438.0,475.2 L438.9,475.1 L439.8,475.0 L440.6,474.9 L441.5,474.7 L442.3,474.6 L443.2,474.5 L444.1,474.3 L444.9,474.2 L445.8,474.0 L446.6,473.9 L447.5,473.7 L448.3,473.6 L449.2,473.4 L450.1,473.2 L450.9,473.0 L451.8,472.9 L452.6,472.7 L453.5,472.5 L454.4,472.3 L455.2,472.1 L456.1,471.8 L456.9,471.6 L457.8,471.4 L458.6,471.1 L459.5,470.9 L460.4,470.6 L461.2,470.4 L462.1,470.1 L462.9,469.9 L463.8,469.6 L464.6,469.3 L465.5,469.0 L466.4,468.7 L467.2,468.4 L468.1,468.0 L468.9,467.7 L469.8,467.4 L470.7,467.0 L471.5,466.6 L472.4,466.3 L473.2,465.9 L474.1,465.5 L474.9,465.1 L475.8,464.7 L476.7,464.2 L477.5,463.8 L478.4,463.3 L479.2,462.9 L480.1,462.4 L481.0,461.9 L481.8,461.4 L482.7,460.9 L483.5,460.4 L484.4,459.8 L485.2,459.3 L486.1,458.7 L487.0,458.1 L487.8,457.5 L488.7,456.9 L489.6,456.3 L490.4,455.7 L491.3,455.0 L492.1,454.4 L493.0,453.7 L493.8,453.0 L494.7,452.3 L495.6,451.6 L496.4,450.8 L497.3,450.1 L498.1,449.3 L499.0,448.5 L499.9,447.7 L500.7,446.9 L501.6,446.1 L502.4,445.2 L503.3,444.4 L504.1,443.5 L505.0,442.6 L505.9,441.7 L506.7,440.8 L507.6,439.9 L508.4,438.9 L509.3,438.0 L510.1,437.0 L511.0,436.0 L511.9,435.0 L512.7,434.0 L513.6,433.0 L514.4,432.0 L515.3,430.9 L516.2,429.9 L517.0,428.8 L517.9,427.7 L518.7,426.6 L519.6,425.6 L520.5,424.5 L521.3,423.4 L522.2,422.3 L523.0,421.2 L523.9,420.0 L524.7,418.9 L525.6,417.8 L526.5,416.7 L527.3,415.6 L528.2,414.4 L529.0,413.3 L529.9,412.2 L530.8,411.1 L531.6,410.0 L532.5,408.9 L533.3,407.8 L534.2,406.7 L535.0,405.6 L535.9,404.6 L536.8,403.5 L537.6,402.5 L538.5,401.5 L539.3,400.4 L540.2,399.5 L541.0,398.5 L541.9,397.5 L542.8,396.6 L543.6,395.7 L544.5,394.8 L545.3,393.9 L546.2,393.1 L547.1,392.3 L547.9,391.5 L548.8,390.8 L549.6,390.0 L550.5,389.3 L551.4,388.7 L552.2,388.1 L553.1,387.5 L553.9,386.9 L554.8,386.4 L555.6,385.9 L556.5,385.5 L557.4,385.1 L558.2,384.7 L559.1,384.4 L559.9,384.1 L560.8,383.8 L561.6,383.6 L562.5,383.5 L563.4,383.4 L564.2,383.3 L565.1,383.2 L565.9,383.2 L566.8,383.3 L567.7,383.4 L568.5,383.4 L569.4,383.6 L570.2,383.8 L571.1,384.0 L572.0,384.2 L572.8,384.5 L573.7,384.8 L574.5,385.1 L575.4,385.5 L576.2,385.9 L577.1,386.3 L578.0,386.8 L578.8,387.2 L579.7,387.7 L580.5,388.3 L581.4,388.8 L582.2,389.4 L583.1,390.0 L584.0,390.6 L584.8,391.3 L585.7,391.9 L586.5,392.6 L587.4,393.3 L588.3,394.0 L589.1,394.7 L590.0,395.5 L590.8,396.2 L591.7,397.0 L592.5,397.8 L593.4,398.5 L594.3,399.3 L595.1,400.1 L596.0,400.9 L596.8,401.8 L597.7,402.6 L598.6,403.4 L599.4,404.2 L600.3,405.1 L601.1,405.9 L602.0,406.7 L602.9,407.6 L603.7,408.4 L604.6,409.2 L605.4,410.0 L606.3,410.9 L607.1,411.7 L608.0,412.5 L608.9,413.3 L609.7,414.1 L610.6,415.0 L611.4,415.8 L612.3,416.6 L613.1,417.4 L614.0,418.1 L614.9,418.9 L615.7,419.7 L616.6,420.5 L617.4,421.2 L618.3,422.0 L619.2,422.7 L620.0,423.5 L620.9,424.2 L621.7,424.9 L622.6,425.6 L623.5,426.3 L624.3,427.0 L625.2,427.7 L626.0,428.4 L626.9,429.1 L627.7,429.7 L628.6,430.4 L629.5,431.0 L630.3,431.7 L631.2,432.3 L632.0,432.9 L632.9,433.5 L633.8,434.1 L634.6,434.7 L635.5,435.3 L636.3,435.9 L637.2,436.4 L638.0,437.0 L638.9,437.6 L639.8,438.1 L640.6,438.6 L641.5,439.2 L642.3,439.7 L643.2,440.2 L644.0,440.7 L644.9,441.2 L645.8,441.7 L646.6,442.2 L647.5,442.6 L648.3,443.1 L649.2,443.6 L650.1,444.0 L650.9,444.5 L651.8,444.9 L652.6,445.3 L653.5,445.8 L654.4,446.2 L655.2,446.6 L656.1,447.0 L656.9,447.4 L657.8,447.8 L658.6,448.2 L659.5,448.6 L660.4,448.9 L661.2,449.3 L662.1,449.7 L662.9,450.0 L663.8,450.4 L664.6,450.7 L665.5,451.1 L666.4,451.4 L667.2,451.7 L668.1,452.0 L669.0,452.4 L669.8,452.7 L670.7,453.0 L671.5,453.3 L672.4,453.6 L673.2,453.9 L674.1,454.2 L675.0,454.4 L675.8,454.7 L676.7,455.0" stroke="#ff1aff" stroke-width="1.8"/>
<path d="M377.1,478.2 L378.0,478.2 L378.8,478.2 L379.7,478.2 L380.5,478.2 L381.4,478.2 L382.2,478.2 L383.1,478.2 L384.0,478.2 L384.8,478.2 L385.7,478.2 L386.5,478.1 L387.4,478.1 L388.3,478.1 L389.1,478.1 L390.0,478.1 L390.8,478.1 L391.7,478.1 L392.6,478.1 L393.4,478.1 L394.3,478.1 L395.1,478.0 L396.0,478.0 L396.8,478.0 L397.7,478.0 L398.6,478.0 L399.4,478.0 L400.3,478.0 L401.1,477.9 L402.0,477.9 L402.9,477.9 L403.7,477.9 L404.6,477.9 L405.4,477.9 L406.3,477.9 L407.1,477.8 L408.0,477.8 L408.9,477.8 L409.7,477.8 L410.6,477.8 L411.4,477.8 L412.3,477.8 L413.1,477.7 L414.0,477.7 L414.9,477.7 L415.7,477.7 L416.6,477.7 L417.4,477.6 L418.3,477.6 L419.2,477.6 L420.0,477.6 L420.9,477.6 L421.7,477.5 L422.6,477.5 L423.4,477.5 L424.3,477.5 L425.2,477.4 L426.0,477.4 L426.9,477.4 L427.7,477.4 L428.6,477.4 L429.5,477.3 L430.3,477.3 L431.2,477.3 L432.0,477.3 L432.9,477.2 L433.8,477.2 L434.6,477.2 L435.5,477.2 L436.3,477.1 L437.2,477.1 L438.0,477.1 L438.9,477.0 L439.8,477.0 L440.6,477.0 L441.5,476.9 L442.3,476.9 L443.2,476.9 L444.1,476.9 L444.9,476.8 L445.8,476.8 L446.6,476.8 L447.5,476.7 L448.3,476.7 L449.2,476.6 L450.1,476.6 L450.9,476.6 L451.8,476.5 L452.6,476.5 L453.5,476.5 L454.4,476.4 L455.2,476.4 L456.1,476.4 L456.9,476.3 L457.8,476.3 L458.6,476.2 L459.5,476.2 L460.4,476.1 L461.2,476.1 L462.1,476.0 L462.9,476.0 L463.8,475.9 L464.6,475.9 L465.5,475.9 L466.4,475.8 L467.2,475.7 L468.1,475.7 L468.9,475.6 L469.8,475.6 L470.7,475.5 L471.5,475.5 L472.4,475.4 L473.2,475.4 L474.1,475.3 L474.9,475.2 L475.8,475.2 L476.7,475.1 L477.5,475.1 L478.4,475.0 L479.2,474.9 L480.1,474.9 L481.0,474.8 L481.8,474.7 L482.7,474.7 L483.5,474.6 L484.4,474.5 L485.2,474.4 L486.1,474.4 L487.0,474.3 L487.8,474.2 L488.7,474.1 L489.6,474.1 L490.4,474.0 L491.3,473.9 L492.1,473.8 L493.0,473.7 L493.8,473.6 L494.7,473.6 L495.6,473.5 L496.4,473.4 L497.3,473.3 L498.1,473.2 L499.0,473.1 L499.9,473.0 L500.7,472.9 L501.6,472.8 L502.4,472.7 L503.3,472.6 L504.1,472.5 L505.0,472.4 L505.9,472.3 L506.7,472.2 L507.6,472.1 L508.4,472.0 L509.3,471.9 L510.1,471.7 L511.0,471.6 L511.9,471.5 L512.7,471.4 L513.6,471.3 L514.4,471.1 L515.3,471.0 L516.2,470.9 L517.0,470.8 L517.9,470.6 L518.7,470.5 L519.6,470.4 L520.5,470.2 L521.3,470.1 L522.2,469.9 L523.0,469.8 L523.9,469.6 L524.7,469.5 L525.6,469.3 L526.5,469.2 L527.3,469.0 L528.2,468.9 L529.0,468.7 L529.9,468.6 L530.8,468.4 L531.6,468.2 L532.5,468.1 L533.3,467.9 L534.2,467.7 L535.0,467.5 L535.9,467.4 L536.8,467.2 L537.6,467.0 L538.5,466.8 L539.3,466.6 L540.2,466.4 L541.0,466.2 L541.9,466.1 L542.8,465.9 L543.6,465.7 L544.5,465.5 L545.3,465.3 L546.2,465.1 L547.1,464.8 L547.9,464.6 L548.8,464.4 L549.6,464.2 L550.5,464.0 L551.4,463.8 L552.2,463.5 L553.1,463.3 L553.9,463.1 L554.8,462.9 L555.6,462.6 L556.5,462.4 L557.4,462.1 L558.2,461.9 L559.1,461.7 L559.9,461.4 L560.8,461.2 L561.6,460.9 L562.5,460.7 L563.4,460.4 L564.2,460.1 L565.1,459.9 L565.9,459.6 L566.8,459.4 L567.7,459.1 L568.5,458.8 L569.4,458.6 L570.2,458.3 L571.1,458.0 L572.0,457.7 L572.8,457.5 L573.7,457.2 L574.5,456.9 L575.4,456.6 L576.2,456.3 L577.1,456.0 L578.0,455.7 L578.8,455.4 L579.7,455.1 L580.5,454.9 L581.4,454.6 L582.2,454.3 L583.1,454.0 L584.0,453.7 L584.8,453.4 L585.7,453.1 L586.5,452.8 L587.4,452.4 L588.3,452.1 L589.1,451.8 L590.0,451.5 L590.8,451.2 L591.7,450.9 L592.5,450.6 L593.4,450.3 L594.3,450.0 L595.1,449.6 L596.0,449.3 L596.8,449.0 L597.7,448.7 L598.6,448.4 L599.4,448.1 L600.3,447.8 L601.1,447.5 L602.0,447.2 L602.9,446.9 L603.7,446.6 L604.6,446.2 L605.4,445.9 L606.3,445.6 L607.1,445.3 L608.0,445.0 L608.9,444.7 L609.7,444.4 L610.6,444.1 L611.4,443.9 L612.3,443.6 L613.1,443.3 L614.0,443.0 L614.9,442.7 L615.7,442.4 L616.6,442.1 L617.4,441.9 L618.3,441.6 L619.2,441.3 L620.0,441.1 L620.9,440.8 L621.7,440.6 L622.6,440.3 L623.5,440.1 L624.3,439.8 L625.2,439.6 L626.0,439.3 L626.9,439.1 L627.7,438.9 L628.6,438.7 L629.5,438.4 L630.3,438.2 L631.2,438.0 L632.0,437.8 L632.9,437.6 L633.8,437.4 L634.6,437.3 L635.5,437.1 L636.3,436.9 L637.2,436.8 L638.0,436.6 L638.9,436.4 L639.8,436.3 L640.6,436.2 L641.5,436.0 L642.3,435.9 L643.2,435.8 L644.0,435.7 L644.9,435.6 L645.8,435.5 L646.6,435.4 L647.5,435.3 L648.3,435.2 L649.2,435.2 L650.1,435.1 L650.9,435.1 L651.8,435.0 L652.6,435.0 L653.5,434.9 L654.4,434.9 L655.2,434.9 L656.1,434.9 L656.9,434.9 L657.8,434.9 L658.6,434.9 L659.5,434.9 L660.4,434.9 L661.2,435.0 L662.1,435.0 L662.9,435.0 L663.8,435.1 L664.6,435.1 L665.5,435.1 L666.4,435.2 L667.2,435.2 L668.1,435.3 L669.0,435.3 L669.8,435.4 L670.7,435.5 L671.5,435.5 L672.4,435.6 L673.2,435.7 L674.1,435.8 L675.0,435.9 L675.8,436.0 L676.7,436.1" stroke="rgba(255,255,255,0.4)" stroke-width="2.7"/>
<path d="M377.1,478.2 L378.0,478.2 L378.8,478.2 L379.7,478.2 L380.5,478.2 L381.4,478.2 L382.2,478.2 L383.1,478.2 L384.0,478.2 L384.8,478.2 L385.7,478.2 L386.5,478.1 L387.4,478.1 L388.3,478.1 L389.1,478.1 L390.0,478.1 L390.8,478.1 L391.7,478.1 L392.6,478.1 L393.4,478.1 L394.3,478.1 L395.1,478.0 L396.0,478.0 L396.8,478.0 L397.7,478.0 L398.6,478.0 L399.4,478.0 L400.3,478.0 L401.1,477.9 L402.0,477.9 L402.9,477.9 L403.7,477.9 L404.6,477.9 L405.4,477.9 L406.3,477.9 L407.1,477.8 L408.0,477.8 L408.9,477.8 L409.7,477.8 L410.6,477.8 L411.4,477.8 L412.3,477.8 L413.1,477.7 L414.0,477.7 L414.9,477.7 L415.7,477.7 L416.6,477.7 L417.4,477.6 L418.3,477.6 L419.2,477.6 L420.0,477.6 L420.9,477.6 L421.7,477.5 L422.6,477.5 L423.4,477.5 L424.3,477.5 L425.2,477.4 L426.0,477.4 L426.9,477.4 L427.7,477.4 L428.6,477.4 L429.5,477.3 L430.3,477.3 L431.2,477.3 L432.0,477.3 L432.9,477.2 L433.8,477.2 L434.6,477.2 L435.5,477.2 L436.3,477.1 L437.2,477.1 L438.0,477.1 L438.9,477.0 L439.8,477.0 L440.6,477.0 L441.5,476.9 L442.3,476.9 L443.2,476.9 L444.1,476.9 L444.9,476.8 L445.8,476.8 L446.6,476.8 L447.5,476.7 L448.3,476.7 L449.2,476.6 L450.1,476.6 L450.9,476.6 L451.8,476.5 L452.6,476.5 L453.5,476.5 L454.4,476.4 L455.2,476.4 L456.1,476.4 L456.9,476.3 L457.8,476.3 L458.6,476.2 L459.5,476.2 L460.4,476.1 L461.2,476.1 L462.1,476.0 L462.9,476.0 L463.8,475.9 L464.6,475.9 L465.5,475.9 L466.4,475.8 L467.2,475.7 L468.1,475.7 L468.9,475.6 L469.8,475.6 L470.7,475.5 L471.5,475.5 L472.4,475.4 L473.2,475.4 L474.1,475.3 L474.9,475.2 L475.8,475.2 L476.7,475.1 L477.5,475.1 L478.4,475.0 L479.2,474.9 L480.1,474.9 L481.0,474.8 L481.8,474.7 L482.7,474.7 L483.5,474.6 L484.4,474.5 L485.2,474.4 L486.1,474.4 L487.0,474.3 L487.8,474.2 L488.7,474.1 L489.6,474.1 L490.4,474.0 L491.3,473.9 L492.1,473.8 L493.0,473.7 L493.8,473.6 L494.7,473.6 L495.6,473.5 L496.4,473.4 L497.3,473.3 L498.1,473.2 L499.0,473.1 L499.9,473.0 L500.7,472.9 L501.6,472.8 L502.4,472.7 L503.3,472.6 L504.1,472.5 L505.0,472.4 L505.9,472.3 L506.7,472.2 L507.6,472.1 L508.4,472.0 L509.3,471.9 L510.1,471.7 L511.0,471.6 L511.9,471.5 L512.7,471.4 L513.6,471.3 L514.4,471.1 L515.3,471.0 L516.2,470.9 L517.0,470.8 L517.9,470.6 L518.7,470.5 L519.6,470.4 L520.5,470.2 L521.3,470.1 L522.2,469.9 L523.0,469.8 L523.9,469.6 L524.7,469.5 L525.6,469.3 L526.5,469.2 L527.3,469.0 L528.2,468.9 L529.0,468.7 L529.9,468.6 L530.8,468.4 L531.6,468.2 L532.5,468.1 L533.3,467.9 L534.2,467.7 L535.0,467.5 L535.9,467.4 L536.8,467.2 L537.6,467.0 L538.5,466.8 L539.3,466.6 L540.2,466.4 L541.0,466.2 L541.9,466.1 L542.8,465.9 L543.6,465.7 L544.5,465.5 L545.3,465.3 L546.2,465.1 L547.1,464.8 L547.9,464.6 L548.8,464.4 L549.6,464.2 L550.5,464.0 L551.4,463.8 L552.2,463.5 L553.1,463.3 L553.9,463.1 L554.8,462.9 L555.6,462.6 L556.5,462.4 L557.4,462.1 L558.2,461.9 L559.1,461.7 L559.9,461.4 L560.8,461.2 L561.6,460.9 L562.5,460.7 L563.4,460.4 L564.2,460.1 L565.1,459.9 L565.9,459.6 L566.8,459.4 L567.7,459.1 L568.5,458.8 L569.4,458.6 L570.2,458.3 L571.1,458.0 L572.0,457.7 L572.8,457.5 L573.7,457.2 L574.5,456.9 L575.4,456.6 L576.2,456.3 L577.1,456.0 L578.0,455.7 L578.8,455.4 L579.7,455.1 L580.5,454.9 L581.4,454.6 L582.2,454.3 L583.1,454.0 L584.0,453.7 L584.8,453.4 L585.7,453.1 L586.5,452.8 L587.4,452.4 L588.3,452.1 L589.1,451.8 L590.0,451.5 L590.8,451.2 L591.7,450.9 L592.5,450.6 L593.4,450.3 L594.3,450.0 L595.1,449.6 L596.0,449.3 L596.8,449.0 L597.7,448.7 L598.6,448.4 L599.4,448.1 L600.3,447.8 L601.1,447.5 L602.0,447.2 L602.9,446.9 L603.7,446.6 L604.6,446.2 L605.4,445.9 L606.3,445.6 L607.1,445.3 L608.0,445.0 L608.9,444.7 L609.7,444.4 L610.6,444.1 L611.4,443.9 L612.3,443.6 L613.1,443.3 L614.0,443.0 L614.9,442.7 L615.7,442.4 L616.6,442.1 L617.4,441.9 L618.3,441.6 L619.2,441.3 L620.0,441.1 L620.9,440.8 L621.7,440.6 L622.6,440.3 L623.5,440.1 L624.3,439.8 L625.2,439.6 L626.0,439.3 L626.9,439.1 L627.7,438.9 L628.6,438.7 L629.5,438.4 L630.3,438.2 L631.2,438.0 L632.0,437.8 L632.9,437.6 L633.8,437.4 L634.6,437.3 L635.5,437.1 L636.3,436.9 L637.2,436.8 L638.0,436.6 L638.9,436.4 L639.8,436.3 L640.6,436.2 L641.5,436.0 L642.3,435.9 L643.2,435.8 L644.0,435.7 L644.9,435.6 L645.8,435.5 L646.6,435.4 L647.5,435.3 L648.3,435.2 L649.2,435.2 L650.1,435.1 L650.9,435.1 L651.8,435.0 L652.6,435.0 L653.5,434.9 L654.4,434.9 L655.2,434.9 L656.1,434.9 L656.9,434.9 L657.8,434.9 L658.6,434.9 L659.5,434.9 L660.4,434.9 L661.2,435.0 L662.1,435.0 L662.9,435.0 L663.8,435.1 L664.6,435.1 L665.5,435.1 L666.4,435.2 L667.2,435.2 L668.1,435.3 L669.0,435.3 L669.8,435.4 L670.7,435.5 L671.5,435.5 L672.4,435.6 L673.2,435.7 L674.1,435.8 L675.0,435.9 L675.8,436.0 L676.7,436.1" stroke="#ff1a22" stroke-width="1.8"/>
<path d="M377.30,478.40 L379.82,478.38 L382.34,478.37 L384.86,478.35 L387.37,478.33 L389.89,478.32 L392.41,478.30 L394.93,478.29 L397.45,478.27 L399.97,478.25 L402.48,478.24 L405.00,478.22 L407.52,478.20 L410.04,478.19 L412.56,478.17 L415.08,478.15 L417.60,478.14 L420.11,478.12 L422.63,478.10 L425.15,478.09 L427.67,478.07 L430.19,478.06 L432.71,478.04 L435.23,478.02 L437.74,478.01 L440.26,477.99 L442.78,477.97 L445.30,477.96 L447.82,477.94 L450.34,477.92 L452.85,477.91 L455.37,477.89 L457.89,477.87 L460.41,477.86 L462.93,477.84 L465.45,477.83 L467.97,477.81 L470.48,477.79 L473.00,477.78 L475.52,477.76 L478.04,477.74 L480.56,477.73 L483.08,477.71 L485.59,477.69 L488.11,477.68 L490.63,477.66 L493.15,477.64 L495.67,477.63 L498.19,477.61 L500.71,477.59 L503.22,477.57 L505.74,477.55 L508.26,477.53 L510.78,477.51 L513.30,477.49 L515.82,477.47 L518.34,477.45 L520.85,477.43 L523.37,477.41 L525.89,477.39 L528.41,477.37 L530.93,477.35 L533.45,477.33 L535.96,477.31 L538.48,477.29 L541.00,477.27 L543.52,477.25 L546.04,477.23 L548.56,477.21 L551.08,477.19 L553.59,477.17 L556.11,477.15 L558.63,477.13 L561.15,477.11 L563.67,477.09 L566.19,477.07 L568.71,477.05 L571.22,477.03 L573.74,477.01 L576.26,476.99 L578.78,476.97 L581.30,476.95 L583.82,476.93 L586.33,476.91 L588.85,476.89 L591.37,476.87 L593.89,476.85 L596.41,476.83 L598.93,476.81 L601.45,476.78 L603.96,476.76 L606.48,476.73 L609.00,476.71 L611.52,476.68 L614.04,476.65 L616.56,476.63 L619.07,476.60 L621.59,476.58 L624.11,476.55 L626.63,476.52 L629.15,476.50 L631.67,476.47 L634.19,476.44 L636.70,476.42 L639.22,476.39 L641.74,476.37 L644.26,476.34 L646.78,476.31 L649.30,476.29 L651.82,476.26 L654.33,476.24 L656.85,476.21 L659.37,476.18 L661.89,476.16 L664.41,476.13 L666.93,476.10 L669.44,476.08 L671.96,476.05 L674.48,476.03 L677.00,476.00" stroke="rgba(255,255,255,0.5)" stroke-width="2.6"/>
<path d="M377.30,478.40 L379.82,478.38 L382.34,478.37 L384.86,478.35 L387.37,478.33 L389.89,478.32 L392.41,478.30 L394.93,478.29 L397.45,478.27 L399.97,478.25 L402.48,478.24 L405.00,478.22 L407.52,478.20 L410.04,478.19 L412.56,478.17 L415.08,478.15 L417.60,478.14 L420.11,478.12 L422.63,478.10 L425.15,478.09 L427.67,478.07 L430.19,478.06 L432.71,478.04 L435.23,478.02 L437.74,478.01 L440.26,477.99 L442.78,477.97 L445.30,477.96 L447.82,477.94 L450.34,477.92 L452.85,477.91 L455.37,477.89 L457.89,477.87 L460.41,477.86 L462.93,477.84 L465.45,477.83 L467.97,477.81 L470.48,477.79 L473.00,477.78 L475.52,477.76 L478.04,477.74 L480.56,477.73 L483.08,477.71 L485.59,477.69 L488.11,477.68 L490.63,477.66 L493.15,477.64 L495.67,477.63 L498.19,477.61 L500.71,477.59 L503.22,477.57 L505.74,477.55 L508.26,477.53 L510.78,477.51 L513.30,477.49 L515.82,477.47 L518.34,477.45 L520.85,477.43 L523.37,477.41 L525.89,477.39 L528.41,477.37 L530.93,477.35 L533.45,477.33 L535.96,477.31 L538.48,477.29 L541.00,477.27 L543.52,477.25 L546.04,477.23 L548.56,477.21 L551.08,477.19 L553.59,477.17 L556.11,477.15 L558.63,477.13 L561.15,477.11 L563.67,477.09 L566.19,477.07 L568.71,477.05 L571.22,477.03 L573.74,477.01 L576.26,476.99 L578.78,476.97 L581.30,476.95 L583.82,476.93 L586.33,476.91 L588.85,476.89 L591.37,476.87 L593.89,476.85 L596.41,476.83 L598.93,476.81 L601.45,476.78 L603.96,476.76 L606.48,476.73 L609.00,476.71 L611.52,476.68 L614.04,476.65 L616.56,476.63 L619.07,476.60 L621.59,476.58 L624.11,476.55 L626.63,476.52 L629.15,476.50 L631.67,476.47 L634.19,476.44 L636.70,476.42 L639.22,476.39 L641.74,476.37 L644.26,476.34 L646.78,476.31 L649.30,476.29 L651.82,476.26 L654.33,476.24 L656.85,476.21 L659.37,476.18 L661.89,476.16 L664.41,476.13 L666.93,476.10 L669.44,476.08 L671.96,476.05 L674.48,476.03 L677.00,476.00" stroke="#000" stroke-width="1.2"/>
</g>
<rect x="599.8" y="290.2" width="72.60000000000002" height="81.80000000000001" fill="#000" stroke="#8a8a8a" stroke-width="1.8"/>
<path d="M602.2,301.4H620.6" stroke="#2828ff" stroke-width="2.6"/>
<text class="t s" x="621.10" y="304.55" font-size="9.9" text-anchor="start">ζ</text>
<text class="t s" x="625.60" y="308.15" font-size="5.3999999999999995" text-anchor="start">d</text>
<text class="t s" x="628.75" y="304.55" font-size="9" text-anchor="start" textLength="35.20" lengthAdjust="spacingAndGlyphs">=1.5 x 10</text>
<text class="t s" x="664.35" y="300.05" font-size="5.8500000000000005" text-anchor="start">8</text>
<path d="M602.2,321.1H620.6" stroke="#ff1aff" stroke-width="2.6"/>
<text class="t s" x="621.10" y="324.25" font-size="9.9" text-anchor="start">ζ</text>
<text class="t s" x="625.60" y="327.85" font-size="5.3999999999999995" text-anchor="start">d</text>
<text class="t s" x="628.75" y="324.25" font-size="9" text-anchor="start" textLength="35.20" lengthAdjust="spacingAndGlyphs">=1.2 x 10</text>
<text class="t s" x="664.35" y="319.75" font-size="5.8500000000000005" text-anchor="start">8</text>
<path d="M602.2,340.6H620.6" stroke="#ff1a22" stroke-width="2.6"/>
<text class="t s" x="621.10" y="343.75" font-size="9.9" text-anchor="start">ζ</text>
<text class="t s" x="625.60" y="347.35" font-size="5.3999999999999995" text-anchor="start">d</text>
<text class="t s" x="628.75" y="343.75" font-size="9" text-anchor="start" textLength="25.20" lengthAdjust="spacingAndGlyphs">=1 x 10</text>
<text class="t s" x="654.35" y="339.25" font-size="5.8500000000000005" text-anchor="start">8</text>
<path d="M602.2,359.5H620.6" stroke="rgba(255,255,255,0.5)" stroke-width="3.2"/>
<path d="M602.2,359.5H620.6" stroke="#000" stroke-width="1.2"/>
<text class="t s" x="621.10" y="362.65" font-size="9.9" text-anchor="start">ζ</text>
<text class="t s" x="625.60" y="366.25" font-size="5.3999999999999995" text-anchor="start">d</text>
<text class="t s" x="628.75" y="362.65" font-size="9" text-anchor="start" textLength="35.20" lengthAdjust="spacingAndGlyphs">=0.8 x 10</text>
<text class="t s" x="664.35" y="358.15" font-size="5.8500000000000005" text-anchor="start">8</text>
<text class="t s" x="377.10" y="488.70" font-size="8" text-anchor="middle" textLength="3.00" lengthAdjust="spacingAndGlyphs">0</text>
<text class="t s" x="427.10" y="488.70" font-size="8" text-anchor="middle" textLength="6.00" lengthAdjust="spacingAndGlyphs">50</text>
<text class="t s" x="477.10" y="488.70" font-size="8" text-anchor="middle" textLength="9.00" lengthAdjust="spacingAndGlyphs">100</text>
<text class="t s" x="527.10" y="488.70" font-size="8" text-anchor="middle" textLength="9.00" lengthAdjust="spacingAndGlyphs">150</text>
<text class="t s" x="577.10" y="488.70" font-size="8" text-anchor="middle" textLength="9.00" lengthAdjust="spacingAndGlyphs">200</text>
<text class="t s" x="627.10" y="488.70" font-size="8" text-anchor="middle" textLength="9.00" lengthAdjust="spacingAndGlyphs">250</text>
<text class="t s" x="677.10" y="488.70" font-size="8" text-anchor="middle" textLength="9.00" lengthAdjust="spacingAndGlyphs">300</text>
<text class="t s" x="372.00" y="481.53" font-size="8" text-anchor="start" textLength="3.00" lengthAdjust="spacingAndGlyphs">0</text>
<text class="t s" x="367.50" y="453.98" font-size="8" text-anchor="start" textLength="7.50" lengthAdjust="spacingAndGlyphs">0.5</text>
<text class="t s" x="372.00" y="426.43" font-size="8" text-anchor="start" textLength="3.00" lengthAdjust="spacingAndGlyphs">1</text>
<text class="t s" x="367.50" y="398.88" font-size="8" text-anchor="start" textLength="7.50" lengthAdjust="spacingAndGlyphs">1.5</text>
<text class="t s" x="372.00" y="371.33" font-size="8" text-anchor="start" textLength="3.00" lengthAdjust="spacingAndGlyphs">2</text>
<text class="t s" x="367.50" y="343.78" font-size="8" text-anchor="start" textLength="7.50" lengthAdjust="spacingAndGlyphs">2.5</text>
<text class="t s" x="372.00" y="316.23" font-size="8" text-anchor="start" textLength="3.00" lengthAdjust="spacingAndGlyphs">3</text>
<text class="t s" x="367.50" y="288.68" font-size="8" text-anchor="start" textLength="7.50" lengthAdjust="spacingAndGlyphs">3.5</text>
<text class="t s" x="377.00" y="285.00" font-size="8" text-anchor="start" textLength="9.50" lengthAdjust="spacingAndGlyphs">x10</text>
<text class="t s" x="386.80" y="281.40" font-size="6.0" text-anchor="start">4</text>
<text class="t" x="510.10" y="281.20" font-size="11.0" text-anchor="start" textLength="6.70" lengthAdjust="spacingAndGlyphs">α</text>
<text class="t b" x="517.10" y="281.20" font-size="13.5" text-anchor="start" textLength="25.80" lengthAdjust="spacingAndGlyphs">=0.85</text>
<text class="t" x="0" y="0" font-size="9.5" text-anchor="middle" textLength="70" lengthAdjust="spacingAndGlyphs" transform="translate(363.8,382) rotate(-90)">I(t)+A(t)+H(t)</text>
<text class="t" x="504.60" y="504.50" font-size="13" text-anchor="start" textLength="45.50" lengthAdjust="spacingAndGlyphs">Time(days)</text>
<text class="t" x="521.00" y="527.30" font-size="14.8" text-anchor="start" textLength="19.80" lengthAdjust="spacingAndGlyphs">(d)</text>
</svg></body></html>
